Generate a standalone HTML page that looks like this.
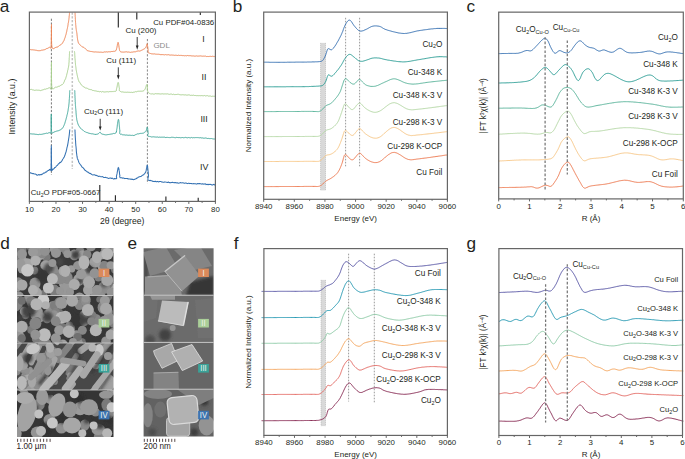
<!DOCTYPE html><html><head><meta charset="utf-8"><style>html,body{margin:0;padding:0;background:#fff;width:685px;height:459px;overflow:hidden}svg{display:block}</style></head><body><svg width="685" height="459" viewBox="0 0 685 459" font-family='"Liberation Sans", sans-serif'>
<rect width="685" height="459" fill="#fff"/>
<text x="-0.2" y="11.8" font-size="17.2" text-anchor="start" fill="#231f20" >a</text>
<text x="232.8" y="11.6" font-size="17.2" text-anchor="start" fill="#231f20" >b</text>
<text x="466.4" y="12" font-size="17.2" text-anchor="start" fill="#231f20" >c</text>
<text x="0.2" y="248.6" font-size="17.2" text-anchor="start" fill="#231f20" >d</text>
<text x="127.4" y="248.7" font-size="17.2" text-anchor="start" fill="#231f20" >e</text>
<text x="233.8" y="248.6" font-size="17.2" text-anchor="start" fill="#231f20" >f</text>
<text x="466.6" y="248.6" font-size="17.2" text-anchor="start" fill="#231f20" >g</text>
<line x1="51.4" y1="18.7" x2="51.4" y2="175" stroke="#6a6a6a" stroke-width="0.9" stroke-dasharray="2.2,1.6" />
<line x1="72.3" y1="12.5" x2="72.3" y2="169" stroke="#c4c4c4" stroke-width="1.5" stroke-dasharray="2.2,1.6" />
<line x1="147.4" y1="39" x2="147.4" y2="183.5" stroke="#7a7a7a" stroke-width="0.9" stroke-dasharray="2.2,1.6" />
<path d="M29.5,49.6 L29.8,49.5 L30.2,49.6 L30.6,49.6 L31.1,49.7 L31.7,49.8 L32.2,49.7 L32.8,49.9 L33.4,49.9 L34.0,50.0 L34.5,50.0 L35.0,50.0 L35.5,50.2 L36.0,50.4 L36.5,50.3 L37.0,50.3 L37.5,50.6 L38.0,50.7 L38.5,50.7 L39.0,50.6 L39.5,50.7 L40.0,50.5 L40.5,50.6 L41.0,50.4 L41.5,50.2 L42.0,50.1 L42.5,50.1 L43.0,50.1 L43.5,49.9 L44.0,49.8 L44.5,49.7 L45.0,49.5 L45.5,49.3 L46.0,48.9 L46.5,48.6 L47.0,48.5 L47.5,48.4 L48.0,48.1 L48.5,47.8 L48.9,47.7 L49.3,47.4 L49.6,47.3 L50.4,47.8 L50.8,48.3 L51.1,46.4 L51.1,46.2 L51.1,45.9 L51.2,45.7 L51.2,45.2 L51.2,44.7 L51.2,44.3 L51.2,43.6 L51.2,43.1 L51.3,42.6 L51.3,41.9 L51.3,41.2 L51.3,40.6 L51.3,40.1 L51.3,39.5 L51.3,38.8 L51.3,38.1 L51.3,37.3 L51.3,36.7 L51.4,36.0 L51.4,35.3 L51.4,34.5 L51.4,34.0 L51.4,33.3 L51.4,32.5 L51.4,31.8 L51.4,31.0 L51.4,30.5 L51.4,30.0 L51.4,29.5 L51.4,28.9 L51.4,28.1 L51.4,27.6 L51.4,27.2 L51.4,26.6 L51.4,26.2 L51.4,25.8 L51.5,25.4 L51.5,25.2 L51.5,25.1 L51.5,24.8 L51.5,24.7 L51.5,24.7 L51.5,24.8 L51.5,24.6 L51.5,24.8 L51.5,25.0 L51.5,25.3 L51.5,25.6 L51.5,25.8 L51.5,25.9 L51.5,26.3 L51.5,26.7 L51.5,27.3 L51.5,27.8 L51.5,28.0 L51.5,28.5 L51.5,29.1 L51.5,29.7 L51.5,30.4 L51.5,31.0 L51.5,31.5 L51.5,32.1 L51.5,32.9 L51.5,33.6 L51.5,34.4 L51.5,35.2 L51.5,35.8 L51.5,36.5 L51.5,37.2 L51.5,37.8 L51.5,38.4 L51.5,39.3 L51.5,40.0 L51.5,40.7 L51.6,41.3 L51.6,41.7 L51.6,42.3 L51.6,42.8 L51.6,43.4 L51.7,43.8 L51.7,44.3 L51.7,44.8 L51.7,45.3 L51.8,45.7 L51.8,46.0 L51.9,46.3 L51.9,46.6 L52.2,47.9 L52.7,48.5 L53.2,48.6 L53.8,48.6 L54.4,48.2 L55.0,47.7 L55.5,47.5 L56.0,47.4 L56.5,47.2 L57.0,47.0 L57.5,47.0 L58.0,46.8 L58.5,46.3 L59.0,45.9 L59.4,45.5 L59.9,45.2 L60.3,45.0 L60.7,44.8 L61.2,44.5 L61.6,44.0 L61.9,43.6 L62.3,43.4 L62.6,42.9 L62.9,42.4 L63.1,42.0 L63.4,41.4 L63.6,41.1 L63.8,40.8 L64.1,40.3 L64.3,39.6 L64.5,38.9 L64.7,38.4 L64.8,38.0 L65.0,37.7 L65.2,37.2 L65.3,36.7 L65.5,36.1 L65.6,35.5 L65.8,35.2 L65.9,34.8 L66.1,34.2 L66.2,33.7 L66.3,33.2 L66.4,32.6 L66.5,32.0 L66.7,31.6 L66.8,31.0 L66.9,30.4 L67.0,29.9 L67.1,29.4 L67.2,29.0 L67.3,28.7 L67.4,28.2 L67.5,27.6 L67.6,27.2 L67.7,26.8 L67.8,26.2 L67.9,25.5 L68.0,24.9 L68.1,24.3 L68.1,23.8 L68.2,23.3 L68.3,23.0 L68.4,22.6 L68.5,22.0 L68.6,21.4 L68.7,20.9 L68.7,20.4 L68.8,19.7 L68.9,19.3 L68.9,18.9 L69.0,18.3 L69.1,17.6 L69.1,16.9 L69.2,16.2 L69.3,15.7 L69.3,15.1 L69.4,14.7 L69.4,14.2 L69.5,13.6 L69.5,13.2 L69.6,13.0 L69.6,12.5" fill="none" stroke="#ee8454" stroke-width="1.0" stroke-linejoin="round"/>
<path d="M75.0,12.5 L75.0,12.6 L75.0,13.0 L75.1,13.6 L75.1,14.0 L75.1,14.3 L75.1,14.9 L75.2,15.5 L75.2,15.9 L75.2,16.3 L75.2,16.8 L75.3,17.3 L75.3,17.9 L75.3,18.8 L75.4,19.4 L75.4,19.9 L75.4,20.6 L75.5,21.1 L75.5,21.8 L75.5,22.3 L75.6,22.7 L75.6,23.2 L75.7,23.7 L75.7,24.3 L75.7,24.8 L75.8,25.2 L75.8,25.6 L75.9,26.3 L75.9,27.1 L76.0,27.6 L76.1,28.2 L76.1,28.8 L76.2,29.3 L76.3,29.7 L76.3,30.2 L76.4,30.6 L76.5,31.0 L76.6,31.4 L76.6,31.8 L76.7,32.3 L76.8,32.8 L76.9,33.3 L76.9,34.0 L77.0,34.5 L77.1,35.1 L77.1,35.8 L77.2,36.3 L77.3,36.8 L77.3,37.4 L77.4,38.1 L77.5,38.6 L77.6,39.0 L77.6,39.6 L77.7,40.0 L77.8,40.5 L77.9,41.1 L78.0,41.4 L78.2,42.1 L78.4,42.8 L78.6,43.2 L78.8,43.5 L79.0,43.8 L79.3,44.2 L79.6,44.5 L80.0,45.0 L80.3,45.2 L80.7,45.5 L81.2,45.9 L81.6,46.3 L82.1,46.6 L82.6,47.0 L83.1,47.2 L83.6,47.3 L84.1,47.7 L84.5,48.1 L84.9,48.3 L85.3,48.4 L85.6,48.8 L85.9,49.2 L86.1,49.4 L86.4,49.8 L86.8,50.1 L87.3,50.6 L88.0,51.0 L88.3,51.0 L88.7,50.9 L89.2,51.1 L89.6,51.2 L90.1,51.2 L90.6,51.5 L91.1,51.6 L91.6,51.5 L92.2,51.7 L92.8,51.7 L93.3,51.8 L93.9,52.0 L94.4,52.0 L95.0,51.9 L95.5,51.9 L96.1,52.0 L96.6,52.0 L97.1,52.0 L97.6,52.1 L98.0,52.2 L98.6,52.1 L99.1,52.2 L99.7,52.2 L100.1,52.1 L100.6,52.2 L101.1,52.3 L101.5,52.2 L102.0,52.1 L102.4,52.3 L102.9,52.4 L103.4,52.3 L103.9,52.0 L104.4,51.9 L105.0,51.9 L105.5,52.0 L105.9,51.9 L106.5,51.8 L107.0,51.9 L107.5,52.0 L108.1,52.0 L108.7,51.7 L109.3,51.7 L109.8,51.9 L110.4,51.8 L111.0,51.7 L111.5,51.5 L112.0,51.4 L112.6,51.5 L113.0,51.4 L113.5,51.3 L113.9,51.5 L114.3,51.4 L114.6,51.3 L115.5,50.9 L115.9,50.7 L116.1,50.2 L116.3,49.8 L116.5,49.0 L116.6,48.5 L116.8,48.2 L116.9,47.7 L117.0,46.8 L117.2,46.1 L117.3,45.5 L117.4,44.8 L117.5,44.1 L117.7,43.5 L117.8,43.0 L117.9,42.6 L118.0,42.4 L118.1,42.3 L118.2,42.5 L118.3,42.7 L118.4,43.0 L118.5,43.5 L118.6,44.1 L118.7,44.7 L118.8,45.4 L118.9,46.1 L119.0,47.0 L119.1,47.5 L119.2,47.9 L119.3,48.7 L119.4,49.4 L119.5,49.8 L119.6,50.4 L119.8,50.9 L120.1,51.3 L120.5,51.7 L120.8,51.8 L121.2,51.9 L121.7,52.1 L122.2,52.2 L122.7,52.0 L123.2,52.1 L123.8,52.1 L124.3,52.1 L124.9,51.9 L125.5,51.9 L126.0,51.8 L126.5,51.8 L127.0,51.9 L127.6,52.1 L128.1,52.0 L128.6,52.0 L129.2,52.0 L129.7,52.3 L130.3,52.4 L130.8,52.3 L131.3,52.2 L131.8,52.1 L132.3,52.1 L132.9,52.1 L133.4,51.9 L133.9,51.9 L134.5,51.8 L135.0,51.9 L135.5,51.8 L135.9,51.5 L136.4,51.3 L136.8,51.4 L137.2,51.2 L137.9,51.0 L138.4,50.9 L138.9,51.1 L139.4,51.1 L140.0,51.0 L140.5,50.8 L141.0,50.6 L141.5,50.3 L142.1,50.0 L142.6,49.8 L143.1,49.6 L143.6,49.2 L144.0,49.0 L144.5,48.7 L145.0,48.3 L145.4,48.0 L145.7,47.6 L146.0,47.1 L146.2,46.6 L146.4,46.0 L146.6,45.4 L146.8,44.6 L146.9,44.0 L147.1,43.8 L147.2,43.7 L147.3,43.9 L147.4,44.3 L147.5,44.6 L147.5,45.4 L147.6,46.1 L147.7,46.7 L147.8,47.4 L147.8,48.0 L147.9,48.4 L148.0,49.0 L148.1,49.6 L148.1,50.3 L148.1,50.9 L148.1,51.5 L148.2,52.0 L148.3,52.5 L148.5,52.9 L148.9,53.2 L149.2,53.2 L149.6,53.2 L150.0,53.4 L150.5,53.5 L150.9,53.6 L151.5,53.8 L152.0,53.9 L152.6,53.9 L153.2,53.9 L153.8,54.0 L154.4,53.9 L155.0,53.9 L155.4,54.1 L155.8,54.2 L156.1,54.2 L156.5,54.2 L156.8,54.2 L157.1,54.1 L157.5,54.3 L157.8,54.2 L158.2,54.2 L158.7,54.3 L159.1,54.4 L159.7,54.4 L160.3,54.6 L161.0,54.7 L161.8,54.6 L162.6,54.6 L163.6,54.7 L163.9,54.8 L164.3,54.9 L164.7,54.8 L165.1,54.8 L165.4,54.6 L165.9,54.6 L166.3,54.7 L166.7,54.9 L167.1,54.8 L167.6,54.8 L168.0,54.7 L168.5,54.7 L169.0,54.8 L169.5,55.0 L170.0,55.1 L170.5,55.1 L171.0,55.0 L171.5,55.0 L172.0,55.1 L172.5,55.1 L173.1,55.0 L173.6,55.2 L174.1,55.2 L174.7,55.4 L175.2,55.4 L175.8,55.1 L176.3,55.2 L176.9,55.5 L177.4,55.5 L178.0,55.4 L178.6,55.2 L179.1,55.3 L179.7,55.5 L180.3,55.4 L180.8,55.4 L181.4,55.4 L182.0,55.5 L182.5,55.6 L183.1,55.5 L183.6,55.6 L184.2,55.7 L184.7,55.8 L185.3,55.7 L185.8,55.6 L186.4,55.8 L186.9,55.7 L187.4,55.5 L188.0,55.5 L188.5,55.7 L189.0,55.7 L189.5,55.7 L190.0,55.6 L190.5,55.7 L191.0,55.8 L191.6,55.9 L192.1,55.8 L192.7,56.0 L193.2,56.0 L193.8,55.9 L194.3,56.1 L194.9,56.1 L195.5,56.1 L196.1,56.0 L196.6,55.9 L197.2,56.0 L197.8,56.2 L198.4,56.1 L199.0,56.0 L199.6,56.0 L200.1,56.0 L200.7,55.9 L201.3,56.0 L201.9,56.2 L202.5,56.2 L203.0,56.3 L203.6,56.1 L204.2,56.1 L204.7,56.2 L205.3,56.1 L205.8,56.2 L206.3,56.5 L206.9,56.5 L207.4,56.5 L207.9,56.4 L208.4,56.5 L208.9,56.5 L209.4,56.4 L209.9,56.4 L210.3,56.3 L210.8,56.4 L211.2,56.4 L211.6,56.5 L212.0,56.5 L212.4,56.3 L212.8,56.3 L213.2,56.5 L213.5,56.4 L213.9,56.4 L214.2,56.4 L214.5,56.4 L214.7,56.6 L215.0,56.5" fill="none" stroke="#ee8454" stroke-width="1.0" stroke-linejoin="round"/>
<path d="M29.5,89.4 L29.8,89.4 L30.1,89.4 L30.5,89.5 L30.9,89.5 L31.3,89.4 L31.8,89.5 L32.3,89.7 L32.8,90.0 L33.3,90.0 L33.9,90.0 L34.4,90.3 L35.0,90.4 L35.6,90.2 L36.2,90.1 L36.8,90.1 L37.3,90.2 L37.9,90.2 L38.5,90.2 L39.0,90.2 L39.5,90.3 L40.0,90.4 L40.5,90.6 L41.1,90.4 L41.7,90.2 L42.2,90.0 L42.8,89.9 L43.4,89.7 L44.0,89.5 L44.5,89.2 L45.1,89.2 L45.6,89.2 L46.2,88.9 L46.7,88.7 L47.2,88.7 L47.7,88.6 L48.1,88.2 L48.5,88.0 L48.9,87.9 L49.3,87.8 L49.6,87.8 L50.7,88.5 L51.0,89.3 L51.1,87.1 L51.1,86.5 L51.1,86.2 L51.2,86.1 L51.2,85.9 L51.2,85.3 L51.2,84.8 L51.2,84.1 L51.2,83.8 L51.2,83.5 L51.3,83.0 L51.3,82.4 L51.3,81.8 L51.3,80.9 L51.3,80.1 L51.3,79.5 L51.3,79.0 L51.3,78.5 L51.3,78.0 L51.3,77.2 L51.3,76.5 L51.3,75.8 L51.4,75.0 L51.4,74.2 L51.4,73.4 L51.4,72.9 L51.4,72.2 L51.4,71.7 L51.4,71.0 L51.4,70.1 L51.4,69.3 L51.4,68.8 L51.4,68.4 L51.4,67.8 L51.4,66.9 L51.4,66.4 L51.4,66.0 L51.4,65.6 L51.4,65.0 L51.4,64.5 L51.4,64.1 L51.4,63.6 L51.4,63.3 L51.5,63.1 L51.5,63.0 L51.5,62.8 L51.5,62.6 L51.5,62.2 L51.5,61.9 L51.5,61.9 L51.5,62.2 L51.5,62.1 L51.5,62.0 L51.5,62.0 L51.5,62.3 L51.5,62.6 L51.5,62.8 L51.5,63.0 L51.5,63.5 L51.5,64.0 L51.5,64.1 L51.5,64.4 L51.5,64.9 L51.5,65.5 L51.5,66.1 L51.5,66.5 L51.5,67.3 L51.5,67.9 L51.5,68.3 L51.5,68.9 L51.5,69.7 L51.5,70.3 L51.5,70.9 L51.5,71.4 L51.5,72.1 L51.5,72.9 L51.5,73.6 L51.5,74.4 L51.5,75.0 L51.5,75.5 L51.5,76.2 L51.5,77.0 L51.5,77.9 L51.5,78.6 L51.5,79.0 L51.5,79.6 L51.6,80.3 L51.6,81.1 L51.6,81.5 L51.6,81.9 L51.6,82.5 L51.6,83.3 L51.7,84.1 L51.7,84.6 L51.7,85.0 L51.7,85.6 L51.8,85.9 L51.8,86.0 L51.8,86.3 L51.9,86.9 L51.9,87.1 L52.2,88.2 L52.6,89.0 L53.1,89.1 L53.6,88.7 L54.1,88.2 L54.8,87.6 L55.5,87.2 L55.9,87.2 L56.3,87.2 L56.8,87.2 L57.3,86.9 L57.9,86.8 L58.4,86.4 L59.0,86.2 L59.5,86.2 L60.1,85.9 L60.6,85.4 L61.1,85.0 L61.5,84.9 L61.9,84.7 L62.3,84.6 L62.8,84.0 L63.2,83.6 L63.5,83.3 L63.7,82.7 L63.9,82.3 L64.1,82.1 L64.3,81.6 L64.5,80.8 L64.7,80.2 L64.9,79.9 L65.1,79.8 L65.3,79.2 L65.5,78.9 L65.7,78.4 L65.9,77.7 L66.0,77.2 L66.2,76.9 L66.3,76.3 L66.5,75.7 L66.6,75.3 L66.7,74.7 L66.9,74.0 L67.0,73.5 L67.1,73.3 L67.2,72.9 L67.4,72.3 L67.5,71.7 L67.6,70.8 L67.7,70.3 L67.8,70.1 L67.9,69.9 L68.0,69.5 L68.1,68.9 L68.2,68.3 L68.3,67.9 L68.4,67.6 L68.5,67.1 L68.6,66.3 L68.7,65.8 L68.8,65.1 L68.8,64.7 L68.9,64.3 L68.9,63.7 L68.9,63.1 L69.0,62.5 L69.0,62.1 L69.1,61.6 L69.1,60.8 L69.1,60.2 L69.2,59.8 L69.2,59.1 L69.2,58.3 L69.3,57.7 L69.3,57.3 L69.3,56.8 L69.4,56.4 L69.4,55.9 L69.4,55.3 L69.4,54.4 L69.5,53.7 L69.5,53.2 L69.5,53.0 L69.5,52.6 L69.5,52.1 L69.6,51.7 L69.6,51.4 L69.6,51.2" fill="none" stroke="#a9d08f" stroke-width="1.0" stroke-linejoin="round"/>
<path d="M74.5,51.2 L74.5,51.6 L74.5,52.0 L74.6,52.2 L74.6,52.4 L74.6,52.9 L74.7,53.3 L74.7,53.7 L74.7,54.2 L74.8,54.8 L74.8,55.1 L74.8,55.6 L74.9,56.1 L74.9,56.8 L74.9,57.6 L75.0,58.1 L75.0,58.5 L75.1,59.2 L75.1,60.0 L75.2,60.4 L75.2,60.9 L75.3,61.7 L75.3,62.3 L75.4,62.9 L75.4,63.2 L75.5,63.9 L75.5,64.6 L75.6,65.2 L75.6,65.6 L75.7,65.8 L75.7,66.2 L75.8,66.7 L75.9,67.4 L76.0,68.3 L76.0,68.8 L76.1,69.4 L76.2,69.9 L76.3,70.5 L76.4,71.0 L76.5,71.5 L76.6,72.3 L76.7,72.8 L76.8,73.1 L76.9,73.7 L77.0,74.3 L77.1,74.6 L77.2,75.1 L77.3,75.5 L77.4,76.0 L77.5,76.5 L77.6,77.1 L77.7,77.5 L77.8,77.7 L77.9,78.0 L78.0,78.5 L78.2,79.4 L78.4,79.9 L78.6,80.4 L78.7,80.9 L78.9,81.5 L79.1,81.8 L79.4,81.9 L79.7,82.3 L80.0,82.9 L80.3,83.4 L80.5,83.7 L80.8,83.8 L81.0,84.2 L81.3,84.8 L81.6,85.1 L81.9,85.3 L82.3,85.8 L82.7,86.3 L83.1,86.5 L83.7,86.8 L84.2,87.1 L84.9,87.5 L85.2,87.9 L85.6,88.1 L86.0,88.0 L86.4,88.0 L86.8,88.3 L87.2,88.3 L87.6,88.5 L88.1,88.9 L88.5,89.1 L89.0,89.3 L89.5,89.4 L90.0,89.6 L90.5,89.6 L91.0,89.6 L91.5,89.7 L92.0,90.1 L92.5,90.4 L93.1,90.5 L93.6,90.5 L94.2,90.7 L94.7,90.8 L95.2,90.9 L95.8,90.9 L96.3,91.0 L96.9,91.3 L97.4,91.4 L98.0,91.3 L98.5,91.4 L98.9,91.7 L99.4,91.8 L99.9,91.5 L100.5,91.5 L101.0,91.9 L101.6,92.0 L102.1,91.7 L102.7,91.6 L103.2,91.9 L103.8,91.8 L104.4,92.0 L105.0,91.9 L105.6,91.9 L106.1,91.7 L106.7,91.8 L107.3,91.7 L107.9,91.8 L108.4,91.9 L109.0,91.9 L109.5,91.6 L110.0,91.5 L110.5,91.6 L111.0,91.7 L111.5,91.6 L112.0,91.4 L112.4,91.5 L112.9,91.7 L113.3,91.7 L113.6,91.4 L114.0,91.5 L114.3,91.5 L114.6,91.3 L115.8,91.2 L116.3,90.8 L116.5,90.6 L116.4,90.2 L116.4,89.7 L116.5,88.9 L116.6,88.6 L116.8,88.1 L116.9,87.5 L117.0,87.0 L117.2,86.2 L117.3,85.5 L117.4,84.7 L117.5,84.3 L117.6,83.7 L117.8,83.2 L117.9,83.0 L118.0,82.8 L118.1,82.5 L118.2,82.4 L118.3,82.7 L118.5,83.0 L118.6,83.5 L118.7,84.2 L118.8,84.8 L118.9,85.6 L119.0,86.3 L119.1,86.8 L119.2,87.5 L119.3,87.9 L119.4,88.7 L119.3,89.3 L119.3,89.7 L119.2,90.0 L119.4,90.6 L119.8,91.1 L120.5,91.5 L120.8,91.5 L121.2,91.7 L121.6,92.0 L122.0,92.0 L122.5,91.9 L123.0,91.9 L123.5,92.1 L124.1,92.1 L124.7,92.3 L125.3,92.3 L125.9,92.1 L126.5,92.3 L127.1,92.4 L127.7,92.1 L128.3,92.2 L128.9,92.4 L129.4,92.3 L130.0,92.4 L130.5,92.4 L131.0,92.4 L131.5,92.3 L131.9,92.4 L132.3,92.5 L133.1,92.3 L133.7,92.2 L134.2,92.2 L134.7,92.0 L135.1,91.8 L135.4,91.7 L135.8,91.6 L136.2,91.8 L136.7,91.7 L137.2,91.5 L137.7,91.3 L138.2,91.3 L138.7,91.2 L139.3,91.2 L139.8,91.3 L140.4,91.2 L141.0,91.3 L141.6,91.2 L142.1,91.2 L142.6,91.1 L143.1,90.8 L143.6,90.8 L144.0,90.5 L144.4,90.1 L144.7,89.7 L145.0,89.1 L145.3,88.6 L145.6,87.9 L145.8,87.2 L146.0,86.6 L146.2,85.9 L146.4,85.3 L146.6,85.0 L146.8,84.5 L147.0,84.5 L147.2,84.5 L147.3,84.7 L147.4,85.1 L147.4,85.4 L147.4,85.8 L147.4,86.1 L147.4,86.5 L147.4,87.2 L147.4,88.0 L147.4,88.8 L147.4,89.5 L147.5,90.3 L147.6,91.0 L147.7,91.3 L147.9,91.9 L148.2,92.5 L148.6,92.7 L149.0,93.0 L149.3,93.3 L149.5,93.4 L149.8,93.5 L150.1,93.7 L150.3,93.9 L150.6,93.9 L150.8,93.9 L151.1,94.0 L151.4,94.0 L151.7,93.9 L152.0,94.1 L152.3,93.9 L152.6,93.8 L153.0,93.8 L153.4,94.0 L153.8,94.2 L154.3,94.1 L154.8,93.9 L155.3,93.7 L155.9,93.6 L156.6,93.8 L157.2,93.8 L158.0,93.8 L158.8,93.8 L159.6,93.9 L160.5,94.0 L161.5,93.9 L162.5,93.8 L163.6,94.0 L163.9,93.8 L164.3,93.9 L164.6,93.9 L165.0,93.8 L165.4,93.8 L165.7,94.0 L166.1,93.9 L166.6,94.0 L167.0,94.2 L167.4,93.9 L167.8,93.9 L168.3,94.1 L168.7,94.2 L169.2,94.3 L169.7,94.3 L170.1,94.1 L170.6,94.1 L171.1,94.1 L171.6,94.1 L172.1,94.4 L172.7,94.5 L173.2,94.4 L173.7,94.2 L174.3,94.5 L174.8,94.6 L175.3,94.5 L175.9,94.6 L176.5,94.5 L177.0,94.3 L177.6,94.3 L178.2,94.3 L178.7,94.3 L179.3,94.5 L179.9,94.8 L180.5,94.8 L181.1,94.9 L181.7,94.8 L182.3,94.7 L182.9,94.8 L183.5,94.8 L184.1,95.0 L184.7,94.9 L185.3,94.8 L185.9,95.0 L186.5,95.1 L187.1,95.0 L187.8,95.1 L188.4,94.9 L189.0,94.9 L189.6,95.0 L190.2,95.3 L190.8,95.4 L191.4,95.3 L192.0,95.2 L192.7,95.4 L193.3,95.2 L193.9,95.2 L194.5,95.5 L195.1,95.5 L195.7,95.5 L196.3,95.6 L196.8,95.7 L197.4,95.6 L198.0,95.7 L198.6,95.7 L199.2,95.7 L199.7,95.6 L200.3,95.7 L200.9,95.7 L201.4,95.6 L202.0,95.6 L202.5,95.7 L203.1,95.6 L203.6,95.8 L204.1,95.6 L204.6,95.5 L205.2,95.7 L205.7,96.0 L206.2,95.8 L206.7,95.7 L207.1,95.6 L207.6,95.7 L208.1,96.0 L208.5,96.1 L209.0,96.2 L209.4,96.1 L209.9,95.9 L210.3,96.0 L210.7,96.1 L211.1,96.3 L211.5,96.4 L211.9,96.3 L212.2,96.1 L212.6,96.3 L212.9,96.5 L213.3,96.4 L213.6,96.1 L213.9,96.0 L214.2,96.0 L214.5,96.1 L214.7,96.4 L215.0,96.3" fill="none" stroke="#a9d08f" stroke-width="1.0" stroke-linejoin="round"/>
<path d="M29.5,133.8 L29.8,134.0 L30.1,133.9 L30.5,133.8 L30.9,133.7 L31.3,133.8 L31.8,134.0 L32.3,134.0 L32.8,134.0 L33.3,134.0 L33.9,134.0 L34.4,134.1 L35.0,134.2 L35.6,134.3 L36.2,134.3 L36.8,134.4 L37.3,134.5 L37.9,134.5 L38.5,134.6 L39.0,134.5 L39.5,134.3 L40.0,134.3 L40.5,134.4 L41.1,134.4 L41.7,134.3 L42.2,134.2 L42.8,134.1 L43.4,133.9 L44.0,133.9 L44.5,133.7 L45.1,133.7 L45.6,133.4 L46.2,133.2 L46.7,133.2 L47.2,133.3 L47.7,133.3 L48.1,132.9 L48.6,132.9 L48.9,132.9 L49.3,132.8 L49.6,132.6 L50.7,133.0 L50.9,133.4 L51.0,132.1 L51.0,131.7 L51.0,131.5 L51.1,130.9 L51.1,130.4 L51.1,130.1 L51.1,129.5 L51.1,128.9 L51.1,128.3 L51.2,127.7 L51.2,127.2 L51.2,126.6 L51.2,125.9 L51.2,125.2 L51.2,124.4 L51.2,123.6 L51.2,123.0 L51.2,122.4 L51.2,121.6 L51.2,121.0 L51.2,120.1 L51.2,119.4 L51.2,118.9 L51.2,118.5 L51.2,117.8 L51.2,117.2 L51.2,116.8 L51.2,116.2 L51.3,115.7 L51.3,115.4 L51.3,115.2 L51.3,114.9 L51.3,114.6 L51.3,114.3 L51.3,114.1 L51.3,114.1 L51.3,114.3 L51.3,114.5 L51.3,114.6 L51.3,114.6 L51.3,115.0 L51.3,115.4 L51.3,115.8 L51.3,116.1 L51.3,116.6 L51.3,117.3 L51.3,117.6 L51.3,118.1 L51.3,118.8 L51.3,119.6 L51.3,120.3 L51.3,120.8 L51.3,121.4 L51.3,122.1 L51.3,122.9 L51.3,123.6 L51.3,124.2 L51.3,124.9 L51.3,125.6 L51.4,126.5 L51.4,127.1 L51.4,127.6 L51.4,128.3 L51.4,128.8 L51.5,129.4 L51.5,130.1 L51.5,130.6 L51.6,130.9 L51.6,131.2 L51.6,131.4 L51.7,131.8 L52.0,132.7 L52.4,133.0 L52.9,132.9 L53.5,132.4 L54.2,132.0 L55.0,131.7 L55.4,131.6 L55.7,131.4 L56.2,131.3 L56.6,131.1 L57.1,130.9 L57.6,130.9 L58.1,130.7 L58.6,130.7 L59.1,130.5 L59.6,130.2 L60.1,130.0 L60.6,129.7 L61.1,129.3 L61.5,129.0 L61.9,128.8 L62.3,128.5 L62.6,128.1 L62.8,127.8 L63.0,127.4 L63.3,127.0 L63.5,126.5 L63.7,126.0 L63.9,125.6 L64.1,125.2 L64.3,124.6 L64.5,124.2 L64.6,123.9 L64.8,123.4 L65.0,122.8 L65.1,122.2 L65.3,121.7 L65.4,121.2 L65.6,120.7 L65.7,120.1 L65.9,119.7 L66.0,119.2 L66.2,118.5 L66.3,118.1 L66.4,117.7 L66.6,117.1 L66.7,116.7 L66.8,116.3 L66.9,115.6 L67.0,115.2 L67.1,114.7 L67.3,114.4 L67.4,114.0 L67.5,113.3 L67.6,112.7 L67.7,112.3 L67.8,111.8 L67.9,111.3 L68.0,110.8 L68.1,110.3 L68.2,109.8 L68.2,109.2 L68.3,108.7 L68.4,108.2 L68.5,107.5 L68.6,107.0 L68.7,106.5 L68.7,106.0 L68.8,105.4 L68.9,105.0 L68.9,104.4 L69.0,103.7 L69.0,103.2 L69.1,102.7 L69.1,102.1 L69.2,101.6 L69.2,101.1 L69.2,100.6 L69.3,99.9 L69.3,99.2 L69.4,98.6 L69.4,98.3 L69.4,97.7 L69.5,97.0 L69.5,96.3 L69.5,95.9 L69.5,95.3 L69.6,94.6 L69.6,94.1 L69.6,93.8 L69.6,93.4 L69.7,92.8 L69.7,92.3 L69.7,91.9 L69.7,91.4 L69.7,91.2 L69.8,90.8 L69.8,90.5 L69.8,90.2" fill="none" stroke="#3fa79a" stroke-width="1.0" stroke-linejoin="round"/>
<path d="M74.7,90.2 L74.7,90.5 L74.7,90.7 L74.7,91.0 L74.8,91.3 L74.8,91.9 L74.8,92.2 L74.8,92.7 L74.8,93.0 L74.9,93.4 L74.9,93.9 L74.9,94.4 L74.9,94.8 L74.9,95.3 L75.0,96.0 L75.0,96.5 L75.0,97.0 L75.0,97.6 L75.1,98.2 L75.1,98.8 L75.1,99.5 L75.2,100.0 L75.2,100.6 L75.2,101.3 L75.2,101.9 L75.3,102.3 L75.3,103.0 L75.3,103.7 L75.4,104.2 L75.4,104.6 L75.4,105.3 L75.5,105.8 L75.5,106.1 L75.6,106.7 L75.6,107.5 L75.6,108.0 L75.7,108.3 L75.7,108.7 L75.8,109.2 L75.8,109.7 L75.9,110.4 L75.9,110.9 L76.0,111.5 L76.0,112.3 L76.1,112.9 L76.1,113.3 L76.2,114.0 L76.2,114.6 L76.3,115.1 L76.3,115.7 L76.4,116.3 L76.4,116.8 L76.5,117.2 L76.5,117.6 L76.6,118.2 L76.7,118.7 L76.7,119.2 L76.8,119.7 L76.9,120.2 L77.0,120.6 L77.1,120.9 L77.2,121.3 L77.3,121.8 L77.4,122.3 L77.6,122.6 L77.7,123.1 L77.8,123.5 L78.0,124.0 L78.2,124.5 L78.5,125.1 L78.7,125.6 L79.0,125.9 L79.3,126.5 L79.6,127.0 L79.9,127.4 L80.3,127.9 L80.6,128.3 L81.0,128.5 L81.3,128.9 L81.7,129.3 L82.1,129.5 L82.4,129.9 L82.8,130.2 L83.2,130.4 L83.6,130.8 L84.1,131.2 L84.5,131.5 L84.9,131.6 L85.3,132.0 L85.8,132.1 L86.3,132.3 L86.8,132.6 L87.4,132.6 L87.9,132.9 L88.5,133.1 L89.0,133.2 L89.6,133.4 L90.2,133.5 L90.7,133.6 L91.3,133.7 L91.8,133.9 L92.4,133.8 L92.9,133.9 L93.4,134.0 L93.8,134.2 L94.2,134.3 L94.6,134.3 L95.0,134.4 L95.9,134.4 L96.5,134.3 L97.1,134.2 L97.5,134.1 L97.8,134.0 L98.2,133.8 L98.5,133.6 L99.1,133.1 L99.5,132.6 L99.8,132.3 L100.2,132.2 L100.5,132.5 L100.7,132.9 L101.0,133.3 L101.5,133.9 L101.9,134.1 L102.2,134.2 L102.7,134.2 L103.1,134.3 L103.7,134.4 L104.4,134.6 L105.3,134.8 L105.7,134.8 L106.1,134.8 L106.6,134.8 L107.0,134.8 L107.6,134.6 L108.1,134.5 L108.7,134.5 L109.3,134.4 L109.8,134.3 L110.4,134.2 L111.0,134.0 L111.6,134.0 L112.1,133.9 L112.6,133.8 L113.1,133.6 L113.6,133.4 L114.0,133.3 L114.4,133.5 L114.7,133.5 L115.5,133.1 L116.0,132.9 L116.1,132.8 L116.3,132.2 L116.5,131.0 L116.6,130.6 L116.7,130.1 L116.7,129.7 L116.8,129.2 L116.9,128.7 L117.0,128.2 L117.1,127.6 L117.2,126.7 L117.3,126.0 L117.3,125.2 L117.4,124.6 L117.5,124.1 L117.6,123.5 L117.7,122.9 L117.8,122.1 L117.9,121.4 L117.9,121.0 L118.0,120.7 L118.1,120.4 L118.2,120.1 L118.3,119.7 L118.3,119.4 L118.4,119.3 L118.5,119.4 L118.6,119.5 L118.6,119.6 L118.7,119.9 L118.8,120.3 L118.8,121.0 L118.9,121.5 L119.0,122.2 L119.1,122.7 L119.1,123.4 L119.2,123.9 L119.2,124.6 L119.3,125.4 L119.4,126.1 L119.4,126.8 L119.5,127.3 L119.6,127.9 L119.6,128.7 L119.7,129.3 L119.7,129.8 L119.8,130.1 L119.9,130.8 L119.8,131.6 L119.7,132.3 L119.7,132.8 L119.7,133.3 L119.8,133.6 L120.2,134.1 L120.9,134.4 L121.2,134.2 L121.6,134.3 L122.0,134.6 L122.4,134.8 L122.9,134.6 L123.4,134.8 L123.9,134.9 L124.5,134.9 L125.1,135.1 L125.7,135.1 L126.3,135.0 L126.9,135.1 L127.5,135.2 L128.1,135.2 L128.8,135.3 L129.4,135.2 L130.0,135.3 L130.5,135.3 L131.1,135.4 L131.6,135.4 L132.1,135.3 L132.5,135.3 L132.9,135.4 L133.3,135.5 L134.2,135.4 L134.9,135.1 L135.4,134.8 L135.7,134.6 L136.1,134.6 L136.4,134.4 L136.8,134.2 L137.4,133.9 L137.9,133.9 L138.4,133.9 L138.9,133.8 L139.5,133.6 L140.0,133.4 L140.6,133.4 L141.2,133.5 L141.7,133.3 L142.3,133.3 L142.8,133.2 L143.2,133.2 L143.6,133.0 L144.2,132.6 L144.7,132.2 L145.1,132.0 L145.4,131.8 L145.7,131.5 L146.0,131.2 L146.2,130.7 L146.4,129.9 L146.6,129.3 L146.7,128.7 L146.9,128.1 L147.0,127.5 L147.2,127.1 L147.3,127.2 L147.4,127.4 L147.5,127.8 L147.6,128.2 L147.7,128.6 L147.7,129.1 L147.8,129.9 L147.9,130.7 L148.0,131.3 L148.0,132.0 L148.1,132.7 L148.2,133.0 L148.2,133.7 L148.0,134.3 L147.7,134.7 L147.6,135.1 L147.7,135.6 L148.2,136.2 L149.2,136.5 L149.5,136.4 L149.8,136.4 L150.1,136.7 L150.4,136.7 L150.7,136.6 L151.1,136.8 L151.4,136.9 L151.8,137.0 L152.2,136.9 L152.6,136.9 L153.0,136.9 L153.5,136.8 L153.9,136.8 L154.4,136.9 L154.9,137.0 L155.3,137.0 L155.8,137.1 L156.4,137.1 L156.9,137.1 L157.4,137.0 L158.0,137.0 L158.5,137.3 L159.1,137.2 L159.7,137.1 L160.3,137.2 L160.9,137.3 L161.5,137.2 L162.1,137.2 L162.7,137.2 L163.4,137.2 L164.0,137.1 L164.7,137.2 L165.3,137.5 L166.0,137.5 L166.7,137.4 L167.4,137.4 L167.8,137.4 L168.2,137.5 L168.6,137.5 L169.1,137.6 L169.5,137.6 L169.9,137.6 L170.4,137.6 L170.9,137.4 L171.3,137.3 L171.8,137.3 L172.3,137.3 L172.8,137.3 L173.3,137.3 L173.8,137.5 L174.3,137.6 L174.8,137.6 L175.4,137.7 L175.9,137.7 L176.4,137.4 L177.0,137.5 L177.5,137.5 L178.0,137.5 L178.6,137.6 L179.1,137.5 L179.7,137.6 L180.3,137.7 L180.8,137.8 L181.4,137.7 L181.9,137.5 L182.5,137.5 L183.1,137.5 L183.6,137.8 L184.2,137.8 L184.7,137.5 L185.3,137.4 L185.9,137.4 L186.4,137.6 L187.0,137.8 L187.5,137.8 L188.1,137.7 L188.6,137.5 L189.2,137.7 L189.7,137.7 L190.2,137.8 L190.8,137.8 L191.3,137.5 L191.8,137.5 L192.3,137.7 L192.8,137.9 L193.3,137.7 L193.8,137.6 L194.3,137.7 L194.8,137.7 L195.3,137.6 L195.7,137.6 L196.2,137.6 L196.6,137.6 L197.1,137.6 L197.5,137.6 L197.9,137.6 L198.3,137.6 L198.7,137.7 L199.1,137.7 L199.5,137.8 L200.3,137.7 L201.0,137.7 L201.7,138.0 L202.4,137.9 L203.1,138.1 L203.8,138.2 L204.4,138.2 L205.1,138.0 L205.7,138.0 L206.3,138.1 L206.9,138.4 L207.4,138.5 L208.0,138.4 L208.5,138.4 L209.0,138.4 L209.5,138.6 L210.0,138.6 L210.4,138.6 L210.9,138.5 L211.3,138.5 L211.7,138.6 L212.1,138.8 L212.5,138.8 L212.9,138.8 L213.2,139.0 L213.6,138.9 L213.9,138.9 L214.2,138.9 L214.5,139.0 L214.7,139.1 L215.0,139.1" fill="none" stroke="#3fa79a" stroke-width="1.0" stroke-linejoin="round"/>
<path d="M29.5,172.6 L29.8,172.5 L30.1,172.7 L30.5,173.0 L30.9,172.9 L31.3,173.3 L31.8,173.2 L32.3,173.6 L32.8,173.7 L33.3,173.6 L33.9,173.8 L34.4,173.9 L35.0,174.0 L35.6,174.1 L36.2,174.5 L36.8,175.0 L37.3,175.3 L37.9,175.1 L38.5,174.6 L39.0,174.7 L39.5,175.0 L40.0,174.6 L40.5,174.7 L41.0,174.6 L41.5,174.6 L42.0,174.1 L42.5,174.1 L43.0,173.7 L43.6,173.1 L44.1,172.9 L44.6,173.1 L45.1,172.7 L45.6,172.1 L46.1,172.0 L46.6,171.9 L47.0,171.3 L47.5,171.0 L47.9,170.6 L48.3,170.4 L48.7,170.5 L49.0,170.3 L49.3,169.7 L49.6,169.4 L50.7,169.7 L50.9,170.7 L51.0,169.0 L51.0,168.5 L51.0,168.2 L51.1,168.1 L51.1,167.9 L51.1,167.5 L51.1,166.8 L51.1,166.0 L51.1,165.4 L51.1,165.2 L51.1,164.6 L51.1,164.0 L51.2,163.2 L51.2,162.8 L51.2,162.1 L51.2,161.7 L51.2,161.1 L51.2,160.1 L51.2,159.2 L51.2,158.9 L51.2,158.2 L51.2,157.5 L51.2,156.5 L51.2,155.7 L51.2,155.4 L51.2,154.5 L51.2,153.6 L51.2,153.1 L51.2,152.5 L51.2,151.7 L51.2,151.2 L51.2,150.7 L51.2,150.1 L51.2,149.5 L51.2,149.3 L51.2,149.0 L51.2,148.5 L51.3,147.8 L51.3,147.5 L51.3,147.1 L51.3,146.8 L51.3,146.3 L51.3,146.5 L51.3,146.4 L51.3,146.0 L51.3,145.8 L51.3,145.8 L51.3,145.7 L51.3,145.7 L51.3,146.2 L51.3,146.1 L51.3,146.1 L51.3,146.3 L51.3,146.8 L51.4,147.4 L51.4,147.4 L51.4,147.9 L51.4,148.6 L51.4,148.9 L51.4,149.3 L51.4,150.2 L51.4,150.9 L51.4,151.5 L51.4,152.1 L51.4,152.5 L51.4,153.5 L51.4,154.1 L51.4,154.3 L51.4,155.0 L51.4,155.9 L51.4,156.7 L51.5,157.2 L51.5,157.8 L51.5,158.6 L51.5,159.3 L51.5,160.3 L51.5,161.1 L51.5,161.4 L51.5,162.2 L51.5,162.9 L51.5,163.4 L51.5,164.3 L51.6,165.0 L51.6,165.2 L51.6,165.7 L51.6,166.4 L51.6,166.8 L51.6,167.2 L51.6,167.9 L51.7,168.1 L51.7,168.1 L51.7,168.3 L51.8,170.6 L53.0,169.1 L53.2,169.3 L53.5,169.1 L53.7,168.9 L54.0,168.6 L54.4,168.2 L54.7,167.4 L55.1,167.4 L55.4,167.4 L55.8,167.0 L56.2,166.2 L56.7,165.8 L57.1,165.6 L57.5,165.1 L57.9,164.6 L58.3,164.0 L58.8,163.8 L59.2,163.4 L59.6,162.7 L60.0,162.4 L60.4,162.6 L60.7,162.3 L61.1,161.9 L61.4,161.4 L61.7,161.0 L62.0,160.8 L62.3,160.2 L62.6,159.3 L62.9,159.0 L63.2,158.6 L63.5,158.2 L63.7,157.7 L64.0,157.4 L64.2,157.2 L64.4,156.6 L64.6,155.9 L64.8,155.6 L64.9,155.2 L65.1,155.0 L65.2,154.2 L65.4,153.7 L65.6,153.3 L65.7,152.6 L65.9,152.4 L66.0,152.1 L66.2,151.3 L66.3,150.6 L66.4,150.3 L66.6,149.8 L66.7,149.1 L66.8,148.5 L66.9,148.0 L67.0,147.6 L67.1,147.2 L67.3,146.6 L67.4,146.0 L67.5,145.5 L67.6,145.3 L67.7,145.0 L67.8,144.3 L67.9,143.7 L68.0,143.1 L68.1,142.4 L68.2,142.1 L68.2,141.5 L68.3,141.0 L68.4,140.6 L68.5,140.0 L68.6,139.3 L68.7,138.8 L68.7,138.4 L68.8,138.1 L68.9,137.5 L69.0,136.8 L69.1,135.9 L69.2,135.5 L69.2,135.2 L69.3,134.3 L69.4,133.8 L69.4,133.2 L69.5,132.7 L69.5,132.4 L69.6,131.7 L69.6,131.3 L69.7,130.5 L69.7,130.1 L69.7,130.1 L69.8,129.6 L69.8,129.4" fill="none" stroke="#3572b3" stroke-width="1.05" stroke-linejoin="round"/>
<path d="M74.9,129.4 L74.9,129.7 L74.9,130.0 L75.0,130.0 L75.0,130.5 L75.0,131.3 L75.0,131.6 L75.0,131.6 L75.1,132.1 L75.1,132.7 L75.1,133.4 L75.1,134.0 L75.2,134.6 L75.2,135.1 L75.2,135.5 L75.2,136.1 L75.3,136.7 L75.3,137.3 L75.3,137.7 L75.4,138.4 L75.4,139.1 L75.4,139.6 L75.5,139.9 L75.5,140.6 L75.6,140.9 L75.6,141.8 L75.6,142.4 L75.7,143.0 L75.7,143.7 L75.7,144.1 L75.8,144.5 L75.8,145.3 L75.9,145.8 L75.9,146.1 L76.0,146.4 L76.0,146.8 L76.1,147.5 L76.1,148.2 L76.2,148.5 L76.2,149.1 L76.3,149.7 L76.3,150.2 L76.3,150.7 L76.4,151.6 L76.4,152.2 L76.5,152.5 L76.5,152.8 L76.6,153.2 L76.6,153.6 L76.7,154.2 L76.8,154.9 L76.8,155.4 L76.9,155.7 L77.0,156.5 L77.1,156.9 L77.2,157.6 L77.3,158.2 L77.4,158.5 L77.5,158.6 L77.7,159.1 L77.8,159.7 L78.0,159.7 L78.2,160.1 L78.4,160.9 L78.6,161.6 L78.9,162.3 L79.1,162.7 L79.4,163.1 L79.6,163.7 L79.9,164.0 L80.2,164.3 L80.5,164.8 L80.8,165.1 L81.1,165.5 L81.4,166.0 L81.7,166.5 L82.1,167.2 L82.4,167.5 L82.7,167.6 L83.1,167.7 L83.4,168.2 L83.8,168.7 L84.2,169.2 L84.5,169.6 L84.9,170.2 L85.3,170.5 L85.7,170.5 L86.0,170.8 L86.4,171.3 L86.8,171.7 L87.2,171.7 L87.5,172.0 L87.9,172.3 L88.3,172.2 L88.7,172.6 L89.2,173.2 L89.6,173.4 L90.0,173.3 L90.5,173.4 L91.0,174.0 L91.5,174.3 L92.0,174.6 L92.5,174.9 L93.1,174.9 L93.7,174.8 L94.3,174.7 L95.0,175.0 L95.4,175.3 L95.8,175.4 L96.2,175.3 L96.7,175.4 L97.1,175.8 L97.6,176.0 L98.1,176.1 L98.6,176.5 L99.1,176.4 L99.7,176.1 L100.2,176.4 L100.8,176.7 L101.3,176.7 L101.9,176.8 L102.5,176.6 L103.0,176.9 L103.6,177.4 L104.2,177.5 L104.8,177.5 L105.4,177.3 L105.9,177.6 L106.5,177.7 L107.1,177.7 L107.6,178.0 L108.2,178.2 L108.7,178.4 L109.3,178.3 L109.8,178.1 L110.3,178.0 L110.8,178.1 L111.3,178.5 L111.8,178.2 L112.2,178.1 L112.6,178.3 L113.0,178.7 L113.4,179.0 L113.8,179.0 L114.1,178.9 L114.4,178.5 L114.7,178.4 L116.0,178.8 L116.6,178.5 L116.7,178.2 L116.6,177.5 L116.4,176.6 L116.5,175.7 L116.6,175.4 L116.7,175.4 L116.8,174.7 L117.0,173.9 L117.1,173.3 L117.2,172.6 L117.3,171.8 L117.4,171.6 L117.5,171.0 L117.6,170.4 L117.8,169.6 L117.9,168.9 L118.0,168.2 L118.1,167.8 L118.2,168.0 L118.3,167.8 L118.4,167.4 L118.5,167.7 L118.6,167.9 L118.7,167.9 L118.8,168.5 L118.9,169.2 L119.0,169.7 L119.1,170.4 L119.2,170.7 L119.3,171.4 L119.4,172.3 L119.5,172.7 L119.5,173.4 L119.6,174.3 L119.7,174.7 L119.8,175.1 L119.9,175.6 L119.8,176.0 L119.7,176.5 L119.8,177.0 L120.2,177.7 L121.0,177.8 L121.3,177.8 L121.7,177.7 L122.1,178.0 L122.5,178.1 L123.0,178.1 L123.5,178.0 L124.0,178.2 L124.6,178.6 L125.2,178.5 L125.8,178.4 L126.4,178.5 L127.0,178.6 L127.6,178.6 L128.2,178.7 L128.8,179.1 L129.4,179.0 L130.0,179.0 L130.5,179.2 L131.1,179.0 L131.6,179.2 L132.1,179.5 L132.5,179.2 L132.9,179.3 L133.3,179.7 L134.2,179.6 L134.9,179.1 L135.3,179.0 L135.7,179.0 L136.1,178.7 L136.4,178.6 L136.8,178.1 L137.4,178.0 L137.8,177.7 L138.3,177.2 L138.8,177.0 L139.3,176.8 L139.8,176.7 L140.3,176.5 L140.9,176.5 L141.4,176.1 L141.9,175.6 L142.4,175.3 L142.8,175.2 L143.2,174.9 L143.6,174.8 L144.1,174.1 L144.5,173.8 L144.8,173.4 L145.1,172.9 L145.3,172.7 L145.6,172.1 L145.8,171.7 L146.0,171.0 L146.2,170.4 L146.3,169.7 L146.4,168.8 L146.6,168.2 L146.7,167.8 L146.8,167.0 L146.9,166.3 L147.0,165.6 L147.1,165.3 L147.2,165.2 L147.3,165.2 L147.4,165.2 L147.4,165.3 L147.5,165.7 L147.6,166.1 L147.6,166.6 L147.7,167.4 L147.8,167.8 L147.8,168.5 L147.9,169.4 L148.0,170.1 L148.0,170.8 L148.1,171.3 L148.1,171.5 L148.2,172.0 L148.3,172.6 L148.3,173.6 L148.4,174.2 L148.4,174.5 L148.5,174.9 L148.5,175.8 L148.5,176.4 L148.3,176.9 L148.2,177.6 L148.0,178.0 L147.9,178.5 L147.9,178.7 L148.0,179.2 L148.3,180.0 L148.8,180.5 L149.5,180.6 L149.8,180.2 L150.0,180.2 L150.3,180.4 L150.6,180.5 L150.9,180.7 L151.2,180.8 L151.5,180.7 L151.8,180.9 L152.2,181.2 L152.5,181.1 L152.9,181.5 L153.2,181.5 L153.6,181.5 L154.0,181.3 L154.4,181.4 L154.9,181.6 L155.3,181.3 L155.8,181.3 L156.3,181.8 L156.8,181.8 L157.3,181.5 L157.8,181.4 L158.4,181.9 L159.0,181.8 L159.6,181.4 L160.3,181.4 L160.9,181.6 L161.6,181.9 L162.4,181.9 L163.1,182.2 L163.9,182.2 L164.7,181.9 L165.6,182.1 L166.5,182.2 L167.4,182.4 L167.8,182.5 L168.1,182.1 L168.5,182.0 L168.9,182.5 L169.3,182.5 L169.7,182.7 L170.1,182.6 L170.5,182.7 L170.9,182.7 L171.4,182.6 L171.8,182.4 L172.3,182.2 L172.8,182.5 L173.3,182.6 L173.8,182.7 L174.2,182.8 L174.8,182.5 L175.3,182.7 L175.8,182.5 L176.3,182.8 L176.8,183.0 L177.4,182.7 L177.9,182.9 L178.5,183.2 L179.0,183.1 L179.6,182.9 L180.1,182.7 L180.7,182.6 L181.3,182.8 L181.9,182.9 L182.4,182.8 L183.0,182.8 L183.6,182.9 L184.2,183.3 L184.8,183.3 L185.4,183.0 L186.0,183.0 L186.6,183.2 L187.2,183.4 L187.8,183.6 L188.4,183.3 L189.0,183.3 L189.6,183.6 L190.2,183.4 L190.8,183.5 L191.4,183.5 L192.0,183.8 L192.6,183.8 L193.2,183.8 L193.8,183.6 L194.4,183.8 L195.0,183.8 L195.6,183.8 L196.2,184.1 L196.8,184.0 L197.4,183.6 L198.0,183.6 L198.5,183.7 L199.1,183.6 L199.7,183.6 L200.3,183.7 L200.8,183.8 L201.4,184.1 L201.9,184.0 L202.5,183.8 L203.0,184.0 L203.5,184.1 L204.1,184.1 L204.6,183.9 L205.1,183.8 L205.6,184.0 L206.1,184.6 L206.6,184.5 L207.1,184.2 L207.6,184.6 L208.1,184.8 L208.5,184.5 L209.0,184.2 L209.4,184.4 L209.8,184.4 L210.3,184.3 L210.7,184.4 L211.1,184.4 L211.5,184.8 L211.8,184.9 L212.2,184.9 L212.6,185.0 L212.9,184.8 L213.3,184.5 L213.6,184.4 L213.9,184.3 L214.2,184.4 L214.5,184.9 L214.7,185.0 L215.0,184.8" fill="none" stroke="#3572b3" stroke-width="1.05" stroke-linejoin="round"/>
<rect x="29.4" y="12.1" width="186" height="189.3" fill="none" stroke="#666" stroke-width="1.2"/>
<line x1="118.3" y1="12.5" x2="118.3" y2="27.6" stroke="#222" stroke-width="1.1" />
<line x1="136.8" y1="12.5" x2="136.8" y2="19.4" stroke="#222" stroke-width="1.1" />
<line x1="200.3" y1="12.5" x2="200.3" y2="15" stroke="#222" stroke-width="1.1" />
<line x1="99.8" y1="185" x2="99.8" y2="201" stroke="#222" stroke-width="1.1" />
<line x1="115.4" y1="195.2" x2="115.4" y2="201" stroke="#222" stroke-width="1.1" />
<line x1="165.9" y1="196.4" x2="165.9" y2="201" stroke="#222" stroke-width="1.1" />
<line x1="198.2" y1="197.8" x2="198.2" y2="201" stroke="#222" stroke-width="1.1" />
<line x1="29.4" y1="201.4" x2="29.4" y2="203.9" stroke="#666" stroke-width="1" />
<line x1="55.97" y1="201.4" x2="55.97" y2="203.9" stroke="#666" stroke-width="1" />
<line x1="82.54" y1="201.4" x2="82.54" y2="203.9" stroke="#666" stroke-width="1" />
<line x1="109.11" y1="201.4" x2="109.11" y2="203.9" stroke="#666" stroke-width="1" />
<line x1="135.69" y1="201.4" x2="135.69" y2="203.9" stroke="#666" stroke-width="1" />
<line x1="162.26" y1="201.4" x2="162.26" y2="203.9" stroke="#666" stroke-width="1" />
<line x1="188.83" y1="201.4" x2="188.83" y2="203.9" stroke="#666" stroke-width="1" />
<line x1="215.4" y1="201.4" x2="215.4" y2="203.9" stroke="#666" stroke-width="1" />
<line x1="42.69" y1="201.4" x2="42.69" y2="202.9" stroke="#666" stroke-width="1" />
<line x1="69.26" y1="201.4" x2="69.26" y2="202.9" stroke="#666" stroke-width="1" />
<line x1="95.83" y1="201.4" x2="95.83" y2="202.9" stroke="#666" stroke-width="1" />
<line x1="122.4" y1="201.4" x2="122.4" y2="202.9" stroke="#666" stroke-width="1" />
<line x1="148.97" y1="201.4" x2="148.97" y2="202.9" stroke="#666" stroke-width="1" />
<line x1="175.54" y1="201.4" x2="175.54" y2="202.9" stroke="#666" stroke-width="1" />
<line x1="202.11" y1="201.4" x2="202.11" y2="202.9" stroke="#666" stroke-width="1" />
<text x="29.4" y="212" font-size="7.9" text-anchor="middle" fill="#231f20" >10</text>
<text x="55.97" y="212" font-size="7.9" text-anchor="middle" fill="#231f20" >20</text>
<text x="82.54" y="212" font-size="7.9" text-anchor="middle" fill="#231f20" >30</text>
<text x="109.11" y="212" font-size="7.9" text-anchor="middle" fill="#231f20" >40</text>
<text x="135.69" y="212" font-size="7.9" text-anchor="middle" fill="#231f20" >50</text>
<text x="162.26" y="212" font-size="7.9" text-anchor="middle" fill="#231f20" >60</text>
<text x="188.83" y="212" font-size="7.9" text-anchor="middle" fill="#231f20" >70</text>
<text x="215.4" y="212" font-size="7.9" text-anchor="middle" fill="#231f20" >80</text>
<text x="122.2" y="224.2" font-size="8.6" text-anchor="middle" fill="#231f20" >2θ (degree)</text>
<text x="0" y="0" font-size="8.8" text-anchor="middle" fill="#231f20" transform="translate(14.6 106.5) rotate(-90)" >Intensity (a.u.)</text>
<text x="153.2" y="24.7" font-size="7.85" text-anchor="start" fill="#231f20" >Cu PDF#04-0836</text>
<text x="125.4" y="33.1" font-size="8" text-anchor="start" fill="#231f20" >Cu (200)</text>
<text x="153.4" y="48.3" font-size="8" text-anchor="start" fill="#8c8c8c" >GDL</text>
<text x="106.2" y="63.3" font-size="8" text-anchor="start" fill="#231f20" >Cu (111)</text>
<text x="84" y="113.5" font-size="8" text-anchor="start" fill="#231f20" >Cu<tspan dy="1.6" font-size="5.2">2</tspan><tspan dy="-1.6">O (111)</tspan></text>
<text x="30.7" y="195.3" font-size="7.8" text-anchor="start" fill="#231f20" >Cu<tspan dy="1.6" font-size="5.2">2</tspan><tspan dy="-1.6">O PDF#05-0667</tspan></text>
<text x="203.4" y="41.6" font-size="8.9" text-anchor="middle" fill="#231f20" >I</text>
<text x="203.9" y="80.3" font-size="8.9" text-anchor="middle" fill="#231f20" >II</text>
<text x="204.1" y="122.1" font-size="8.9" text-anchor="middle" fill="#231f20" >III</text>
<text x="204.2" y="169.8" font-size="8.9" text-anchor="middle" fill="#231f20" >IV</text>
<line x1="137.2" y1="37" x2="137.2" y2="46.8" stroke="#222" stroke-width="0.9" />
<path d="M135.8,45.6 L138.6,45.6 L137.2,49.8 Z" fill="#222"/>
<line x1="118.3" y1="67.3" x2="118.3" y2="76.4" stroke="#222" stroke-width="0.9" />
<path d="M116.9,75.2 L119.7,75.2 L118.3,79.4 Z" fill="#222"/>
<line x1="100.2" y1="118.8" x2="100.2" y2="127.6" stroke="#222" stroke-width="0.9" />
<path d="M98.8,126.4 L101.6,126.4 L100.2,130.6 Z" fill="#222"/>
<rect x="320.4" y="42.9" width="5.3" height="147.5" fill="#d9d9d9"/>
<line x1="320.6" y1="42.9" x2="320.6" y2="190.4" stroke="#aaa" stroke-width="0.5" stroke-dasharray="1,1" />
<line x1="325.5" y1="42.9" x2="325.5" y2="190.4" stroke="#aaa" stroke-width="0.5" stroke-dasharray="1,1" />
<line x1="345.6" y1="17.8" x2="345.6" y2="166.3" stroke="#808080" stroke-width="0.8" stroke-dasharray="1.6,1.4" />
<line x1="359.6" y1="17.8" x2="359.6" y2="166.3" stroke="#808080" stroke-width="0.8" stroke-dasharray="1.6,1.4" />
<path d="M263.8,62.2 L264.2,62.2 L264.7,62.2 L265.3,62.2 L265.9,62.2 L266.6,62.2 L267.4,62.2 L268.1,62.2 L268.9,62.2 L269.8,62.3 L270.7,62.3 L271.6,62.3 L272.5,62.3 L273.4,62.3 L274.3,62.3 L275.3,62.3 L276.2,62.3 L277.2,62.3 L278.1,62.3 L279.0,62.3 L279.9,62.3 L280.7,62.3 L281.5,62.3 L282.3,62.3 L283.1,62.3 L283.9,62.3 L284.8,62.3 L285.6,62.3 L286.5,62.3 L287.3,62.2 L288.2,62.2 L289.1,62.2 L290.0,62.2 L290.8,62.2 L291.7,62.2 L292.5,62.2 L293.4,62.2 L294.2,62.2 L295.0,62.2 L295.8,62.1 L296.5,62.1 L297.3,62.1 L298.0,62.1 L298.7,62.1 L299.5,62.1 L300.3,62.1 L301.2,62.1 L302.1,62.1 L303.0,62.1 L303.9,62.1 L304.7,62.1 L305.4,62.1 L306.1,62.1 L306.8,62.1 L307.5,62.0 L308.2,62.0 L308.9,62.0 L309.7,62.0 L310.5,62.0 L311.3,62.0 L312.1,61.9 L313.0,61.9 L313.9,61.9 L314.8,61.9 L315.6,61.8 L316.5,61.8 L317.3,61.8 L318.0,61.7 L318.8,61.7 L319.5,61.6 L320.3,61.5 L321.0,61.4 L321.7,61.1 L322.3,60.8 L322.8,60.3 L323.3,59.7 L323.7,59.1 L324.1,58.3 L324.5,57.6 L324.9,56.8 L325.3,56.0 L325.6,55.1 L325.9,54.3 L326.2,53.4 L326.5,52.6 L326.7,51.7 L327.0,50.8 L327.2,50.0 L327.5,49.4 L327.8,48.9 L328.2,48.7 L328.8,48.7 L329.4,49.0 L330.0,49.4 L330.7,49.7 L331.3,49.8 L331.9,49.6 L332.4,49.2 L332.9,48.7 L333.5,48.1 L334.0,47.4 L334.6,46.6 L335.1,45.9 L335.6,45.1 L336.0,44.5 L336.4,43.8 L336.8,43.1 L337.2,42.4 L337.6,41.7 L338.1,41.0 L338.5,40.2 L338.9,39.4 L339.3,38.6 L339.7,37.9 L340.1,37.1 L340.5,36.3 L340.9,35.6 L341.2,34.8 L341.6,34.1 L341.9,33.3 L342.2,32.5 L342.6,31.7 L342.9,30.9 L343.2,30.0 L343.4,29.3 L343.7,28.5 L344.0,27.7 L344.3,27.0 L344.6,26.3 L344.9,25.6 L345.2,24.9 L345.7,24.1 L346.1,23.3 L346.6,22.5 L347.2,21.8 L347.7,21.1 L348.2,20.6 L348.8,20.2 L349.3,20.1 L349.8,20.2 L350.3,20.4 L350.8,20.9 L351.3,21.5 L351.8,22.2 L352.3,23.0 L352.8,23.8 L353.3,24.5 L353.8,25.3 L354.4,26.0 L354.9,26.6 L355.5,27.3 L356.0,28.0 L356.6,28.6 L357.2,29.2 L357.8,29.8 L358.4,30.3 L359.1,30.6 L359.7,30.9 L360.4,31.1 L361.1,31.1 L361.9,31.0 L362.7,30.8 L363.5,30.6 L364.2,30.2 L365.0,29.9 L365.8,29.5 L366.5,29.2 L367.3,28.8 L368.0,28.4 L368.7,28.0 L369.4,27.6 L370.1,27.2 L370.8,26.9 L371.6,26.5 L372.3,26.3 L373.1,26.1 L373.9,26.0 L374.7,25.9 L375.5,25.9 L376.3,25.9 L377.2,26.0 L378.0,26.1 L378.8,26.2 L379.6,26.4 L380.3,26.6 L380.9,26.9 L381.5,27.2 L382.1,27.6 L382.7,28.0 L383.5,28.5 L384.3,28.9 L385.1,29.3 L385.9,29.6 L386.7,29.8 L387.4,30.1 L388.1,30.3 L388.8,30.5 L389.5,30.7 L390.3,30.9 L391.1,31.1 L391.9,31.4 L392.7,31.6 L393.6,31.8 L394.5,32.0 L395.3,32.2 L396.2,32.4 L397.1,32.6 L397.9,32.8 L398.8,33.0 L399.7,33.1 L400.5,33.2 L401.3,33.3 L402.1,33.4 L402.9,33.4 L403.8,33.5 L404.6,33.5 L405.4,33.4 L406.2,33.4 L407.0,33.3 L407.8,33.1 L408.6,33.0 L409.4,32.8 L410.2,32.7 L411.0,32.5 L411.7,32.3 L412.5,32.1 L413.3,31.9 L414.1,31.7 L414.9,31.5 L415.7,31.3 L416.5,31.1 L417.3,30.9 L418.2,30.8 L419.0,30.7 L419.8,30.5 L420.6,30.4 L421.4,30.3 L422.2,30.2 L423.1,30.0 L423.9,29.9 L424.8,29.8 L425.6,29.7 L426.5,29.6 L427.3,29.5 L428.2,29.3 L429.0,29.2 L429.9,29.1 L430.7,29.0 L431.5,28.9 L432.3,28.9 L433.1,28.8 L433.8,28.7 L434.6,28.6 L435.4,28.6 L436.2,28.5 L437.1,28.4 L438.1,28.4 L439.0,28.4 L440.0,28.4 L440.9,28.4 L441.9,28.4 L442.7,28.4 L443.6,28.4 L444.3,28.4 L445.1,28.4 L445.8,28.5 L446.4,28.5 L447.0,28.5 L447.4,28.5" fill="none" stroke="#3b74b4" stroke-width="1.0" stroke-linejoin="round" stroke-linecap="round"/>
<path d="M263.8,86.8 L264.2,86.8 L264.7,86.8 L265.2,86.8 L265.7,86.8 L266.4,86.8 L267.0,86.8 L267.7,86.8 L268.4,86.8 L269.1,86.8 L269.9,86.8 L270.7,86.8 L271.5,86.8 L272.4,86.8 L273.3,86.8 L274.1,86.8 L275.1,86.8 L276.0,86.8 L276.9,86.8 L277.9,86.8 L278.8,86.8 L279.8,86.8 L280.8,86.8 L281.7,86.8 L282.7,86.8 L283.7,86.8 L284.7,86.8 L285.6,86.8 L286.6,86.7 L287.6,86.7 L288.5,86.7 L289.4,86.7 L290.3,86.7 L291.2,86.7 L292.1,86.7 L293.0,86.7 L293.8,86.7 L294.6,86.7 L295.4,86.7 L296.2,86.7 L296.9,86.7 L297.6,86.7 L298.2,86.7 L298.9,86.7 L299.7,86.7 L300.6,86.7 L301.7,86.7 L302.9,86.7 L304.0,86.7 L304.9,86.7 L305.7,86.6 L306.4,86.6 L307.0,86.6 L307.5,86.6 L308.0,86.6 L308.5,86.6 L309.1,86.5 L309.8,86.5 L310.5,86.5 L311.3,86.4 L312.1,86.4 L313.0,86.4 L313.9,86.3 L314.8,86.3 L315.6,86.3 L316.5,86.2 L317.3,86.2 L318.0,86.1 L318.8,86.1 L319.5,86.0 L320.3,86.0 L321.1,85.9 L321.9,85.7 L322.6,85.4 L323.1,85.0 L323.7,84.5 L324.2,83.9 L324.7,83.2 L325.2,82.4 L325.6,81.7 L325.9,80.9 L326.3,80.0 L326.6,79.2 L326.8,78.3 L327.1,77.4 L327.4,76.5 L327.7,75.8 L328.0,75.2 L328.4,74.9 L328.8,74.8 L329.3,75.1 L329.9,75.5 L330.5,75.9 L331.1,76.2 L331.7,76.2 L332.3,75.9 L332.9,75.5 L333.5,74.9 L334.1,74.2 L334.8,73.5 L335.3,72.9 L335.9,72.2 L336.4,71.6 L336.9,71.0 L337.4,70.3 L338.0,69.7 L338.5,69.0 L339.0,68.3 L339.5,67.6 L340.0,66.9 L340.5,66.2 L341.0,65.5 L341.4,64.8 L341.9,64.1 L342.3,63.3 L342.7,62.6 L343.1,61.8 L343.5,61.0 L343.9,60.3 L344.3,59.6 L344.7,58.9 L345.2,58.3 L345.7,57.6 L346.2,56.9 L346.8,56.2 L347.4,55.6 L348.0,55.0 L348.7,54.6 L349.3,54.4 L349.9,54.4 L350.6,54.5 L351.3,54.9 L351.9,55.3 L352.6,55.9 L353.3,56.5 L354.0,57.0 L354.7,57.6 L355.3,58.1 L355.9,58.7 L356.6,59.2 L357.3,59.8 L357.9,60.2 L358.6,60.7 L359.3,61.0 L360.1,61.2 L360.8,61.3 L361.6,61.3 L362.4,61.3 L363.2,61.1 L364.1,60.9 L364.9,60.6 L365.7,60.4 L366.5,60.1 L367.3,59.8 L368.1,59.6 L368.8,59.3 L369.6,59.0 L370.3,58.7 L371.1,58.5 L371.9,58.2 L372.7,58.1 L373.5,58.0 L374.3,57.9 L375.1,57.9 L375.9,57.9 L376.8,57.9 L377.6,58.0 L378.4,58.0 L379.2,58.1 L380.0,58.2 L380.7,58.4 L381.3,58.5 L381.9,58.7 L382.6,58.9 L383.3,59.1 L384.2,59.3 L385.1,59.5 L385.9,59.7 L386.7,59.8 L387.4,60.0 L388.1,60.1 L388.9,60.2 L389.6,60.3 L390.4,60.5 L391.2,60.6 L392.1,60.7 L392.9,60.9 L393.8,61.0 L394.7,61.1 L395.6,61.2 L396.5,61.4 L397.4,61.5 L398.3,61.6 L399.1,61.7 L400.0,61.7 L400.9,61.8 L401.7,61.8 L402.5,61.9 L403.3,61.9 L404.2,61.9 L405.0,61.8 L405.8,61.8 L406.6,61.7 L407.4,61.6 L408.2,61.5 L409.0,61.4 L409.8,61.3 L410.6,61.2 L411.3,61.0 L412.1,60.9 L412.9,60.7 L413.7,60.6 L414.5,60.4 L415.3,60.3 L416.1,60.1 L416.9,60.0 L417.7,59.8 L418.5,59.7 L419.3,59.6 L420.1,59.5 L420.9,59.3 L421.7,59.2 L422.5,59.0 L423.4,58.9 L424.2,58.8 L425.0,58.6 L425.9,58.5 L426.7,58.3 L427.5,58.2 L428.4,58.0 L429.2,57.9 L430.0,57.7 L430.8,57.6 L431.6,57.5 L432.4,57.4 L433.1,57.3 L433.9,57.2 L434.6,57.1 L435.4,57.0 L436.2,56.9 L437.1,56.8 L438.1,56.8 L439.0,56.7 L440.0,56.7 L440.9,56.7 L441.9,56.7 L442.7,56.7 L443.6,56.8 L444.3,56.8 L445.1,56.8 L445.8,56.8 L446.4,56.9 L447.0,56.9 L447.4,56.9" fill="none" stroke="#31a098" stroke-width="1.0" stroke-linejoin="round" stroke-linecap="round"/>
<path d="M263.8,111.6 L264.2,111.6 L264.6,111.6 L265.1,111.6 L265.7,111.6 L266.3,111.6 L266.9,111.6 L267.5,111.6 L268.1,111.6 L268.8,111.6 L269.5,111.6 L270.3,111.6 L271.0,111.6 L271.8,111.6 L272.6,111.6 L273.5,111.6 L274.3,111.6 L275.2,111.6 L276.1,111.6 L277.0,111.5 L277.9,111.5 L278.8,111.5 L279.7,111.5 L280.7,111.5 L281.6,111.5 L282.6,111.5 L283.6,111.5 L284.5,111.5 L285.5,111.5 L286.5,111.5 L287.5,111.5 L288.5,111.5 L289.4,111.5 L290.4,111.5 L291.4,111.5 L292.4,111.5 L293.3,111.5 L294.3,111.5 L295.2,111.5 L296.2,111.5 L297.1,111.5 L298.0,111.5 L298.9,111.5 L299.8,111.5 L300.6,111.5 L301.5,111.4 L302.3,111.4 L303.1,111.4 L303.9,111.4 L304.6,111.4 L305.4,111.4 L306.1,111.4 L306.8,111.4 L307.4,111.4 L308.0,111.4 L308.7,111.4 L309.4,111.4 L310.3,111.4 L311.4,111.4 L312.8,111.4 L314.1,111.5 L315.2,111.5 L316.2,111.5 L316.9,111.6 L317.5,111.6 L318.0,111.6 L318.4,111.6 L318.7,111.6 L319.1,111.5 L319.6,111.3 L320.2,111.0 L320.8,110.7 L321.5,110.2 L322.2,109.6 L322.8,109.0 L323.4,108.3 L324.0,107.7 L324.5,107.0 L325.1,106.5 L325.7,105.9 L326.3,105.5 L327.0,105.2 L327.6,104.9 L328.3,104.7 L329.0,104.4 L329.7,104.1 L330.4,103.7 L331.1,103.3 L331.7,102.8 L332.3,102.2 L332.9,101.6 L333.4,101.0 L334.0,100.3 L334.6,99.7 L335.2,99.0 L335.7,98.3 L336.3,97.7 L336.8,97.0 L337.3,96.4 L337.8,95.7 L338.3,95.0 L338.7,94.3 L339.2,93.6 L339.6,92.9 L339.9,92.2 L340.3,91.5 L340.6,90.7 L340.9,90.0 L341.1,89.2 L341.4,88.5 L341.6,87.7 L341.9,86.9 L342.1,86.1 L342.4,85.3 L342.7,84.5 L342.9,83.7 L343.2,82.8 L343.5,81.9 L343.8,81.0 L344.1,80.2 L344.5,79.5 L344.8,79.0 L345.2,78.6 L345.7,78.5 L346.2,78.7 L346.8,79.1 L347.4,79.7 L348.0,80.4 L348.7,81.1 L349.4,81.7 L350.0,82.3 L350.8,82.9 L351.5,83.4 L352.2,83.8 L352.9,84.1 L353.6,84.1 L354.2,84.0 L354.9,83.6 L355.5,83.0 L356.2,82.3 L356.8,81.6 L357.3,80.9 L357.9,80.3 L358.5,79.8 L359.1,79.5 L359.7,79.5 L360.3,79.7 L360.9,80.2 L361.5,80.8 L362.1,81.5 L362.7,82.1 L363.3,82.7 L363.8,83.3 L364.4,83.9 L365.1,84.4 L365.7,84.8 L366.4,85.2 L367.2,85.5 L367.9,85.7 L368.6,85.9 L369.4,86.1 L370.2,86.3 L371.0,86.4 L371.9,86.4 L372.8,86.4 L373.6,86.4 L374.5,86.3 L375.3,86.2 L376.0,86.0 L376.8,85.7 L377.5,85.5 L378.3,85.2 L379.0,84.8 L379.8,84.5 L380.6,84.1 L381.3,83.7 L382.1,83.4 L382.8,83.0 L383.6,82.7 L384.3,82.3 L385.1,82.0 L385.9,81.6 L386.7,81.3 L387.5,80.9 L388.3,80.5 L389.1,80.2 L389.8,79.8 L390.6,79.5 L391.3,79.3 L392.1,79.1 L392.8,78.9 L393.6,78.8 L394.4,78.8 L395.3,78.9 L396.1,79.1 L396.9,79.3 L397.7,79.6 L398.5,79.9 L399.2,80.2 L400.0,80.5 L400.7,80.8 L401.4,81.2 L402.1,81.5 L402.8,81.9 L403.5,82.2 L404.3,82.5 L405.0,82.8 L405.8,83.0 L406.5,83.2 L407.2,83.4 L407.9,83.6 L408.7,83.7 L409.5,83.8 L410.3,83.9 L411.2,84.0 L412.1,84.1 L413.0,84.1 L413.9,84.1 L414.8,84.0 L415.5,84.0 L416.2,83.9 L417.0,83.9 L417.7,83.8 L418.5,83.7 L419.3,83.6 L420.1,83.4 L420.9,83.3 L421.8,83.2 L422.6,83.1 L423.5,82.9 L424.4,82.8 L425.2,82.7 L426.1,82.5 L427.0,82.4 L427.8,82.3 L428.7,82.2 L429.5,82.1 L430.4,82.0 L431.2,81.9 L432.1,81.8 L433.0,81.7 L433.9,81.6 L434.8,81.5 L435.7,81.4 L436.6,81.3 L437.6,81.2 L438.5,81.1 L439.4,81.0 L440.3,80.9 L441.2,80.8 L442.1,80.7 L442.9,80.6 L443.7,80.6 L444.4,80.5 L445.2,80.4 L445.9,80.4 L446.4,80.3 L447.0,80.2 L447.4,80.2" fill="none" stroke="#5cb59c" stroke-width="1.0" stroke-linejoin="round" stroke-linecap="round"/>
<path d="M263.8,136.6 L264.2,136.6 L264.6,136.6 L265.1,136.6 L265.7,136.6 L266.3,136.6 L266.9,136.6 L267.5,136.6 L268.1,136.6 L268.8,136.6 L269.5,136.6 L270.3,136.6 L271.0,136.6 L271.8,136.6 L272.6,136.6 L273.5,136.6 L274.3,136.6 L275.2,136.6 L276.1,136.6 L277.0,136.6 L277.9,136.6 L278.8,136.6 L279.7,136.6 L280.7,136.6 L281.6,136.6 L282.6,136.5 L283.6,136.5 L284.5,136.5 L285.5,136.5 L286.5,136.5 L287.5,136.5 L288.5,136.5 L289.4,136.5 L290.4,136.5 L291.4,136.5 L292.4,136.5 L293.3,136.5 L294.3,136.5 L295.2,136.5 L296.2,136.5 L297.1,136.5 L298.0,136.5 L298.9,136.5 L299.8,136.5 L300.6,136.5 L301.5,136.5 L302.3,136.5 L303.1,136.5 L303.9,136.5 L304.6,136.5 L305.4,136.4 L306.1,136.4 L306.8,136.4 L307.4,136.4 L308.0,136.4 L308.7,136.4 L309.4,136.4 L310.3,136.4 L311.4,136.4 L312.8,136.4 L314.1,136.4 L315.2,136.4 L316.2,136.4 L316.9,136.4 L317.5,136.4 L318.0,136.4 L318.4,136.3 L318.7,136.2 L319.1,136.1 L319.6,135.9 L320.2,135.6 L320.8,135.2 L321.5,134.8 L322.2,134.2 L322.8,133.5 L323.4,132.9 L324.0,132.2 L324.5,131.6 L325.1,131.0 L325.7,130.6 L326.4,130.2 L327.2,129.9 L327.9,129.7 L328.7,129.5 L329.5,129.3 L330.3,129.0 L331.0,128.7 L331.7,128.3 L332.3,127.8 L332.9,127.4 L333.5,126.9 L334.2,126.3 L334.8,125.7 L335.4,125.1 L336.1,124.5 L336.6,123.8 L337.1,123.1 L337.6,122.4 L338.0,121.7 L338.4,121.0 L338.7,120.3 L339.0,119.6 L339.3,118.8 L339.6,118.0 L339.9,117.2 L340.2,116.4 L340.5,115.6 L340.8,114.8 L341.0,114.0 L341.3,113.2 L341.6,112.5 L341.8,111.7 L342.1,110.8 L342.4,109.9 L342.7,109.0 L343.0,108.1 L343.3,107.3 L343.5,106.4 L343.8,105.7 L344.1,105.0 L344.4,104.4 L344.7,104.0 L345.1,103.8 L345.6,103.9 L346.1,104.2 L346.7,104.7 L347.3,105.4 L347.9,106.2 L348.5,106.9 L349.2,107.6 L349.8,108.3 L350.5,108.8 L351.2,109.3 L351.8,109.6 L352.4,109.6 L353.0,109.4 L353.6,109.0 L354.1,108.5 L354.7,107.8 L355.2,107.1 L355.8,106.4 L356.3,105.6 L356.9,104.9 L357.6,104.3 L358.2,103.7 L358.8,103.3 L359.4,103.0 L360.0,103.1 L360.6,103.4 L361.2,103.9 L361.8,104.5 L362.4,105.2 L363.0,105.9 L363.5,106.5 L364.1,107.1 L364.7,107.6 L365.3,108.1 L366.0,108.6 L366.7,109.1 L367.4,109.6 L368.1,110.0 L368.8,110.4 L369.6,110.8 L370.4,111.2 L371.2,111.5 L372.0,111.8 L372.8,112.0 L373.5,112.2 L374.3,112.3 L375.0,112.3 L375.7,112.3 L376.4,112.2 L377.2,112.0 L378.0,111.8 L378.9,111.4 L379.7,111.1 L380.4,110.7 L381.1,110.3 L381.7,109.9 L382.4,109.4 L383.0,108.9 L383.7,108.4 L384.3,107.9 L385.0,107.3 L385.8,106.7 L386.5,106.2 L387.2,105.6 L388.0,105.1 L388.7,104.6 L389.4,104.1 L390.2,103.7 L390.9,103.4 L391.7,103.1 L392.4,102.9 L393.1,102.8 L393.9,102.7 L394.6,102.7 L395.3,102.9 L396.1,103.1 L396.8,103.3 L397.6,103.6 L398.3,104.0 L399.1,104.4 L399.8,104.8 L400.6,105.3 L401.3,105.7 L402.1,106.2 L402.8,106.7 L403.5,107.1 L404.3,107.6 L405.0,108.0 L405.7,108.3 L406.4,108.7 L407.1,108.9 L407.8,109.2 L408.5,109.4 L409.2,109.5 L409.9,109.7 L410.6,109.7 L411.2,109.8 L411.8,109.8 L412.5,109.8 L413.1,109.8 L413.9,109.7 L414.7,109.6 L415.7,109.5 L416.7,109.4 L417.7,109.3 L418.6,109.2 L419.4,109.1 L420.1,109.0 L420.9,109.0 L421.6,108.9 L422.3,108.8 L423.1,108.7 L424.0,108.6 L424.8,108.5 L425.7,108.4 L426.6,108.3 L427.5,108.2 L428.4,108.0 L429.4,107.9 L430.3,107.8 L431.3,107.7 L432.2,107.5 L433.2,107.4 L434.2,107.3 L435.1,107.2 L436.1,107.0 L437.0,106.9 L437.9,106.8 L438.8,106.7 L439.7,106.5 L440.5,106.4 L441.4,106.3 L442.2,106.2 L442.9,106.1 L443.7,106.0 L444.3,105.9 L445.1,105.8 L445.7,105.7 L446.2,105.7 L446.7,105.6 L447.2,105.5 L447.4,105.5" fill="none" stroke="#b7d9a8" stroke-width="1.0" stroke-linejoin="round" stroke-linecap="round"/>
<path d="M263.8,161.5 L264.2,161.5 L264.6,161.5 L265.1,161.5 L265.7,161.5 L266.3,161.5 L266.9,161.5 L267.5,161.5 L268.1,161.5 L268.8,161.5 L269.5,161.5 L270.3,161.5 L271.0,161.5 L271.8,161.5 L272.6,161.5 L273.5,161.5 L274.3,161.5 L275.2,161.5 L276.1,161.5 L277.0,161.5 L277.9,161.5 L278.8,161.5 L279.7,161.4 L280.7,161.4 L281.6,161.4 L282.6,161.4 L283.6,161.4 L284.5,161.4 L285.5,161.4 L286.5,161.4 L287.5,161.4 L288.5,161.4 L289.4,161.4 L290.4,161.4 L291.4,161.4 L292.4,161.4 L293.3,161.4 L294.3,161.4 L295.2,161.4 L296.2,161.4 L297.1,161.4 L298.0,161.4 L298.9,161.4 L299.8,161.4 L300.6,161.4 L301.5,161.4 L302.3,161.4 L303.1,161.4 L303.9,161.3 L304.6,161.3 L305.4,161.3 L306.1,161.3 L306.8,161.3 L307.4,161.3 L308.0,161.3 L308.7,161.3 L309.4,161.3 L310.3,161.3 L311.4,161.3 L312.8,161.3 L314.1,161.3 L315.2,161.4 L316.2,161.4 L316.9,161.4 L317.5,161.4 L318.0,161.4 L318.4,161.4 L318.7,161.3 L319.1,161.2 L319.6,161.0 L320.2,160.7 L320.8,160.4 L321.4,159.9 L322.1,159.3 L322.7,158.7 L323.3,158.0 L323.8,157.4 L324.4,156.8 L324.9,156.2 L325.5,155.7 L326.2,155.4 L326.9,155.1 L327.7,154.9 L328.5,154.8 L329.3,154.7 L330.1,154.5 L330.8,154.2 L331.5,153.9 L332.2,153.6 L332.8,153.1 L333.5,152.7 L334.1,152.2 L334.8,151.7 L335.4,151.1 L336.0,150.5 L336.6,149.9 L337.1,149.3 L337.6,148.6 L338.1,147.9 L338.5,147.2 L338.8,146.5 L339.2,145.8 L339.5,145.0 L339.8,144.2 L340.2,143.4 L340.5,142.6 L340.8,141.8 L341.1,141.0 L341.4,140.2 L341.7,139.4 L342.0,138.6 L342.2,137.8 L342.5,136.9 L342.8,136.0 L343.1,135.1 L343.3,134.2 L343.6,133.4 L343.8,132.6 L344.1,131.9 L344.4,131.3 L344.7,130.9 L345.1,130.6 L345.6,130.6 L346.2,130.8 L346.8,131.3 L347.5,131.9 L348.2,132.6 L348.8,133.2 L349.5,133.9 L350.2,134.4 L350.8,134.9 L351.5,135.3 L352.1,135.4 L352.8,135.4 L353.4,135.0 L354.0,134.5 L354.6,133.9 L355.1,133.1 L355.7,132.4 L356.3,131.7 L356.9,131.0 L357.4,130.3 L358.0,129.6 L358.6,129.1 L359.2,128.7 L359.7,128.6 L360.3,128.8 L360.9,129.1 L361.5,129.7 L362.1,130.4 L362.7,131.1 L363.3,131.7 L363.8,132.3 L364.4,132.8 L365.0,133.4 L365.6,133.9 L366.3,134.4 L367.0,134.8 L367.6,135.3 L368.3,135.7 L369.0,136.2 L369.8,136.6 L370.5,137.0 L371.3,137.3 L372.1,137.6 L372.8,137.8 L373.5,138.0 L374.3,138.1 L375.0,138.2 L375.7,138.2 L376.4,138.2 L377.2,138.0 L378.0,137.8 L378.9,137.5 L379.7,137.1 L380.4,136.7 L381.0,136.3 L381.6,135.8 L382.2,135.3 L382.8,134.8 L383.5,134.2 L384.1,133.6 L384.8,133.0 L385.4,132.4 L386.1,131.8 L386.8,131.2 L387.5,130.6 L388.2,130.0 L388.9,129.5 L389.6,129.0 L390.4,128.5 L391.1,128.1 L391.8,127.8 L392.5,127.6 L393.2,127.5 L393.9,127.4 L394.6,127.5 L395.3,127.6 L396.0,127.8 L396.7,128.1 L397.4,128.4 L398.2,128.8 L398.9,129.3 L399.7,129.7 L400.4,130.2 L401.1,130.8 L401.9,131.3 L402.6,131.8 L403.3,132.3 L404.0,132.8 L404.7,133.3 L405.4,133.7 L406.1,134.1 L406.8,134.5 L407.5,134.7 L408.2,135.0 L408.9,135.2 L409.6,135.3 L410.3,135.5 L410.9,135.5 L411.5,135.6 L412.1,135.5 L412.8,135.5 L413.5,135.4 L414.3,135.4 L415.2,135.3 L416.2,135.1 L417.2,135.0 L418.2,134.9 L419.0,134.9 L419.8,134.8 L420.5,134.7 L421.2,134.7 L422.0,134.6 L422.7,134.5 L423.5,134.4 L424.4,134.3 L425.2,134.2 L426.1,134.1 L427.0,134.0 L428.0,133.9 L428.9,133.8 L429.8,133.7 L430.8,133.6 L431.8,133.5 L432.7,133.4 L433.7,133.3 L434.6,133.1 L435.6,133.0 L436.5,132.9 L437.4,132.8 L438.4,132.7 L439.2,132.6 L440.1,132.5 L441.0,132.4 L441.8,132.3 L442.5,132.2 L443.3,132.1 L444.0,132.0 L444.7,131.9 L445.4,131.8 L446.0,131.8 L446.5,131.7 L447.0,131.6 L447.4,131.6" fill="none" stroke="#f8c98b" stroke-width="1.0" stroke-linejoin="round" stroke-linecap="round"/>
<path d="M263.8,186.6 L264.2,186.6 L264.6,186.6 L265.1,186.6 L265.7,186.6 L266.3,186.6 L266.9,186.6 L267.5,186.6 L268.1,186.6 L268.8,186.6 L269.5,186.6 L270.3,186.6 L271.0,186.6 L271.8,186.6 L272.6,186.6 L273.5,186.6 L274.3,186.6 L275.2,186.6 L276.1,186.6 L277.0,186.6 L277.9,186.6 L278.8,186.6 L279.7,186.5 L280.7,186.5 L281.6,186.5 L282.6,186.5 L283.6,186.5 L284.5,186.5 L285.5,186.5 L286.5,186.5 L287.5,186.5 L288.5,186.5 L289.4,186.5 L290.4,186.5 L291.4,186.5 L292.4,186.5 L293.3,186.5 L294.3,186.5 L295.2,186.5 L296.2,186.5 L297.1,186.5 L298.0,186.5 L298.9,186.5 L299.8,186.5 L300.6,186.5 L301.5,186.5 L302.3,186.5 L303.1,186.5 L303.9,186.4 L304.6,186.4 L305.4,186.4 L306.1,186.4 L306.8,186.4 L307.4,186.4 L308.0,186.4 L308.7,186.4 L309.4,186.4 L310.3,186.4 L311.4,186.4 L312.8,186.4 L314.1,186.4 L315.2,186.4 L316.2,186.5 L316.9,186.5 L317.5,186.5 L318.0,186.5 L318.4,186.4 L318.7,186.4 L319.1,186.3 L319.6,186.1 L320.2,185.8 L320.8,185.5 L321.5,185.1 L322.2,184.5 L322.8,184.0 L323.4,183.4 L324.0,182.8 L324.6,182.2 L325.2,181.6 L325.8,181.1 L326.5,180.7 L327.2,180.3 L327.9,179.9 L328.7,179.5 L329.4,179.2 L330.2,178.8 L330.9,178.3 L331.6,177.9 L332.2,177.5 L332.8,177.0 L333.5,176.6 L334.1,176.1 L334.8,175.6 L335.4,175.0 L336.0,174.4 L336.6,173.8 L337.2,173.2 L337.7,172.6 L338.1,171.9 L338.5,171.3 L338.9,170.6 L339.3,169.9 L339.7,169.1 L340.0,168.4 L340.4,167.6 L340.7,166.8 L341.0,166.1 L341.3,165.3 L341.6,164.5 L341.9,163.7 L342.2,162.8 L342.5,161.9 L342.7,161.0 L343.0,160.1 L343.2,159.2 L343.4,158.3 L343.7,157.4 L343.9,156.6 L344.2,155.9 L344.4,155.3 L344.7,154.9 L345.1,154.6 L345.6,154.6 L346.1,154.8 L346.7,155.3 L347.3,156.0 L347.9,156.7 L348.5,157.4 L349.2,158.0 L349.8,158.6 L350.5,159.2 L351.2,159.6 L351.8,159.8 L352.5,159.8 L353.1,159.6 L353.7,159.2 L354.3,158.6 L354.8,158.0 L355.4,157.2 L356.0,156.5 L356.6,155.8 L357.1,155.1 L357.7,154.5 L358.3,153.9 L358.9,153.5 L359.4,153.2 L360.0,153.2 L360.6,153.5 L361.2,154.0 L361.8,154.6 L362.4,155.2 L363.0,155.9 L363.5,156.5 L364.1,157.1 L364.7,157.6 L365.3,158.2 L366.0,158.7 L366.6,159.2 L367.3,159.7 L368.0,160.1 L368.7,160.5 L369.4,160.9 L370.2,161.3 L370.9,161.6 L371.7,161.9 L372.4,162.1 L373.2,162.3 L373.9,162.5 L374.6,162.6 L375.3,162.6 L376.0,162.6 L376.8,162.5 L377.6,162.4 L378.4,162.1 L379.3,161.8 L380.1,161.4 L380.7,161.0 L381.4,160.6 L382.0,160.1 L382.6,159.6 L383.2,159.1 L383.9,158.5 L384.6,157.9 L385.2,157.3 L385.9,156.7 L386.7,156.1 L387.4,155.5 L388.1,155.0 L388.8,154.4 L389.6,154.0 L390.3,153.5 L391.0,153.1 L391.7,152.8 L392.4,152.6 L393.2,152.5 L393.9,152.4 L394.6,152.4 L395.3,152.6 L396.1,152.8 L396.8,153.0 L397.6,153.4 L398.3,153.8 L399.1,154.2 L399.8,154.7 L400.6,155.1 L401.3,155.6 L402.1,156.1 L402.8,156.6 L403.5,157.1 L404.3,157.6 L405.0,158.0 L405.7,158.4 L406.4,158.7 L407.1,159.0 L407.8,159.3 L408.5,159.5 L409.2,159.6 L409.9,159.7 L410.6,159.8 L411.2,159.8 L411.8,159.8 L412.5,159.7 L413.1,159.7 L413.9,159.5 L414.7,159.4 L415.7,159.3 L416.7,159.1 L417.7,159.0 L418.6,158.9 L419.4,158.8 L420.1,158.7 L420.9,158.6 L421.6,158.5 L422.3,158.4 L423.1,158.3 L424.0,158.2 L424.8,158.1 L425.7,158.0 L426.6,157.9 L427.5,157.7 L428.4,157.6 L429.4,157.5 L430.3,157.4 L431.3,157.2 L432.2,157.1 L433.2,156.9 L434.2,156.8 L435.1,156.7 L436.1,156.5 L437.0,156.4 L437.9,156.3 L438.8,156.1 L439.7,156.0 L440.5,155.9 L441.4,155.8 L442.2,155.7 L442.9,155.5 L443.7,155.4 L444.3,155.3 L445.1,155.2 L445.7,155.1 L446.2,155.1 L446.7,155.0 L447.2,154.9 L447.4,154.9" fill="none" stroke="#ee7d55" stroke-width="1.0" stroke-linejoin="round" stroke-linecap="round"/>
<rect x="263.7" y="12.1" width="183.7" height="187.2" fill="none" stroke="#666" stroke-width="1.2"/>
<line x1="263.7" y1="199.3" x2="263.7" y2="201.8" stroke="#666" stroke-width="1" />
<line x1="294.32" y1="199.3" x2="294.32" y2="201.8" stroke="#666" stroke-width="1" />
<line x1="324.93" y1="199.3" x2="324.93" y2="201.8" stroke="#666" stroke-width="1" />
<line x1="355.55" y1="199.3" x2="355.55" y2="201.8" stroke="#666" stroke-width="1" />
<line x1="386.17" y1="199.3" x2="386.17" y2="201.8" stroke="#666" stroke-width="1" />
<line x1="416.78" y1="199.3" x2="416.78" y2="201.8" stroke="#666" stroke-width="1" />
<line x1="447.4" y1="199.3" x2="447.4" y2="201.8" stroke="#666" stroke-width="1" />
<line x1="279.01" y1="199.3" x2="279.01" y2="200.8" stroke="#666" stroke-width="1" />
<line x1="309.62" y1="199.3" x2="309.62" y2="200.8" stroke="#666" stroke-width="1" />
<line x1="340.24" y1="199.3" x2="340.24" y2="200.8" stroke="#666" stroke-width="1" />
<line x1="370.86" y1="199.3" x2="370.86" y2="200.8" stroke="#666" stroke-width="1" />
<line x1="401.47" y1="199.3" x2="401.47" y2="200.8" stroke="#666" stroke-width="1" />
<line x1="432.09" y1="199.3" x2="432.09" y2="200.8" stroke="#666" stroke-width="1" />
<text x="263.7" y="209.2" font-size="7.9" text-anchor="middle" fill="#231f20" >8940</text>
<text x="294.32" y="209.2" font-size="7.9" text-anchor="middle" fill="#231f20" >8960</text>
<text x="324.93" y="209.2" font-size="7.9" text-anchor="middle" fill="#231f20" >8980</text>
<text x="355.55" y="209.2" font-size="7.9" text-anchor="middle" fill="#231f20" >9000</text>
<text x="386.17" y="209.2" font-size="7.9" text-anchor="middle" fill="#231f20" >9020</text>
<text x="416.78" y="209.2" font-size="7.9" text-anchor="middle" fill="#231f20" >9040</text>
<text x="447.4" y="209.2" font-size="7.9" text-anchor="middle" fill="#231f20" >9060</text>
<text x="355.7" y="221" font-size="8" text-anchor="middle" fill="#231f20" >Energy (eV)</text>
<text x="0" y="0" font-size="8" text-anchor="middle" fill="#231f20" transform="translate(250.6 105.6) rotate(-90)" >Normalized Intensity (a.u.)</text>
<text x="442.3" y="46.6" font-size="8.2" text-anchor="end" fill="#231f20" >Cu<tspan dy="1.6" font-size="5.4">2</tspan><tspan dy="-1.6">O</tspan></text>
<text x="442.3" y="74.6" font-size="8.2" text-anchor="end" fill="#231f20" >Cu-348 K</text>
<text x="442.3" y="97.9" font-size="8.2" text-anchor="end" fill="#231f20" >Cu-348 K-3 V</text>
<text x="442.3" y="124.7" font-size="8.2" text-anchor="end" fill="#231f20" >Cu-298 K-3 V</text>
<text x="442.3" y="149.3" font-size="8.2" text-anchor="end" fill="#231f20" >Cu-298 K-OCP</text>
<text x="442.3" y="174.8" font-size="8.2" text-anchor="end" fill="#231f20" >Cu Foil</text>
<path d="M498.7,53.6 L499.2,53.6 L499.7,53.6 L500.4,53.6 L501.2,53.6 L502.1,53.5 L502.9,53.5 L503.8,53.5 L504.7,53.5 L505.7,53.5 L506.6,53.5 L507.5,53.5 L508.4,53.4 L509.2,53.4 L510.1,53.4 L510.9,53.4 L511.8,53.4 L512.6,53.4 L513.5,53.4 L514.3,53.4 L515.1,53.4 L515.9,53.4 L516.7,53.3 L517.5,53.3 L518.3,53.2 L519.0,53.0 L519.8,52.8 L520.7,52.6 L521.5,52.3 L522.3,52.0 L523.1,51.6 L523.8,51.3 L524.6,51.0 L525.3,50.8 L526.0,50.6 L526.8,50.5 L527.5,50.5 L528.3,50.6 L529.1,50.8 L529.8,50.9 L530.5,50.9 L531.2,50.7 L531.8,50.4 L532.5,49.9 L533.1,49.4 L533.7,48.8 L534.3,48.2 L534.9,47.6 L535.5,46.9 L536.1,46.3 L536.7,45.7 L537.3,45.0 L537.9,44.4 L538.5,43.7 L539.1,43.1 L539.6,42.5 L540.2,41.8 L540.8,41.2 L541.4,40.6 L542.1,40.0 L542.8,39.4 L543.5,38.8 L544.1,38.5 L544.8,38.3 L545.4,38.3 L546.0,38.6 L546.6,39.1 L547.1,39.8 L547.6,40.5 L548.1,41.2 L548.4,42.0 L548.8,42.7 L549.1,43.4 L549.4,44.2 L549.7,45.0 L550.1,45.8 L550.4,46.6 L550.8,47.4 L551.2,48.2 L551.6,49.0 L552.1,49.8 L552.5,50.6 L553.0,51.4 L553.5,52.1 L554.0,52.6 L554.5,53.0 L555.0,53.2 L555.6,53.2 L556.3,52.8 L557.0,52.3 L557.7,51.7 L558.3,51.2 L559.0,50.8 L559.7,50.6 L560.4,50.7 L561.1,51.0 L561.8,51.3 L562.6,51.7 L563.3,52.1 L564.1,52.4 L564.9,52.6 L565.7,52.8 L566.5,52.9 L567.2,52.9 L568.0,52.7 L568.7,52.4 L569.3,52.0 L570.0,51.5 L570.6,50.9 L571.2,50.3 L571.7,49.7 L572.2,49.1 L572.6,48.4 L573.1,47.7 L573.6,47.0 L574.0,46.4 L574.5,45.7 L575.0,45.0 L575.6,44.3 L576.2,43.6 L576.8,42.9 L577.4,42.2 L578.1,41.7 L578.7,41.2 L579.4,40.9 L580.0,40.8 L580.6,40.9 L581.3,41.2 L581.9,41.7 L582.5,42.3 L583.2,43.0 L583.8,43.6 L584.4,44.3 L585.1,44.9 L585.8,45.4 L586.5,45.9 L587.2,46.4 L588.0,46.8 L588.7,47.1 L589.5,47.4 L590.3,47.6 L591.1,47.7 L591.9,47.8 L592.7,48.0 L593.5,48.2 L594.3,48.5 L595.0,48.9 L595.7,49.4 L596.4,49.9 L597.2,50.3 L597.9,50.7 L598.6,51.0 L599.3,51.1 L600.0,51.0 L600.7,50.8 L601.4,50.5 L602.2,50.2 L602.9,50.0 L603.7,49.9 L604.5,50.0 L605.2,50.3 L606.0,50.6 L606.8,50.9 L607.7,51.3 L608.5,51.6 L609.3,51.9 L610.2,52.1 L611.0,52.3 L611.8,52.3 L612.5,52.2 L613.3,52.0 L614.0,51.7 L614.7,51.2 L615.4,50.7 L616.1,50.2 L616.8,49.7 L617.5,49.2 L618.2,48.8 L618.9,48.5 L619.6,48.3 L620.2,48.3 L620.9,48.5 L621.6,48.8 L622.3,49.2 L622.9,49.7 L623.6,50.2 L624.3,50.7 L625.1,51.2 L625.8,51.7 L626.6,52.1 L627.4,52.4 L628.2,52.6 L628.9,52.7 L629.7,52.8 L630.4,52.8 L631.2,52.9 L632.1,52.9 L632.9,52.9 L633.7,52.8 L634.6,52.8 L635.4,52.8 L636.3,52.7 L637.1,52.7 L637.9,52.6 L638.7,52.5 L639.5,52.5 L640.4,52.4 L641.2,52.3 L642.0,52.2 L642.9,52.0 L643.7,51.9 L644.5,51.7 L645.3,51.5 L646.2,51.4 L647.0,51.3 L647.7,51.1 L648.5,51.1 L649.3,51.0 L650.1,51.1 L650.8,51.2 L651.6,51.3 L652.4,51.5 L653.2,51.8 L653.9,52.1 L654.7,52.5 L655.4,52.8 L656.2,53.1 L656.9,53.4 L657.6,53.6 L658.4,53.8 L659.1,53.9 L659.8,53.9 L660.6,53.8 L661.3,53.6 L662.0,53.4 L662.7,53.1 L663.5,52.8 L664.2,52.6 L665.0,52.3 L665.9,52.1 L666.8,52.0 L667.6,51.9 L668.4,51.9 L669.2,51.9 L670.1,51.9 L670.9,52.0 L671.8,52.1 L672.7,52.1 L673.6,52.3 L674.5,52.4 L675.5,52.5 L676.4,52.6 L677.3,52.8 L678.2,52.9 L679.0,53.0 L679.8,53.1 L680.7,53.3 L681.4,53.4 L682.0,53.5 L682.6,53.5 L683.0,53.6" fill="none" stroke="#3b74b4" stroke-width="1.0" stroke-linejoin="round" stroke-linecap="round"/>
<path d="M498.7,83.0 L499.2,83.0 L499.7,83.0 L500.3,83.0 L501.0,83.0 L501.8,82.9 L502.5,82.9 L503.3,82.9 L504.2,82.9 L505.1,82.9 L506.0,82.9 L506.9,82.8 L507.9,82.8 L508.8,82.8 L509.8,82.7 L510.7,82.7 L511.6,82.7 L512.5,82.6 L513.4,82.6 L514.2,82.5 L515.1,82.5 L515.9,82.4 L516.8,82.4 L517.7,82.3 L518.6,82.2 L519.5,82.2 L520.3,82.1 L521.2,82.0 L522.1,81.9 L522.9,81.8 L523.7,81.7 L524.5,81.6 L525.3,81.5 L526.1,81.4 L526.8,81.3 L527.5,81.1 L528.2,80.9 L529.0,80.7 L529.8,80.4 L530.6,80.0 L531.4,79.6 L532.1,79.2 L532.7,78.7 L533.3,78.3 L533.9,77.8 L534.5,77.3 L535.0,76.7 L535.6,76.2 L536.2,75.6 L536.7,75.0 L537.2,74.4 L537.7,73.7 L538.2,73.1 L538.7,72.5 L539.2,71.9 L539.8,71.3 L540.4,70.7 L541.0,70.1 L541.6,69.5 L542.3,68.9 L542.9,68.4 L543.6,67.9 L544.2,67.6 L544.8,67.4 L545.5,67.4 L546.1,67.6 L546.7,67.9 L547.4,68.4 L548.0,69.0 L548.6,69.6 L549.2,70.3 L549.8,70.9 L550.4,71.6 L551.0,72.3 L551.5,73.0 L552.1,73.7 L552.7,74.2 L553.3,74.5 L553.8,74.7 L554.4,74.6 L555.0,74.3 L555.5,73.9 L556.1,73.2 L556.7,72.6 L557.3,71.8 L557.9,71.2 L558.5,70.5 L559.1,69.9 L559.7,69.2 L560.3,68.6 L560.9,67.9 L561.6,67.3 L562.2,66.7 L562.8,66.1 L563.4,65.5 L564.0,65.1 L564.6,64.8 L565.3,64.6 L566.1,64.7 L566.8,65.0 L567.5,65.4 L568.2,65.9 L568.7,66.4 L569.3,66.9 L569.9,67.4 L570.4,68.0 L571.0,68.7 L571.5,69.5 L572.0,70.2 L572.5,70.9 L572.9,71.7 L573.3,72.5 L573.7,73.3 L574.1,74.2 L574.5,75.1 L574.9,76.0 L575.4,76.8 L575.8,77.7 L576.2,78.4 L576.6,79.1 L577.0,79.7 L577.4,80.1 L577.8,80.4 L578.2,80.5 L578.6,80.5 L579.0,80.2 L579.4,79.7 L579.8,79.1 L580.2,78.3 L580.6,77.5 L580.9,76.5 L581.3,75.6 L581.7,74.7 L582.1,73.8 L582.5,73.0 L582.9,72.3 L583.5,71.6 L584.1,70.9 L584.7,70.3 L585.4,69.7 L586.0,69.3 L586.7,69.0 L587.4,68.8 L588.0,68.7 L588.6,68.8 L589.2,69.1 L589.8,69.5 L590.4,70.1 L591.0,70.8 L591.5,71.5 L592.1,72.2 L592.5,72.9 L592.9,73.7 L593.3,74.5 L593.6,75.3 L594.0,76.2 L594.4,77.1 L594.8,77.9 L595.3,78.6 L595.8,79.3 L596.2,79.9 L596.8,80.3 L597.3,80.5 L597.8,80.6 L598.3,80.4 L598.8,80.2 L599.4,79.8 L599.9,79.3 L600.4,78.7 L601.0,78.0 L601.5,77.4 L602.2,76.7 L602.8,76.0 L603.5,75.3 L604.2,74.7 L604.9,74.2 L605.7,73.8 L606.5,73.5 L607.3,73.4 L608.1,73.3 L608.7,73.4 L609.4,73.5 L610.0,73.7 L610.7,73.9 L611.3,74.2 L612.0,74.5 L612.7,74.8 L613.4,75.2 L614.2,75.6 L614.9,76.0 L615.7,76.4 L616.4,76.8 L617.2,77.3 L618.0,77.7 L618.8,78.2 L619.6,78.6 L620.4,79.1 L621.2,79.5 L622.0,79.9 L622.8,80.2 L623.6,80.6 L624.4,80.9 L625.2,81.2 L625.9,81.4 L626.7,81.6 L627.5,81.7 L628.2,81.8 L629.0,81.8 L629.8,81.8 L630.6,81.7 L631.4,81.6 L632.2,81.4 L633.0,81.2 L633.8,81.0 L634.6,80.7 L635.5,80.4 L636.3,80.1 L637.1,79.7 L637.9,79.3 L638.7,79.0 L639.6,78.6 L640.4,78.2 L641.2,77.8 L641.9,77.4 L642.7,77.1 L643.5,76.7 L644.2,76.4 L645.0,76.1 L645.7,75.8 L646.4,75.6 L647.1,75.3 L647.7,75.2 L648.4,75.1 L649.1,75.0 L649.9,75.0 L650.7,75.1 L651.4,75.3 L652.2,75.6 L652.8,76.0 L653.5,76.5 L654.1,76.9 L654.6,77.5 L655.2,78.0 L655.8,78.5 L656.4,79.1 L657.1,79.5 L657.9,79.9 L658.7,80.3 L659.6,80.6 L660.4,80.8 L661.1,80.9 L661.9,81.0 L662.6,81.0 L663.4,81.0 L664.2,81.1 L665.1,81.1 L666.0,81.1 L666.9,81.1 L667.8,81.0 L668.7,81.0 L669.7,81.0 L670.6,80.9 L671.6,80.9 L672.5,80.9 L673.4,80.8 L674.4,80.7 L675.3,80.7 L676.2,80.6 L677.0,80.6 L677.9,80.5 L678.7,80.5 L679.4,80.4 L680.1,80.4 L680.9,80.3 L681.5,80.3 L682.1,80.2 L682.6,80.2 L683.0,80.2" fill="none" stroke="#31a098" stroke-width="1.0" stroke-linejoin="round" stroke-linecap="round"/>
<path d="M498.7,108.2 L499.1,108.2 L499.6,108.2 L500.2,108.2 L500.8,108.2 L501.5,108.2 L502.3,108.2 L503.0,108.1 L503.8,108.1 L504.6,108.1 L505.5,108.1 L506.4,108.1 L507.3,108.1 L508.2,108.1 L509.1,108.1 L510.0,108.1 L511.0,108.1 L511.9,108.0 L512.9,108.0 L513.8,108.0 L514.7,108.0 L515.6,108.0 L516.4,108.0 L517.3,108.0 L518.1,108.0 L518.9,108.0 L519.7,108.0 L520.6,108.0 L521.5,108.0 L522.4,108.1 L523.3,108.1 L524.2,108.1 L525.1,108.2 L526.0,108.2 L526.9,108.3 L527.7,108.3 L528.5,108.4 L529.4,108.4 L530.1,108.4 L530.9,108.4 L531.7,108.5 L532.4,108.5 L533.1,108.4 L533.7,108.4 L534.4,108.4 L535.2,108.2 L536.0,108.0 L536.9,107.8 L537.7,107.4 L538.5,107.0 L539.2,106.5 L539.9,106.1 L540.5,105.7 L541.1,105.3 L541.8,105.0 L542.5,104.9 L543.2,104.9 L544.0,105.0 L544.8,105.1 L545.6,105.4 L546.4,105.7 L547.2,106.1 L548.0,106.5 L548.8,106.8 L549.6,107.0 L550.3,107.1 L551.0,107.0 L551.6,106.7 L552.1,106.3 L552.6,105.7 L553.1,105.1 L553.6,104.3 L554.0,103.6 L554.5,102.8 L554.9,102.0 L555.3,101.2 L555.8,100.4 L556.2,99.6 L556.6,98.9 L557.0,98.1 L557.3,97.4 L557.7,96.6 L558.0,95.8 L558.4,95.1 L558.8,94.3 L559.1,93.6 L559.5,92.9 L559.9,92.2 L560.4,91.6 L560.9,90.9 L561.5,90.2 L562.0,89.6 L562.6,89.1 L563.2,88.6 L563.8,88.2 L564.5,87.9 L565.3,87.7 L566.0,87.5 L566.8,87.4 L567.6,87.5 L568.5,87.6 L569.3,87.8 L570.0,88.1 L570.8,88.5 L571.4,88.9 L572.0,89.4 L572.5,90.0 L573.0,90.5 L573.6,91.2 L574.1,91.9 L574.6,92.6 L575.1,93.2 L575.6,93.9 L576.0,94.6 L576.4,95.3 L576.9,96.0 L577.3,96.8 L577.8,97.5 L578.2,98.2 L578.6,99.0 L579.1,99.7 L579.6,100.4 L580.1,101.0 L580.6,101.7 L581.1,102.4 L581.7,103.1 L582.3,103.7 L582.9,104.3 L583.4,104.9 L584.0,105.4 L584.6,105.9 L585.2,106.3 L585.9,106.6 L586.6,106.9 L587.3,107.0 L588.1,107.1 L588.9,107.1 L589.7,107.0 L590.4,106.9 L591.1,106.8 L591.7,106.7 L592.3,106.6 L593.0,106.4 L593.7,106.3 L594.4,106.1 L595.2,105.9 L596.1,105.7 L597.1,105.5 L598.1,105.3 L599.1,105.2 L600.0,105.0 L600.8,104.9 L601.5,104.8 L602.2,104.6 L602.8,104.5 L603.5,104.4 L604.2,104.3 L604.9,104.1 L605.7,104.0 L606.4,103.9 L607.2,103.7 L608.0,103.6 L608.8,103.5 L609.6,103.3 L610.5,103.2 L611.3,103.1 L612.2,102.9 L613.0,102.8 L613.9,102.7 L614.7,102.5 L615.6,102.4 L616.5,102.3 L617.3,102.2 L618.2,102.1 L619.1,102.0 L620.0,102.0 L620.8,101.9 L621.7,101.8 L622.5,101.8 L623.3,101.7 L624.2,101.7 L625.0,101.7 L625.8,101.7 L626.6,101.7 L627.4,101.7 L628.2,101.7 L629.0,101.8 L629.9,101.8 L630.7,101.8 L631.6,101.9 L632.4,101.9 L633.3,102.0 L634.1,102.1 L635.0,102.1 L635.8,102.2 L636.7,102.3 L637.5,102.4 L638.4,102.5 L639.2,102.6 L640.0,102.6 L640.9,102.7 L641.7,102.8 L642.5,102.9 L643.3,103.0 L644.1,103.1 L644.9,103.2 L645.7,103.3 L646.4,103.4 L647.2,103.5 L647.9,103.6 L648.7,103.7 L649.4,103.8 L650.2,103.9 L651.0,104.0 L651.9,104.1 L652.8,104.2 L653.7,104.4 L654.5,104.5 L655.4,104.7 L656.2,104.8 L657.0,105.0 L657.8,105.2 L658.6,105.3 L659.4,105.5 L660.1,105.7 L660.9,105.8 L661.6,106.0 L662.4,106.1 L663.1,106.3 L663.8,106.4 L664.5,106.5 L665.3,106.7 L666.0,106.8 L666.7,106.9 L667.5,106.9 L668.3,107.0 L669.2,107.1 L670.0,107.1 L671.0,107.2 L671.9,107.2 L672.8,107.2 L673.7,107.2 L674.7,107.2 L675.6,107.2 L676.5,107.2 L677.3,107.2 L678.2,107.1 L679.0,107.1 L679.7,107.1 L680.5,107.1 L681.2,107.0 L681.8,107.0 L682.3,107.0 L682.8,107.0 L683.0,107.0" fill="none" stroke="#5cb59c" stroke-width="1.0" stroke-linejoin="round" stroke-linecap="round"/>
<path d="M498.7,134.2 L499.1,134.2 L499.6,134.2 L500.2,134.1 L500.8,134.1 L501.5,134.1 L502.2,134.0 L502.9,134.0 L503.7,133.9 L504.5,133.9 L505.3,133.8 L506.2,133.8 L507.1,133.7 L508.0,133.7 L508.9,133.6 L509.8,133.6 L510.8,133.5 L511.7,133.5 L512.7,133.5 L513.6,133.4 L514.6,133.4 L515.5,133.3 L516.4,133.3 L517.3,133.2 L518.2,133.2 L519.1,133.2 L519.9,133.2 L520.7,133.1 L521.5,133.1 L522.3,133.1 L523.1,133.1 L523.9,133.1 L524.9,133.1 L525.8,133.2 L526.8,133.2 L527.7,133.3 L528.6,133.4 L529.5,133.4 L530.3,133.5 L531.2,133.6 L532.0,133.7 L532.8,133.8 L533.5,133.9 L534.3,134.0 L535.0,134.0 L535.7,134.1 L536.4,134.1 L537.0,134.2 L537.7,134.2 L538.5,134.1 L539.3,134.1 L540.2,134.0 L541.1,133.8 L542.0,133.6 L542.8,133.3 L543.6,133.1 L544.3,132.8 L544.9,132.6 L545.7,132.5 L546.4,132.5 L547.2,132.5 L548.0,132.6 L548.8,132.8 L549.5,132.9 L550.2,132.9 L550.9,132.8 L551.5,132.5 L552.1,132.1 L552.7,131.5 L553.3,130.9 L553.8,130.2 L554.3,129.5 L554.7,128.8 L555.1,128.1 L555.4,127.4 L555.8,126.7 L556.2,125.9 L556.5,125.1 L556.9,124.4 L557.3,123.6 L557.7,122.9 L558.0,122.1 L558.4,121.4 L558.8,120.6 L559.2,119.9 L559.6,119.1 L559.9,118.4 L560.3,117.6 L560.7,116.9 L561.1,116.3 L561.6,115.6 L562.1,115.0 L562.7,114.3 L563.3,113.7 L564.0,113.1 L564.6,112.6 L565.3,112.1 L566.0,111.6 L566.7,111.3 L567.3,111.2 L568.0,111.2 L568.6,111.4 L569.2,111.8 L569.8,112.3 L570.3,113.0 L570.8,113.8 L571.3,114.5 L571.7,115.2 L572.0,115.8 L572.4,116.5 L572.8,117.3 L573.1,118.1 L573.5,118.8 L573.9,119.6 L574.3,120.4 L574.7,121.1 L575.1,121.9 L575.5,122.6 L575.9,123.3 L576.3,124.1 L576.8,124.8 L577.2,125.6 L577.7,126.3 L578.2,127.0 L578.6,127.6 L579.1,128.3 L579.6,128.9 L580.1,129.6 L580.6,130.3 L581.1,131.0 L581.7,131.6 L582.2,132.2 L582.8,132.8 L583.4,133.2 L584.0,133.5 L584.6,133.6 L585.3,133.5 L586.0,133.3 L586.7,133.0 L587.4,132.7 L588.2,132.3 L589.0,132.0 L589.8,131.7 L590.5,131.6 L591.2,131.5 L591.8,131.4 L592.4,131.4 L593.1,131.4 L593.7,131.4 L594.5,131.4 L595.3,131.3 L596.2,131.3 L597.1,131.2 L598.1,131.2 L599.1,131.1 L600.0,131.0 L600.8,130.9 L601.5,130.8 L602.2,130.7 L602.8,130.6 L603.5,130.5 L604.3,130.4 L605.0,130.3 L605.7,130.1 L606.5,130.0 L607.3,129.9 L608.1,129.7 L608.9,129.6 L609.8,129.5 L610.6,129.3 L611.4,129.2 L612.3,129.0 L613.2,128.9 L614.0,128.8 L614.9,128.6 L615.8,128.5 L616.6,128.4 L617.5,128.3 L618.4,128.2 L619.2,128.1 L620.1,128.0 L620.9,127.9 L621.8,127.9 L622.6,127.8 L623.4,127.7 L624.2,127.7 L625.0,127.7 L625.8,127.7 L626.6,127.7 L627.4,127.7 L628.3,127.7 L629.1,127.7 L629.9,127.7 L630.7,127.7 L631.6,127.8 L632.4,127.8 L633.2,127.8 L634.0,127.9 L634.8,128.0 L635.7,128.0 L636.5,128.1 L637.3,128.1 L638.1,128.2 L638.9,128.3 L639.7,128.4 L640.5,128.5 L641.3,128.5 L642.1,128.6 L642.9,128.7 L643.7,128.8 L644.4,128.9 L645.2,129.0 L646.0,129.1 L646.7,129.2 L647.5,129.3 L648.3,129.4 L649.1,129.5 L649.9,129.7 L650.8,129.8 L651.6,130.0 L652.5,130.2 L653.3,130.4 L654.1,130.6 L654.9,130.7 L655.8,130.9 L656.6,131.2 L657.4,131.4 L658.1,131.6 L658.9,131.8 L659.7,132.0 L660.5,132.2 L661.2,132.4 L662.0,132.6 L662.7,132.8 L663.5,132.9 L664.2,133.1 L665.0,133.3 L665.7,133.4 L666.4,133.6 L667.2,133.7 L667.9,133.8 L668.8,133.9 L669.7,134.0 L670.6,134.1 L671.6,134.2 L672.5,134.2 L673.4,134.3 L674.4,134.3 L675.3,134.3 L676.2,134.4 L677.0,134.4 L677.9,134.4 L678.7,134.4 L679.4,134.4 L680.1,134.4 L680.9,134.4 L681.5,134.4 L682.1,134.4 L682.6,134.4 L683.0,134.4" fill="none" stroke="#b7d9a8" stroke-width="1.0" stroke-linejoin="round" stroke-linecap="round"/>
<path d="M498.7,161.0 L499.1,161.0 L499.6,161.0 L500.2,160.9 L500.8,160.9 L501.5,160.9 L502.2,160.8 L502.9,160.8 L503.7,160.8 L504.5,160.7 L505.4,160.7 L506.2,160.6 L507.1,160.6 L508.0,160.5 L508.9,160.5 L509.9,160.5 L510.8,160.4 L511.8,160.4 L512.7,160.3 L513.7,160.3 L514.6,160.2 L515.6,160.2 L516.5,160.1 L517.4,160.1 L518.3,160.1 L519.1,160.0 L520.0,160.0 L520.8,160.0 L521.6,159.9 L522.4,159.9 L523.2,159.9 L524.1,159.9 L525.0,159.9 L525.9,159.9 L526.8,159.9 L527.7,159.9 L528.5,159.9 L529.4,159.9 L530.2,159.9 L531.0,159.9 L531.7,159.9 L532.5,159.9 L533.2,159.9 L534.0,159.9 L534.7,159.9 L535.4,159.9 L536.1,159.9 L536.8,159.9 L537.6,159.9 L538.3,159.9 L539.2,159.9 L540.0,159.8 L540.9,159.8 L541.8,159.7 L542.7,159.7 L543.6,159.6 L544.5,159.6 L545.3,159.5 L546.1,159.4 L546.9,159.4 L547.7,159.3 L548.4,159.2 L549.1,159.1 L549.8,158.9 L550.5,158.8 L551.2,158.5 L551.9,158.2 L552.5,157.8 L553.0,157.3 L553.5,156.7 L553.9,156.1 L554.4,155.5 L554.8,154.8 L555.2,154.2 L555.6,153.5 L556.1,152.8 L556.5,152.1 L556.9,151.3 L557.4,150.5 L557.8,149.8 L558.2,149.0 L558.5,148.3 L558.9,147.5 L559.2,146.8 L559.5,146.0 L559.9,145.2 L560.2,144.5 L560.5,143.7 L560.9,143.0 L561.2,142.3 L561.7,141.6 L562.1,140.9 L562.7,140.3 L563.3,139.6 L564.0,139.0 L564.6,138.4 L565.3,137.8 L566.0,137.4 L566.7,137.1 L567.3,136.9 L568.0,136.8 L568.6,137.0 L569.2,137.3 L569.8,137.9 L570.3,138.6 L570.8,139.3 L571.2,140.0 L571.6,140.7 L572.0,141.3 L572.3,142.1 L572.7,142.8 L573.1,143.6 L573.4,144.4 L573.8,145.2 L574.2,146.0 L574.5,146.8 L574.9,147.5 L575.3,148.3 L575.6,149.1 L576.0,149.8 L576.5,150.6 L576.9,151.4 L577.3,152.1 L577.7,152.9 L578.1,153.6 L578.5,154.3 L579.0,154.9 L579.4,155.6 L579.9,156.3 L580.3,157.0 L580.9,157.7 L581.4,158.4 L581.9,159.1 L582.5,159.7 L583.1,160.2 L583.7,160.6 L584.3,160.8 L584.9,160.8 L585.4,160.7 L586.0,160.5 L586.7,160.1 L587.4,159.8 L588.3,159.4 L589.2,159.1 L590.0,158.9 L590.8,158.7 L591.5,158.6 L592.2,158.5 L592.9,158.5 L593.6,158.4 L594.4,158.3 L595.2,158.3 L596.0,158.2 L596.8,158.1 L597.7,158.1 L598.6,158.0 L599.4,157.9 L600.3,157.9 L601.2,157.8 L602.1,157.7 L603.0,157.6 L603.8,157.5 L604.7,157.4 L605.5,157.3 L606.4,157.2 L607.2,157.0 L608.0,156.9 L608.8,156.7 L609.6,156.5 L610.4,156.3 L611.2,156.1 L612.0,155.9 L612.9,155.6 L613.7,155.4 L614.5,155.2 L615.3,154.9 L616.1,154.7 L616.9,154.5 L617.8,154.2 L618.6,154.0 L619.3,153.8 L620.1,153.6 L620.9,153.4 L621.7,153.3 L622.4,153.2 L623.2,153.1 L623.9,153.0 L624.7,152.9 L625.6,152.9 L626.5,152.9 L627.3,152.9 L628.2,153.0 L629.0,153.1 L629.8,153.2 L630.6,153.3 L631.4,153.5 L632.2,153.6 L633.0,153.8 L633.7,153.9 L634.5,154.1 L635.3,154.2 L636.1,154.3 L636.9,154.4 L637.7,154.5 L638.5,154.6 L639.4,154.7 L640.2,154.7 L641.0,154.7 L641.9,154.8 L642.7,154.8 L643.6,154.9 L644.4,154.9 L645.2,155.0 L646.0,155.0 L646.9,155.1 L647.7,155.2 L648.5,155.3 L649.2,155.4 L650.0,155.6 L650.8,155.8 L651.6,156.0 L652.4,156.3 L653.2,156.6 L653.9,156.9 L654.7,157.3 L655.4,157.6 L656.2,158.0 L656.9,158.3 L657.6,158.7 L658.4,159.0 L659.1,159.3 L659.8,159.5 L660.6,159.7 L661.3,159.8 L662.1,159.9 L662.9,159.9 L663.7,159.9 L664.5,159.8 L665.3,159.7 L666.1,159.6 L666.9,159.5 L667.7,159.3 L668.5,159.2 L669.3,159.0 L670.1,158.9 L670.9,158.9 L671.7,158.9 L672.6,158.9 L673.4,158.9 L674.3,159.0 L675.2,159.1 L676.1,159.3 L677.1,159.4 L678.0,159.6 L678.8,159.8 L679.7,159.9 L680.6,160.1 L681.3,160.3 L682.0,160.4 L682.5,160.5 L683.0,160.6" fill="none" stroke="#f8c98b" stroke-width="1.0" stroke-linejoin="round" stroke-linecap="round"/>
<path d="M498.7,187.6 L499.1,187.6 L499.6,187.6 L500.2,187.6 L500.8,187.6 L501.6,187.6 L502.3,187.5 L503.1,187.5 L503.9,187.5 L504.7,187.5 L505.6,187.5 L506.5,187.5 L507.4,187.5 L508.4,187.5 L509.3,187.4 L510.3,187.4 L511.3,187.4 L512.2,187.4 L513.2,187.4 L514.2,187.4 L515.1,187.4 L516.0,187.3 L516.9,187.3 L517.8,187.3 L518.7,187.3 L519.5,187.3 L520.3,187.3 L521.0,187.2 L521.8,187.2 L522.6,187.2 L523.4,187.2 L524.4,187.1 L525.5,187.1 L526.5,187.0 L527.4,186.9 L528.2,186.9 L528.9,186.8 L529.6,186.8 L530.2,186.7 L530.8,186.7 L531.5,186.7 L532.2,186.8 L532.9,187.0 L533.7,187.2 L534.4,187.5 L535.2,187.8 L535.9,188.0 L536.7,188.1 L537.4,188.1 L538.2,188.0 L539.0,187.8 L539.8,187.5 L540.6,187.1 L541.4,186.7 L542.2,186.3 L543.0,186.0 L543.8,185.6 L544.6,185.4 L545.3,185.2 L546.1,185.2 L547.0,185.4 L547.7,185.6 L548.5,185.9 L549.2,186.2 L549.9,186.4 L550.6,186.4 L551.2,186.2 L551.8,185.8 L552.3,185.2 L552.9,184.6 L553.4,183.9 L553.9,183.1 L554.4,182.5 L554.8,181.8 L555.3,181.1 L555.7,180.5 L556.2,179.8 L556.6,179.0 L557.1,178.3 L557.5,177.5 L557.9,176.7 L558.3,176.0 L558.7,175.2 L559.0,174.4 L559.3,173.7 L559.6,172.9 L559.9,172.1 L560.3,171.2 L560.6,170.4 L560.9,169.7 L561.3,168.9 L561.7,168.2 L562.1,167.5 L562.6,166.7 L563.1,166.0 L563.6,165.3 L564.2,164.6 L564.8,163.9 L565.4,163.3 L566.0,162.8 L566.6,162.4 L567.1,162.1 L567.7,162.0 L568.2,162.1 L568.8,162.4 L569.3,162.9 L569.9,163.7 L570.4,164.5 L570.9,165.2 L571.3,166.0 L571.7,166.7 L572.1,167.4 L572.5,168.1 L572.8,168.8 L573.2,169.6 L573.6,170.3 L574.0,171.1 L574.4,171.9 L574.8,172.6 L575.2,173.4 L575.6,174.1 L576.0,174.9 L576.4,175.6 L576.8,176.3 L577.2,177.1 L577.6,177.8 L578.0,178.5 L578.4,179.3 L578.8,180.0 L579.2,180.7 L579.6,181.4 L580.0,182.1 L580.5,182.8 L580.9,183.6 L581.3,184.4 L581.8,185.2 L582.2,185.9 L582.6,186.6 L583.1,187.1 L583.6,187.6 L584.1,188.0 L584.6,188.1 L585.2,188.2 L585.7,188.0 L586.3,187.7 L587.0,187.4 L587.9,187.0 L588.7,186.6 L589.6,186.3 L590.4,186.1 L591.2,185.9 L591.8,185.8 L592.5,185.7 L593.3,185.6 L594.0,185.5 L594.8,185.4 L595.6,185.3 L596.4,185.2 L597.3,185.1 L598.1,185.0 L599.0,184.9 L599.9,184.8 L600.7,184.7 L601.6,184.6 L602.5,184.5 L603.4,184.4 L604.3,184.3 L605.1,184.2 L605.9,184.0 L606.8,183.9 L607.6,183.7 L608.4,183.6 L609.2,183.4 L610.0,183.2 L610.8,183.0 L611.6,182.8 L612.4,182.6 L613.3,182.4 L614.1,182.2 L614.9,182.0 L615.7,181.8 L616.5,181.6 L617.4,181.4 L618.2,181.2 L618.9,181.0 L619.7,180.8 L620.5,180.7 L621.3,180.6 L622.0,180.4 L622.8,180.4 L623.5,180.3 L624.3,180.2 L625.1,180.2 L626.0,180.3 L626.8,180.3 L627.6,180.4 L628.5,180.6 L629.3,180.7 L630.0,180.9 L630.8,181.1 L631.6,181.3 L632.3,181.5 L633.1,181.6 L633.8,181.8 L634.6,182.0 L635.4,182.1 L636.1,182.2 L636.9,182.3 L637.7,182.4 L638.5,182.4 L639.4,182.4 L640.2,182.3 L641.0,182.2 L641.9,182.2 L642.7,182.1 L643.6,182.0 L644.4,181.9 L645.2,181.8 L646.0,181.7 L646.9,181.6 L647.7,181.6 L648.5,181.6 L649.2,181.6 L650.0,181.7 L650.8,181.8 L651.6,182.0 L652.4,182.3 L653.2,182.5 L653.9,182.8 L654.7,183.2 L655.4,183.5 L656.2,183.9 L656.9,184.3 L657.6,184.6 L658.4,185.0 L659.1,185.3 L659.8,185.6 L660.6,185.8 L661.3,186.1 L662.1,186.3 L662.9,186.4 L663.7,186.6 L664.5,186.7 L665.3,186.8 L666.1,186.9 L666.9,186.9 L667.7,187.0 L668.5,187.0 L669.3,187.1 L670.1,187.1 L670.9,187.1 L671.7,187.1 L672.6,187.1 L673.4,187.0 L674.3,187.0 L675.2,186.9 L676.1,186.9 L677.1,186.8 L678.0,186.7 L678.8,186.6 L679.7,186.5 L680.6,186.4 L681.3,186.3 L682.0,186.2 L682.5,186.1 L683.0,186.1" fill="none" stroke="#ee7d55" stroke-width="1.0" stroke-linejoin="round" stroke-linecap="round"/>
<line x1="545.1" y1="37.2" x2="545.1" y2="189.8" stroke="#767676" stroke-width="1.25" stroke-dasharray="2.6,1.8" />
<line x1="567.3" y1="40.5" x2="567.3" y2="174.5" stroke="#767676" stroke-width="1.25" stroke-dasharray="2.6,1.8" />
<rect x="498.7" y="12.15" width="184.6" height="186.75" fill="none" stroke="#666" stroke-width="1.2"/>
<line x1="498.7" y1="198.9" x2="498.7" y2="201.4" stroke="#666" stroke-width="1" />
<line x1="529.47" y1="198.9" x2="529.47" y2="201.4" stroke="#666" stroke-width="1" />
<line x1="560.23" y1="198.9" x2="560.23" y2="201.4" stroke="#666" stroke-width="1" />
<line x1="591" y1="198.9" x2="591" y2="201.4" stroke="#666" stroke-width="1" />
<line x1="621.77" y1="198.9" x2="621.77" y2="201.4" stroke="#666" stroke-width="1" />
<line x1="652.53" y1="198.9" x2="652.53" y2="201.4" stroke="#666" stroke-width="1" />
<line x1="683.3" y1="198.9" x2="683.3" y2="201.4" stroke="#666" stroke-width="1" />
<line x1="514.08" y1="198.9" x2="514.08" y2="200.4" stroke="#666" stroke-width="1" />
<line x1="544.85" y1="198.9" x2="544.85" y2="200.4" stroke="#666" stroke-width="1" />
<line x1="575.62" y1="198.9" x2="575.62" y2="200.4" stroke="#666" stroke-width="1" />
<line x1="606.38" y1="198.9" x2="606.38" y2="200.4" stroke="#666" stroke-width="1" />
<line x1="637.15" y1="198.9" x2="637.15" y2="200.4" stroke="#666" stroke-width="1" />
<line x1="667.92" y1="198.9" x2="667.92" y2="200.4" stroke="#666" stroke-width="1" />
<text x="498.7" y="209.1" font-size="7.9" text-anchor="middle" fill="#231f20" >0</text>
<text x="529.47" y="209.1" font-size="7.9" text-anchor="middle" fill="#231f20" >1</text>
<text x="560.23" y="209.1" font-size="7.9" text-anchor="middle" fill="#231f20" >2</text>
<text x="591" y="209.1" font-size="7.9" text-anchor="middle" fill="#231f20" >3</text>
<text x="621.77" y="209.1" font-size="7.9" text-anchor="middle" fill="#231f20" >4</text>
<text x="652.53" y="209.1" font-size="7.9" text-anchor="middle" fill="#231f20" >5</text>
<text x="683.3" y="209.1" font-size="7.9" text-anchor="middle" fill="#231f20" >6</text>
<text x="591" y="220.5" font-size="8" text-anchor="middle" fill="#231f20" >R (Å)</text>
<text x="0" y="0" font-size="8.8" text-anchor="middle" fill="#231f20" transform="translate(486.3 105.7) rotate(-90) scale(0.91 1)" >|FT k<tspan dy="-2.5" font-size="5.5">3</tspan><tspan dy="2.5">χ(k)| (Å</tspan><tspan dy="-2.5" font-size="5.5">−4</tspan><tspan dy="2.5">)</tspan></text>
<text x="515.7" y="32.2" font-size="8.2" text-anchor="start" fill="#231f20" >Cu<tspan dy="1.6" font-size="5.4">2</tspan><tspan dy="-1.6">O</tspan><tspan dy="1.8" font-size="5.6">Cu-O</tspan></text>
<text x="552.7" y="30" font-size="8.2" text-anchor="start" fill="#231f20" >Cu<tspan dy="1.8" font-size="5.6">Cu-Cu</tspan></text>
<text x="677.8" y="40" font-size="8.2" text-anchor="end" fill="#231f20" >Cu<tspan dy="1.6" font-size="5.4">2</tspan><tspan dy="-1.6">O</tspan></text>
<text x="677.8" y="66.9" font-size="8.2" text-anchor="end" fill="#231f20" >Cu-348 K</text>
<text x="677.8" y="93.5" font-size="8.2" text-anchor="end" fill="#231f20" >Cu-348 K-3 V</text>
<text x="677.8" y="118.6" font-size="8.2" text-anchor="end" fill="#231f20" >Cu-298 K-3 V</text>
<text x="677.8" y="146" font-size="8.2" text-anchor="end" fill="#231f20" >Cu-298 K-OCP</text>
<text x="677.8" y="176.9" font-size="8.2" text-anchor="end" fill="#231f20" >Cu Foil</text>
<rect x="320.9" y="279.9" width="4.8" height="146.2" fill="#d9d9d9"/>
<line x1="321.1" y1="279.9" x2="321.1" y2="426.1" stroke="#aaa" stroke-width="0.5" stroke-dasharray="1,1" />
<line x1="325.5" y1="279.9" x2="325.5" y2="426.1" stroke="#aaa" stroke-width="0.5" stroke-dasharray="1,1" />
<line x1="348.6" y1="253.7" x2="348.6" y2="401.5" stroke="#808080" stroke-width="0.8" stroke-dasharray="1.6,1.4" />
<line x1="374.3" y1="253.7" x2="374.3" y2="402.6" stroke="#808080" stroke-width="0.8" stroke-dasharray="1.6,1.4" />
<path d="M262.0,291.4 L262.4,291.4 L262.9,291.4 L263.4,291.4 L263.9,291.4 L264.5,291.4 L265.1,291.4 L265.7,291.4 L266.3,291.4 L267.0,291.4 L267.7,291.4 L268.4,291.4 L269.2,291.4 L269.9,291.4 L270.7,291.4 L271.5,291.4 L272.4,291.4 L273.2,291.4 L274.1,291.4 L275.0,291.4 L275.9,291.4 L276.8,291.4 L277.7,291.3 L278.6,291.3 L279.6,291.3 L280.5,291.3 L281.5,291.3 L282.5,291.3 L283.4,291.3 L284.4,291.3 L285.4,291.3 L286.4,291.3 L287.3,291.3 L288.3,291.3 L289.3,291.3 L290.3,291.3 L291.2,291.3 L292.2,291.3 L293.2,291.3 L294.1,291.3 L295.0,291.3 L296.0,291.3 L296.9,291.3 L297.8,291.3 L298.7,291.3 L299.5,291.3 L300.4,291.3 L301.2,291.3 L302.1,291.3 L302.8,291.3 L303.6,291.2 L304.4,291.2 L305.1,291.2 L305.8,291.2 L306.5,291.2 L307.1,291.2 L307.8,291.2 L308.4,291.2 L309.1,291.2 L309.9,291.2 L310.9,291.2 L312.2,291.2 L313.6,291.2 L314.8,291.2 L315.9,291.2 L316.7,291.2 L317.3,291.2 L317.8,291.2 L318.2,291.2 L318.6,291.1 L319.0,291.0 L319.4,290.9 L320.0,290.7 L320.7,290.3 L321.4,289.9 L322.1,289.4 L322.8,288.9 L323.5,288.4 L324.1,287.8 L324.7,287.3 L325.3,286.8 L325.9,286.4 L326.6,286.0 L327.3,285.7 L328.1,285.4 L328.8,285.1 L329.6,284.9 L330.3,284.5 L331.1,284.2 L331.8,283.8 L332.5,283.4 L333.1,282.9 L333.7,282.4 L334.2,281.8 L334.7,281.2 L335.2,280.5 L335.7,279.9 L336.2,279.3 L336.7,278.6 L337.1,278.0 L337.6,277.4 L338.0,276.7 L338.5,276.0 L338.9,275.2 L339.3,274.5 L339.6,273.7 L340.0,273.0 L340.3,272.2 L340.6,271.4 L340.8,270.6 L341.1,269.8 L341.4,269.0 L341.7,268.2 L342.0,267.4 L342.3,266.7 L342.6,265.9 L343.0,265.1 L343.5,264.3 L344.0,263.6 L344.5,262.9 L345.0,262.3 L345.5,261.9 L346.1,261.7 L346.7,261.7 L347.4,262.0 L348.1,262.4 L348.8,262.9 L349.4,263.5 L350.1,264.1 L350.7,264.8 L351.4,265.4 L352.0,265.9 L352.6,266.3 L353.2,266.3 L353.8,266.1 L354.3,265.7 L354.9,265.1 L355.4,264.3 L356.0,263.6 L356.6,262.9 L357.2,262.3 L357.8,261.7 L358.5,261.2 L359.1,260.8 L359.8,260.7 L360.5,260.8 L361.2,261.1 L361.9,261.6 L362.6,262.1 L363.2,262.7 L363.8,263.2 L364.4,263.8 L365.0,264.3 L365.6,264.8 L366.3,265.4 L367.0,265.8 L367.7,266.3 L368.4,266.7 L369.2,267.1 L369.9,267.6 L370.7,267.9 L371.5,268.3 L372.2,268.6 L373.0,268.8 L373.7,269.0 L374.5,269.1 L375.2,269.0 L376.0,268.8 L376.8,268.5 L377.5,268.2 L378.2,267.9 L378.8,267.6 L379.5,267.2 L380.2,266.8 L380.9,266.4 L381.7,265.9 L382.4,265.5 L383.2,265.1 L384.0,264.6 L384.7,264.2 L385.5,263.8 L386.2,263.4 L387.0,263.0 L387.8,262.6 L388.5,262.2 L389.3,261.7 L390.1,261.3 L390.9,261.0 L391.7,260.6 L392.4,260.3 L393.2,260.1 L393.9,260.0 L394.7,259.9 L395.4,260.0 L396.2,260.1 L397.0,260.4 L397.7,260.7 L398.5,261.1 L399.2,261.6 L399.9,262.0 L400.6,262.5 L401.3,262.9 L402.0,263.3 L402.7,263.7 L403.3,264.1 L404.0,264.5 L404.6,264.9 L405.3,265.3 L406.0,265.6 L406.8,265.9 L407.6,266.1 L408.5,266.3 L409.3,266.4 L410.0,266.5 L410.7,266.5 L411.4,266.5 L412.1,266.5 L412.8,266.5 L413.6,266.5 L414.4,266.5 L415.2,266.5 L416.0,266.4 L416.8,266.4 L417.7,266.3 L418.6,266.3 L419.5,266.2 L420.4,266.1 L421.3,266.1 L422.2,266.0 L423.2,265.9 L424.1,265.8 L425.0,265.7 L425.8,265.6 L426.6,265.5 L427.4,265.4 L428.2,265.3 L429.0,265.2 L429.9,265.1 L430.8,265.0 L431.7,264.8 L432.6,264.7 L433.5,264.6 L434.5,264.4 L435.4,264.3 L436.3,264.2 L437.3,264.0 L438.2,263.9 L439.1,263.7 L439.9,263.6 L440.8,263.4 L441.6,263.3 L442.4,263.2 L443.2,263.1 L443.9,262.9 L444.6,262.8 L445.3,262.7 L445.9,262.6 L446.5,262.5 L447.0,262.5 L447.4,262.4" fill="none" stroke="#5d5ba8" stroke-width="1.0" stroke-linejoin="round" stroke-linecap="round"/>
<path d="M262.0,317.6 L262.4,317.6 L262.9,317.6 L263.4,317.6 L263.9,317.6 L264.5,317.6 L265.1,317.6 L265.7,317.6 L266.3,317.6 L267.0,317.6 L267.7,317.6 L268.4,317.6 L269.2,317.6 L269.9,317.6 L270.7,317.6 L271.5,317.6 L272.4,317.6 L273.2,317.6 L274.1,317.6 L275.0,317.6 L275.9,317.6 L276.8,317.6 L277.7,317.5 L278.6,317.5 L279.6,317.5 L280.5,317.5 L281.5,317.5 L282.5,317.5 L283.4,317.5 L284.4,317.5 L285.4,317.5 L286.4,317.5 L287.3,317.5 L288.3,317.5 L289.3,317.5 L290.3,317.5 L291.2,317.5 L292.2,317.5 L293.2,317.5 L294.1,317.5 L295.0,317.5 L296.0,317.5 L296.9,317.5 L297.8,317.5 L298.7,317.5 L299.5,317.5 L300.4,317.5 L301.2,317.5 L302.1,317.5 L302.8,317.5 L303.6,317.4 L304.4,317.4 L305.1,317.4 L305.8,317.4 L306.5,317.4 L307.1,317.4 L307.8,317.4 L308.4,317.4 L309.1,317.4 L309.9,317.4 L310.9,317.4 L312.2,317.4 L313.6,317.4 L314.8,317.4 L315.9,317.5 L316.7,317.5 L317.3,317.5 L317.8,317.5 L318.2,317.5 L318.6,317.4 L318.9,317.3 L319.4,317.1 L320.0,316.9 L320.6,316.5 L321.3,316.0 L321.9,315.5 L322.6,314.9 L323.2,314.3 L323.7,313.7 L324.3,313.1 L324.8,312.5 L325.4,311.9 L326.0,311.4 L326.6,310.9 L327.3,310.6 L328.0,310.5 L328.7,310.5 L329.4,310.5 L330.1,310.5 L330.7,310.2 L331.3,309.8 L331.9,309.2 L332.5,308.6 L333.2,308.0 L333.8,307.3 L334.4,306.7 L335.0,306.0 L335.5,305.4 L336.1,304.9 L336.6,304.3 L337.2,303.7 L337.7,303.1 L338.2,302.5 L338.7,301.8 L339.1,301.0 L339.5,300.3 L339.8,299.6 L340.1,298.8 L340.4,298.0 L340.7,297.2 L340.9,296.4 L341.2,295.6 L341.5,294.7 L341.7,293.9 L342.0,293.1 L342.2,292.3 L342.5,291.5 L342.8,290.7 L343.0,289.9 L343.3,289.1 L343.7,288.2 L344.0,287.5 L344.3,286.7 L344.6,286.0 L344.9,285.3 L345.2,284.6 L345.6,283.9 L346.1,283.1 L346.6,282.4 L347.1,281.7 L347.6,281.2 L348.1,280.8 L348.6,280.7 L349.2,280.8 L349.7,281.3 L350.2,281.9 L350.7,282.6 L351.2,283.3 L351.6,284.1 L352.0,284.8 L352.5,285.6 L352.9,286.4 L353.4,287.1 L353.9,287.8 L354.5,288.4 L355.1,289.0 L355.7,289.5 L356.3,290.0 L357.0,290.5 L357.7,291.0 L358.4,291.4 L359.1,291.8 L359.9,292.1 L360.7,292.3 L361.5,292.4 L362.3,292.3 L363.1,292.2 L363.9,292.1 L364.8,291.9 L365.6,291.7 L366.5,291.4 L367.3,291.2 L368.2,291.0 L369.0,290.8 L369.8,290.6 L370.7,290.4 L371.5,290.2 L372.3,290.0 L373.1,289.9 L373.9,289.8 L374.7,289.7 L375.5,289.7 L376.3,289.8 L377.1,289.8 L377.9,289.9 L378.7,290.1 L379.5,290.2 L380.2,290.4 L380.9,290.7 L381.5,290.9 L382.1,291.2 L382.8,291.5 L383.6,291.8 L384.5,292.1 L385.4,292.4 L386.3,292.6 L387.0,292.7 L387.7,292.9 L388.4,293.0 L389.2,293.2 L389.9,293.3 L390.7,293.5 L391.5,293.7 L392.4,293.8 L393.3,294.0 L394.1,294.1 L395.0,294.3 L395.9,294.5 L396.8,294.6 L397.7,294.8 L398.6,294.9 L399.5,295.0 L400.4,295.1 L401.2,295.3 L402.1,295.3 L402.9,295.4 L403.7,295.5 L404.5,295.5 L405.2,295.6 L406.1,295.6 L406.9,295.5 L407.8,295.5 L408.7,295.4 L409.5,295.3 L410.3,295.2 L411.1,295.0 L411.9,294.8 L412.6,294.6 L413.4,294.4 L414.1,294.2 L414.8,294.0 L415.6,293.8 L416.3,293.6 L417.1,293.4 L417.8,293.2 L418.6,293.0 L419.4,292.8 L420.2,292.6 L420.9,292.4 L421.7,292.2 L422.5,291.9 L423.3,291.7 L424.0,291.5 L424.8,291.3 L425.6,291.0 L426.4,290.8 L427.2,290.6 L428.0,290.4 L428.8,290.2 L429.6,290.1 L430.4,289.9 L431.2,289.8 L432.1,289.7 L432.9,289.6 L433.7,289.6 L434.6,289.5 L435.5,289.5 L436.4,289.5 L437.3,289.5 L438.3,289.5 L439.2,289.5 L440.1,289.5 L441.0,289.5 L441.9,289.5 L442.8,289.6 L443.6,289.6 L444.4,289.6 L445.2,289.6 L445.8,289.7 L446.4,289.7 L447.0,289.7 L447.4,289.7" fill="none" stroke="#2a9bb4" stroke-width="1.0" stroke-linejoin="round" stroke-linecap="round"/>
<path d="M262.0,343.3 L262.4,343.3 L262.9,343.3 L263.4,343.3 L263.9,343.3 L264.5,343.3 L265.1,343.3 L265.7,343.3 L266.3,343.3 L267.0,343.3 L267.7,343.3 L268.4,343.3 L269.2,343.3 L269.9,343.3 L270.7,343.3 L271.5,343.3 L272.4,343.3 L273.2,343.3 L274.1,343.3 L275.0,343.3 L275.9,343.3 L276.8,343.3 L277.7,343.2 L278.6,343.2 L279.6,343.2 L280.5,343.2 L281.5,343.2 L282.5,343.2 L283.4,343.2 L284.4,343.2 L285.4,343.2 L286.4,343.2 L287.3,343.2 L288.3,343.2 L289.3,343.2 L290.3,343.2 L291.2,343.2 L292.2,343.2 L293.2,343.2 L294.1,343.2 L295.0,343.2 L296.0,343.2 L296.9,343.2 L297.8,343.2 L298.7,343.2 L299.5,343.2 L300.4,343.2 L301.2,343.2 L302.1,343.2 L302.8,343.2 L303.6,343.1 L304.4,343.1 L305.1,343.1 L305.8,343.1 L306.5,343.1 L307.1,343.1 L307.8,343.1 L308.4,343.1 L309.1,343.1 L309.9,343.1 L310.9,343.1 L312.2,343.1 L313.6,343.1 L314.8,343.2 L315.9,343.2 L316.7,343.2 L317.3,343.2 L317.8,343.2 L318.2,343.2 L318.6,343.1 L318.9,343.0 L319.4,342.8 L319.9,342.6 L320.6,342.2 L321.2,341.8 L321.9,341.2 L322.5,340.6 L323.1,340.0 L323.6,339.4 L324.2,338.7 L324.6,338.1 L325.1,337.4 L325.5,336.7 L325.9,335.9 L326.2,335.1 L326.5,334.4 L326.8,333.7 L327.1,333.4 L327.5,333.3 L328.0,333.5 L328.7,333.8 L329.4,334.0 L330.1,333.9 L330.8,333.6 L331.5,333.2 L332.2,332.7 L332.9,332.2 L333.6,331.6 L334.3,331.1 L335.0,330.6 L335.7,330.1 L336.3,329.6 L337.0,329.2 L337.6,328.7 L338.2,328.2 L338.7,327.5 L339.2,326.9 L339.6,326.2 L340.0,325.5 L340.3,324.7 L340.5,323.9 L340.8,323.1 L341.1,322.2 L341.3,321.4 L341.6,320.5 L341.8,319.7 L342.1,318.9 L342.4,318.1 L342.6,317.3 L342.9,316.5 L343.3,315.6 L343.6,314.8 L343.9,314.1 L344.3,313.3 L344.6,312.6 L345.0,311.9 L345.4,311.2 L345.8,310.5 L346.3,309.7 L346.8,309.0 L347.3,308.3 L347.9,307.8 L348.4,307.6 L348.9,307.6 L349.4,307.9 L349.9,308.5 L350.5,309.2 L351.0,309.9 L351.4,310.6 L351.9,311.3 L352.4,312.0 L352.9,312.7 L353.4,313.4 L353.9,314.0 L354.5,314.7 L355.1,315.3 L355.7,315.9 L356.3,316.4 L357.0,316.9 L357.7,317.4 L358.4,317.8 L359.1,318.2 L359.9,318.4 L360.7,318.5 L361.5,318.5 L362.3,318.4 L363.1,318.3 L363.9,318.0 L364.7,317.7 L365.5,317.4 L366.4,317.1 L367.2,316.8 L368.0,316.5 L368.8,316.2 L369.6,315.9 L370.4,315.5 L371.2,315.2 L372.0,314.9 L372.8,314.7 L373.6,314.5 L374.3,314.4 L375.1,314.4 L376.0,314.5 L376.8,314.6 L377.6,314.8 L378.4,315.0 L379.1,315.2 L379.9,315.5 L380.6,315.8 L381.3,316.1 L381.9,316.4 L382.6,316.7 L383.3,317.0 L384.0,317.3 L384.8,317.6 L385.7,317.9 L386.4,318.1 L387.2,318.3 L387.9,318.5 L388.6,318.7 L389.4,318.8 L390.2,319.0 L391.0,319.2 L391.8,319.3 L392.7,319.5 L393.5,319.6 L394.4,319.8 L395.2,319.9 L396.1,320.0 L396.9,320.1 L397.8,320.1 L398.6,320.2 L399.4,320.2 L400.2,320.1 L401.0,320.1 L401.7,320.0 L402.5,319.9 L403.3,319.8 L404.1,319.7 L404.8,319.5 L405.6,319.4 L406.4,319.2 L407.2,319.0 L408.0,318.9 L408.8,318.7 L409.6,318.5 L410.4,318.3 L411.2,318.2 L412.0,318.0 L412.8,317.9 L413.6,317.7 L414.3,317.5 L415.1,317.4 L415.8,317.2 L416.6,317.0 L417.3,316.9 L418.1,316.7 L418.9,316.5 L419.7,316.3 L420.5,316.2 L421.3,316.0 L422.1,315.9 L422.9,315.7 L423.8,315.6 L424.6,315.5 L425.5,315.4 L426.4,315.3 L427.2,315.2 L428.0,315.2 L428.8,315.2 L429.7,315.1 L430.5,315.1 L431.4,315.1 L432.2,315.2 L433.2,315.2 L434.1,315.2 L435.0,315.2 L436.0,315.3 L436.9,315.3 L437.8,315.4 L438.7,315.4 L439.7,315.5 L440.5,315.5 L441.4,315.6 L442.2,315.6 L443.0,315.7 L443.8,315.7 L444.5,315.7 L445.3,315.8 L445.9,315.8 L446.5,315.9 L447.0,315.9 L447.4,315.9" fill="none" stroke="#90cca9" stroke-width="1.0" stroke-linejoin="round" stroke-linecap="round"/>
<path d="M262.0,369.4 L262.4,369.4 L262.9,369.4 L263.4,369.4 L263.9,369.4 L264.5,369.4 L265.1,369.4 L265.7,369.4 L266.3,369.4 L267.0,369.4 L267.7,369.4 L268.4,369.4 L269.2,369.4 L269.9,369.4 L270.7,369.4 L271.5,369.4 L272.4,369.4 L273.2,369.4 L274.1,369.4 L275.0,369.4 L275.9,369.4 L276.8,369.4 L277.7,369.3 L278.6,369.3 L279.6,369.3 L280.5,369.3 L281.5,369.3 L282.5,369.3 L283.4,369.3 L284.4,369.3 L285.4,369.3 L286.4,369.3 L287.3,369.3 L288.3,369.3 L289.3,369.3 L290.3,369.3 L291.2,369.3 L292.2,369.3 L293.2,369.3 L294.1,369.3 L295.0,369.3 L296.0,369.3 L296.9,369.3 L297.8,369.3 L298.7,369.3 L299.5,369.3 L300.4,369.3 L301.2,369.3 L302.1,369.3 L302.8,369.3 L303.6,369.2 L304.4,369.2 L305.1,369.2 L305.8,369.2 L306.5,369.2 L307.1,369.2 L307.8,369.2 L308.4,369.2 L309.1,369.2 L309.9,369.2 L310.9,369.2 L312.2,369.2 L313.6,369.2 L314.8,369.2 L315.9,369.2 L316.7,369.3 L317.3,369.3 L317.8,369.3 L318.2,369.2 L318.6,369.2 L319.0,369.1 L319.4,368.9 L320.0,368.7 L320.6,368.3 L321.3,367.9 L322.0,367.4 L322.7,366.8 L323.3,366.3 L323.9,365.7 L324.5,365.1 L325.0,364.5 L325.6,363.9 L326.2,363.3 L326.8,362.7 L327.4,362.3 L328.0,362.2 L328.7,362.2 L329.4,362.3 L330.1,362.3 L330.7,362.0 L331.3,361.6 L331.9,361.1 L332.5,360.6 L333.2,359.9 L333.8,359.3 L334.4,358.7 L335.0,358.0 L335.5,357.4 L336.1,356.8 L336.6,356.1 L337.2,355.5 L337.7,354.8 L338.2,354.1 L338.7,353.4 L339.1,352.7 L339.6,352.0 L340.0,351.3 L340.4,350.6 L340.8,349.9 L341.1,349.1 L341.5,348.4 L341.8,347.6 L342.2,346.9 L342.6,346.2 L342.9,345.5 L343.3,344.7 L343.7,344.0 L344.1,343.3 L344.5,342.6 L344.9,341.9 L345.4,341.2 L345.9,340.6 L346.5,340.0 L347.1,339.4 L347.7,339.0 L348.3,338.7 L348.9,338.8 L349.5,339.0 L350.1,339.5 L350.7,340.1 L351.2,340.8 L351.7,341.4 L352.3,342.1 L352.8,342.7 L353.4,343.3 L354.0,343.9 L354.6,344.5 L355.3,345.0 L356.0,345.4 L356.7,345.8 L357.5,346.0 L358.2,346.2 L359.0,346.3 L359.7,346.2 L360.4,345.9 L361.1,345.4 L361.7,344.9 L362.4,344.3 L363.1,343.7 L363.8,343.3 L364.6,342.9 L365.4,342.7 L366.2,342.4 L367.0,342.2 L367.9,342.0 L368.7,341.8 L369.5,341.6 L370.3,341.4 L371.1,341.2 L371.9,341.0 L372.7,340.8 L373.5,340.6 L374.2,340.5 L374.9,340.5 L375.5,340.5 L376.1,340.5 L376.8,340.5 L377.6,340.7 L378.5,340.8 L379.5,341.0 L380.3,341.2 L381.1,341.3 L381.7,341.5 L382.4,341.6 L383.1,341.8 L383.8,342.0 L384.5,342.1 L385.3,342.3 L386.1,342.5 L386.9,342.7 L387.7,342.9 L388.6,343.2 L389.4,343.4 L390.3,343.6 L391.2,343.8 L392.1,344.0 L393.0,344.2 L393.8,344.4 L394.7,344.5 L395.6,344.7 L396.4,344.9 L397.3,345.0 L398.1,345.1 L398.9,345.3 L399.7,345.3 L400.5,345.4 L401.3,345.5 L402.1,345.5 L403.0,345.5 L403.8,345.5 L404.7,345.5 L405.5,345.4 L406.3,345.3 L407.1,345.3 L407.9,345.1 L408.7,345.0 L409.5,344.9 L410.3,344.8 L411.1,344.6 L411.9,344.5 L412.7,344.3 L413.5,344.2 L414.2,344.0 L415.0,343.9 L415.8,343.7 L416.6,343.6 L417.4,343.5 L418.2,343.4 L419.0,343.2 L419.8,343.1 L420.7,343.0 L421.5,342.9 L422.4,342.8 L423.2,342.7 L424.1,342.6 L424.9,342.4 L425.8,342.3 L426.6,342.2 L427.5,342.1 L428.3,342.0 L429.1,341.9 L430.0,341.8 L430.8,341.7 L431.6,341.6 L432.3,341.5 L433.1,341.4 L433.9,341.3 L434.6,341.2 L435.4,341.2 L436.2,341.1 L437.1,341.0 L438.1,341.0 L439.0,341.0 L440.0,341.0 L440.9,341.0 L441.9,341.0 L442.7,341.0 L443.6,341.0 L444.3,341.0 L445.1,341.0 L445.8,341.1 L446.4,341.1 L447.0,341.1 L447.4,341.1" fill="none" stroke="#f5a862" stroke-width="1.0" stroke-linejoin="round" stroke-linecap="round"/>
<path d="M262.0,394.5 L262.4,394.5 L262.9,394.5 L263.4,394.5 L263.9,394.5 L264.5,394.5 L265.1,394.5 L265.7,394.5 L266.3,394.5 L267.0,394.5 L267.7,394.5 L268.4,394.5 L269.2,394.5 L269.9,394.5 L270.7,394.5 L271.5,394.5 L272.4,394.5 L273.2,394.5 L274.1,394.5 L275.0,394.5 L275.9,394.5 L276.8,394.5 L277.7,394.4 L278.6,394.4 L279.6,394.4 L280.5,394.4 L281.5,394.4 L282.5,394.4 L283.4,394.4 L284.4,394.4 L285.4,394.4 L286.4,394.4 L287.3,394.4 L288.3,394.4 L289.3,394.4 L290.3,394.4 L291.2,394.4 L292.2,394.4 L293.2,394.4 L294.1,394.4 L295.0,394.4 L296.0,394.4 L296.9,394.4 L297.8,394.4 L298.7,394.4 L299.5,394.4 L300.4,394.4 L301.2,394.4 L302.1,394.4 L302.8,394.4 L303.6,394.3 L304.4,394.3 L305.1,394.3 L305.8,394.3 L306.5,394.3 L307.1,394.3 L307.8,394.3 L308.4,394.3 L309.1,394.3 L309.9,394.3 L310.9,394.3 L312.2,394.3 L313.6,394.3 L314.8,394.3 L315.9,394.4 L316.7,394.4 L317.3,394.4 L317.8,394.4 L318.2,394.4 L318.6,394.3 L318.9,394.2 L319.4,394.0 L320.0,393.8 L320.6,393.4 L321.3,393.0 L321.9,392.5 L322.6,391.9 L323.2,391.3 L323.7,390.7 L324.3,390.1 L324.8,389.5 L325.3,388.8 L325.8,388.2 L326.3,387.4 L326.7,386.6 L327.2,386.0 L327.6,385.5 L328.1,385.3 L328.6,385.4 L329.2,385.6 L329.8,385.7 L330.4,385.7 L331.0,385.4 L331.6,384.9 L332.2,384.4 L332.8,383.7 L333.5,383.1 L334.1,382.5 L334.7,381.8 L335.3,381.2 L335.9,380.6 L336.4,380.1 L337.0,379.5 L337.6,378.9 L338.1,378.2 L338.6,377.5 L339.1,376.8 L339.5,376.1 L339.8,375.4 L340.2,374.6 L340.5,373.9 L340.8,373.1 L341.0,372.3 L341.3,371.5 L341.6,370.7 L341.9,369.9 L342.2,369.1 L342.5,368.4 L342.8,367.6 L343.1,366.8 L343.5,366.0 L343.9,365.3 L344.4,364.5 L344.8,363.8 L345.2,363.2 L345.7,362.5 L346.2,361.9 L346.7,361.2 L347.3,360.6 L348.0,360.2 L348.6,359.9 L349.2,359.8 L349.8,360.1 L350.4,360.6 L350.9,361.2 L351.4,361.9 L351.9,362.6 L352.3,363.4 L352.7,364.1 L353.2,364.8 L353.7,365.4 L354.2,366.1 L354.8,366.6 L355.4,367.2 L356.0,367.8 L356.7,368.3 L357.3,368.8 L358.0,369.3 L358.6,369.7 L359.3,370.0 L360.1,370.1 L360.8,370.0 L361.5,369.9 L362.2,369.6 L363.0,369.3 L363.8,368.9 L364.6,368.6 L365.4,368.2 L366.2,367.9 L367.0,367.5 L367.8,367.2 L368.6,367.0 L369.5,366.7 L370.3,366.4 L371.1,366.2 L371.9,366.0 L372.8,365.8 L373.6,365.7 L374.4,365.5 L375.2,365.5 L376.0,365.5 L376.8,365.5 L377.6,365.6 L378.4,365.7 L379.2,365.8 L379.9,366.1 L380.6,366.3 L381.2,366.6 L381.8,366.9 L382.4,367.3 L383.1,367.7 L383.9,368.1 L384.8,368.4 L385.6,368.7 L386.4,368.9 L387.1,369.1 L387.8,369.2 L388.5,369.4 L389.2,369.6 L390.0,369.7 L390.8,369.9 L391.6,370.0 L392.4,370.2 L393.3,370.3 L394.1,370.5 L395.0,370.6 L395.9,370.7 L396.8,370.8 L397.7,370.9 L398.6,370.9 L399.4,371.0 L400.3,371.0 L401.1,371.0 L401.9,370.9 L402.7,370.9 L403.5,370.8 L404.3,370.7 L405.1,370.6 L405.9,370.4 L406.7,370.3 L407.6,370.1 L408.4,369.9 L409.2,369.7 L410.0,369.6 L410.9,369.4 L411.7,369.2 L412.5,369.0 L413.3,368.8 L414.1,368.6 L414.9,368.4 L415.7,368.3 L416.4,368.1 L417.2,368.0 L417.9,367.8 L418.7,367.7 L419.6,367.6 L420.4,367.5 L421.3,367.3 L422.1,367.2 L422.9,367.1 L423.7,367.1 L424.5,367.0 L425.3,366.9 L426.0,366.8 L426.8,366.8 L427.6,366.7 L428.4,366.7 L429.2,366.7 L430.0,366.6 L430.8,366.6 L431.6,366.6 L432.5,366.6 L433.3,366.6 L434.2,366.6 L435.0,366.6 L435.9,366.7 L436.9,366.7 L437.8,366.8 L438.7,366.8 L439.7,366.8 L440.6,366.9 L441.5,366.9 L442.3,367.0 L443.2,367.0 L444.0,367.1 L444.8,367.1 L445.5,367.2 L446.1,367.2 L446.7,367.3 L447.2,367.3 L447.4,367.3" fill="none" stroke="#e46c66" stroke-width="1.0" stroke-linejoin="round" stroke-linecap="round"/>
<path d="M262.0,420.7 L262.4,420.7 L262.9,420.7 L263.4,420.7 L263.9,420.7 L264.5,420.7 L265.1,420.7 L265.7,420.7 L266.3,420.7 L267.0,420.7 L267.7,420.7 L268.4,420.7 L269.2,420.7 L269.9,420.7 L270.7,420.7 L271.5,420.7 L272.4,420.7 L273.2,420.7 L274.1,420.7 L275.0,420.7 L275.9,420.7 L276.8,420.7 L277.7,420.7 L278.6,420.7 L279.6,420.6 L280.5,420.6 L281.5,420.6 L282.5,420.6 L283.4,420.6 L284.4,420.6 L285.4,420.6 L286.4,420.6 L287.3,420.6 L288.3,420.6 L289.3,420.6 L290.3,420.6 L291.2,420.6 L292.2,420.6 L293.2,420.6 L294.1,420.6 L295.0,420.6 L296.0,420.6 L296.9,420.6 L297.8,420.6 L298.7,420.6 L299.5,420.6 L300.4,420.6 L301.2,420.6 L302.1,420.6 L302.8,420.6 L303.6,420.6 L304.4,420.5 L305.1,420.5 L305.8,420.5 L306.5,420.5 L307.1,420.5 L307.8,420.5 L308.4,420.5 L309.1,420.5 L309.9,420.5 L310.9,420.5 L312.2,420.5 L313.6,420.5 L314.8,420.5 L315.9,420.5 L316.7,420.4 L317.3,420.4 L317.8,420.4 L318.2,420.4 L318.6,420.3 L319.0,420.2 L319.5,420.1 L320.1,419.9 L320.8,419.7 L321.6,419.5 L322.4,419.2 L323.1,418.8 L323.8,418.4 L324.5,417.9 L325.0,417.4 L325.6,416.8 L326.0,416.1 L326.4,415.3 L326.7,414.5 L327.0,413.6 L327.2,412.7 L327.5,411.9 L327.7,411.0 L328.0,410.3 L328.3,409.7 L328.6,409.3 L329.2,409.1 L329.8,409.1 L330.4,409.1 L331.1,408.9 L331.6,408.6 L332.2,408.0 L332.7,407.4 L333.3,406.7 L333.9,405.9 L334.4,405.2 L335.0,404.6 L335.5,403.9 L336.1,403.3 L336.6,402.7 L337.1,402.1 L337.6,401.5 L338.2,400.9 L338.7,400.3 L339.1,399.6 L339.6,399.0 L340.0,398.3 L340.4,397.6 L340.7,396.9 L341.1,396.1 L341.5,395.4 L341.8,394.7 L342.2,393.9 L342.5,393.2 L342.9,392.4 L343.3,391.6 L343.6,390.8 L344.0,390.0 L344.4,389.2 L344.7,388.5 L345.1,387.7 L345.5,387.0 L345.9,386.2 L346.4,385.5 L346.9,384.7 L347.5,384.0 L348.1,383.5 L348.7,383.1 L349.3,383.0 L349.9,383.1 L350.5,383.5 L351.1,384.1 L351.7,384.8 L352.2,385.5 L352.8,386.2 L353.3,386.9 L353.9,387.5 L354.5,388.2 L355.1,388.8 L355.7,389.4 L356.4,389.9 L357.0,390.5 L357.7,391.1 L358.3,391.6 L359.0,392.1 L359.7,392.4 L360.5,392.5 L361.2,392.5 L361.9,392.4 L362.7,392.1 L363.4,391.7 L364.2,391.4 L365.0,391.0 L365.8,390.6 L366.6,390.2 L367.4,389.9 L368.1,389.6 L368.9,389.3 L369.7,389.0 L370.5,388.8 L371.3,388.5 L372.1,388.3 L372.8,388.1 L373.6,388.0 L374.4,387.8 L375.2,387.8 L376.0,387.7 L376.8,387.7 L377.6,387.8 L378.4,387.9 L379.2,388.0 L379.9,388.3 L380.5,388.5 L381.1,388.8 L381.7,389.2 L382.3,389.6 L383.0,390.0 L383.8,390.4 L384.7,390.7 L385.5,391.0 L386.3,391.3 L387.1,391.5 L387.7,391.7 L388.4,391.8 L389.2,392.0 L389.9,392.2 L390.7,392.4 L391.5,392.5 L392.3,392.7 L393.2,392.9 L394.0,393.1 L394.9,393.2 L395.8,393.4 L396.6,393.5 L397.5,393.7 L398.4,393.8 L399.2,393.9 L400.1,394.0 L400.9,394.1 L401.7,394.2 L402.5,394.2 L403.4,394.3 L404.2,394.3 L405.0,394.3 L405.9,394.2 L406.8,394.2 L407.6,394.1 L408.5,394.0 L409.4,393.9 L410.2,393.8 L411.1,393.6 L411.9,393.5 L412.7,393.3 L413.5,393.2 L414.3,393.0 L415.1,392.8 L415.8,392.7 L416.6,392.5 L417.3,392.4 L418.0,392.2 L418.8,392.0 L419.5,391.8 L420.3,391.6 L421.0,391.3 L421.7,391.1 L422.4,390.8 L423.0,390.5 L423.7,390.3 L424.4,390.0 L425.3,389.8 L426.1,389.7 L427.0,389.6 L427.8,389.5 L428.6,389.4 L429.4,389.4 L430.1,389.4 L431.0,389.4 L431.8,389.4 L432.7,389.4 L433.6,389.4 L434.5,389.4 L435.5,389.5 L436.4,389.5 L437.4,389.5 L438.4,389.6 L439.3,389.6 L440.2,389.6 L441.1,389.7 L442.0,389.7 L442.9,389.7 L443.7,389.8 L444.4,389.8 L445.2,389.8 L445.8,389.9 L446.4,389.9 L447.0,389.9 L447.4,389.9" fill="none" stroke="#8b3058" stroke-width="1.0" stroke-linejoin="round" stroke-linecap="round"/>
<rect x="263.9" y="248.6" width="183.5" height="186.8" fill="none" stroke="#666" stroke-width="1.2"/>
<line x1="263.9" y1="435.4" x2="263.9" y2="437.9" stroke="#666" stroke-width="1" />
<line x1="294.48" y1="435.4" x2="294.48" y2="437.9" stroke="#666" stroke-width="1" />
<line x1="325.07" y1="435.4" x2="325.07" y2="437.9" stroke="#666" stroke-width="1" />
<line x1="355.65" y1="435.4" x2="355.65" y2="437.9" stroke="#666" stroke-width="1" />
<line x1="386.23" y1="435.4" x2="386.23" y2="437.9" stroke="#666" stroke-width="1" />
<line x1="416.82" y1="435.4" x2="416.82" y2="437.9" stroke="#666" stroke-width="1" />
<line x1="447.4" y1="435.4" x2="447.4" y2="437.9" stroke="#666" stroke-width="1" />
<line x1="279.19" y1="435.4" x2="279.19" y2="436.9" stroke="#666" stroke-width="1" />
<line x1="309.77" y1="435.4" x2="309.77" y2="436.9" stroke="#666" stroke-width="1" />
<line x1="340.36" y1="435.4" x2="340.36" y2="436.9" stroke="#666" stroke-width="1" />
<line x1="370.94" y1="435.4" x2="370.94" y2="436.9" stroke="#666" stroke-width="1" />
<line x1="401.52" y1="435.4" x2="401.52" y2="436.9" stroke="#666" stroke-width="1" />
<line x1="432.11" y1="435.4" x2="432.11" y2="436.9" stroke="#666" stroke-width="1" />
<text x="263.9" y="445.2" font-size="7.9" text-anchor="middle" fill="#231f20" >8940</text>
<text x="294.48" y="445.2" font-size="7.9" text-anchor="middle" fill="#231f20" >8960</text>
<text x="325.07" y="445.2" font-size="7.9" text-anchor="middle" fill="#231f20" >8980</text>
<text x="355.65" y="445.2" font-size="7.9" text-anchor="middle" fill="#231f20" >9000</text>
<text x="386.23" y="445.2" font-size="7.9" text-anchor="middle" fill="#231f20" >9020</text>
<text x="416.82" y="445.2" font-size="7.9" text-anchor="middle" fill="#231f20" >9040</text>
<text x="447.4" y="445.2" font-size="7.9" text-anchor="middle" fill="#231f20" >9060</text>
<text x="355.7" y="457.2" font-size="8" text-anchor="middle" fill="#231f20" >Energy (eV)</text>
<text x="0" y="0" font-size="8" text-anchor="middle" fill="#231f20" transform="translate(250.6 342) rotate(-90)" >Normalized Intensity (a.u.)</text>
<text x="440.8" y="275.8" font-size="8.2" text-anchor="end" fill="#231f20" >Cu Foil</text>
<text x="440.8" y="304.1" font-size="8.2" text-anchor="end" fill="#231f20" >Cu<tspan dy="1.6" font-size="5.4">2</tspan><tspan dy="-1.6">O</tspan>-348 K</text>
<text x="440.8" y="331.2" font-size="8.2" text-anchor="end" fill="#231f20" >Cu<tspan dy="1.6" font-size="5.4">2</tspan><tspan dy="-1.6">O</tspan>-348 K-3 V</text>
<text x="440.8" y="357.9" font-size="8.2" text-anchor="end" fill="#231f20" >Cu<tspan dy="1.6" font-size="5.4">2</tspan><tspan dy="-1.6">O</tspan>-298 K-3 V</text>
<text x="440.8" y="382.2" font-size="8.2" text-anchor="end" fill="#231f20" >Cu<tspan dy="1.6" font-size="5.4">2</tspan><tspan dy="-1.6">O</tspan>-298 K-OCP</text>
<text x="440.8" y="402.9" font-size="8.2" text-anchor="end" fill="#231f20" >Cu<tspan dy="1.6" font-size="5.4">2</tspan><tspan dy="-1.6">O</tspan></text>
<path d="M499.4,292.5 L499.8,292.5 L500.4,292.5 L501.0,292.4 L501.6,292.4 L502.4,292.4 L503.2,292.3 L504.0,292.3 L504.9,292.3 L505.8,292.2 L506.7,292.2 L507.6,292.1 L508.5,292.1 L509.4,292.1 L510.3,292.0 L511.2,292.0 L512.1,291.9 L513.0,291.9 L513.8,291.9 L514.7,291.8 L515.5,291.8 L516.4,291.7 L517.2,291.7 L518.1,291.6 L519.0,291.6 L519.8,291.5 L520.7,291.4 L521.5,291.4 L522.3,291.3 L523.1,291.3 L523.9,291.3 L524.7,291.2 L525.5,291.2 L526.2,291.2 L527.0,291.2 L527.8,291.2 L528.6,291.3 L529.5,291.4 L530.4,291.5 L531.2,291.6 L532.1,291.8 L532.9,292.0 L533.7,292.1 L534.5,292.2 L535.2,292.3 L536.0,292.4 L536.8,292.4 L537.6,292.4 L538.4,292.3 L539.2,292.1 L540.0,291.9 L540.8,291.7 L541.6,291.4 L542.4,291.1 L543.2,290.8 L543.9,290.6 L544.6,290.4 L545.4,290.3 L546.2,290.3 L547.0,290.5 L547.8,290.7 L548.6,291.0 L549.4,291.1 L550.1,291.1 L550.7,290.9 L551.3,290.6 L551.8,290.2 L552.3,289.7 L552.8,289.1 L553.3,288.4 L553.8,287.8 L554.3,287.0 L554.8,286.3 L555.2,285.5 L555.7,284.7 L556.1,284.0 L556.5,283.3 L556.8,282.5 L557.2,281.8 L557.5,281.1 L557.8,280.3 L558.2,279.5 L558.5,278.7 L558.8,277.9 L559.2,277.1 L559.5,276.3 L559.8,275.5 L560.2,274.8 L560.5,274.1 L560.9,273.4 L561.2,272.7 L561.7,272.0 L562.2,271.2 L562.7,270.5 L563.3,269.7 L563.9,269.0 L564.4,268.4 L565.0,268.0 L565.6,267.6 L566.2,267.4 L566.8,267.4 L567.4,267.5 L568.0,267.7 L568.6,268.0 L569.2,268.4 L569.8,268.9 L570.4,269.5 L571.0,270.2 L571.6,270.9 L572.2,271.6 L572.7,272.4 L573.3,273.1 L573.7,273.8 L574.1,274.5 L574.5,275.2 L574.9,275.9 L575.3,276.7 L575.7,277.4 L576.1,278.2 L576.4,279.0 L576.8,279.8 L577.2,280.7 L577.6,281.5 L578.0,282.3 L578.3,283.0 L578.7,283.8 L579.0,284.5 L579.4,285.2 L579.7,285.9 L580.1,286.7 L580.6,287.5 L581.1,288.3 L581.5,289.1 L582.0,289.9 L582.4,290.6 L582.9,291.2 L583.3,291.7 L583.9,292.1 L584.5,292.3 L585.1,292.4 L585.9,292.3 L586.7,292.1 L587.5,291.8 L588.3,291.5 L589.1,291.2 L589.9,290.9 L590.7,290.7 L591.4,290.5 L592.1,290.3 L592.9,290.2 L593.6,290.0 L594.5,289.9 L595.3,289.8 L596.1,289.7 L596.8,289.6 L597.5,289.5 L598.2,289.5 L599.0,289.4 L599.7,289.4 L600.5,289.3 L601.3,289.2 L602.1,289.2 L603.0,289.1 L603.9,289.0 L604.8,288.9 L605.7,288.7 L606.6,288.6 L607.4,288.5 L608.2,288.3 L608.9,288.2 L609.7,288.1 L610.5,287.9 L611.3,287.7 L612.1,287.5 L612.9,287.4 L613.8,287.2 L614.6,287.0 L615.5,286.8 L616.4,286.6 L617.2,286.4 L618.1,286.3 L618.9,286.1 L619.7,285.9 L620.5,285.8 L621.3,285.7 L622.1,285.5 L622.8,285.5 L623.6,285.4 L624.4,285.3 L625.2,285.3 L626.1,285.3 L627.0,285.4 L627.8,285.5 L628.6,285.6 L629.3,285.7 L630.1,285.9 L630.8,286.1 L631.6,286.2 L632.3,286.4 L633.1,286.5 L633.9,286.6 L634.7,286.7 L635.5,286.8 L636.3,286.8 L637.1,286.8 L637.9,286.8 L638.7,286.8 L639.5,286.8 L640.4,286.7 L641.2,286.7 L642.1,286.7 L642.9,286.6 L643.8,286.6 L644.6,286.6 L645.4,286.6 L646.2,286.7 L647.0,286.7 L647.8,286.8 L648.7,286.9 L649.5,287.1 L650.3,287.3 L651.1,287.5 L651.9,287.8 L652.7,288.0 L653.5,288.3 L654.3,288.6 L655.1,288.9 L655.8,289.2 L656.6,289.5 L657.3,289.7 L658.0,290.0 L658.8,290.2 L659.5,290.4 L660.3,290.6 L661.1,290.8 L661.8,291.0 L662.5,291.1 L663.2,291.3 L663.9,291.4 L664.7,291.5 L665.5,291.6 L666.3,291.7 L667.2,291.7 L668.0,291.8 L668.8,291.8 L669.6,291.8 L670.5,291.8 L671.3,291.8 L672.2,291.8 L673.1,291.7 L674.1,291.7 L675.0,291.6 L675.9,291.6 L676.9,291.5 L677.8,291.5 L678.6,291.4 L679.5,291.4 L680.3,291.3 L681.0,291.3 L681.7,291.3 L682.3,291.2 L682.8,291.2 L683.0,291.2" fill="none" stroke="#5d5ba8" stroke-width="1.0" stroke-linejoin="round" stroke-linecap="round"/>
<path d="M499.4,321.3 L499.9,321.0 L500.6,320.6 L501.3,320.1 L502.2,319.8 L503.1,319.8 L504.0,319.7 L504.8,319.9 L505.5,320.1 L506.3,320.4 L507.1,320.7 L508.0,321.0 L508.8,321.3 L509.5,321.4 L510.3,321.5 L511.1,321.3 L511.9,321.0 L512.7,320.6 L513.4,320.2 L514.2,319.8 L514.9,319.5 L515.7,319.4 L516.5,319.4 L517.2,319.6 L518.0,319.9 L518.7,320.2 L519.5,320.5 L520.2,320.6 L521.0,320.6 L521.7,320.3 L522.4,320.0 L523.0,319.5 L523.7,318.9 L524.4,318.3 L525.1,317.7 L525.8,317.2 L526.4,316.7 L527.1,316.3 L527.9,316.1 L528.6,316.1 L529.4,316.2 L530.2,316.5 L531.0,316.8 L531.8,316.9 L532.5,316.8 L533.1,316.6 L533.6,316.2 L534.1,315.7 L534.5,315.0 L534.8,314.4 L535.2,313.6 L535.6,312.9 L536.0,312.0 L536.4,311.2 L536.8,310.4 L537.2,309.6 L537.6,308.8 L538.0,308.1 L538.5,307.4 L538.9,306.7 L539.4,305.9 L540.0,305.1 L540.5,304.3 L541.1,303.6 L541.7,302.9 L542.3,302.2 L542.8,301.7 L543.4,301.2 L543.9,301.0 L544.4,300.8 L544.9,300.9 L545.4,301.1 L545.8,301.5 L546.2,302.0 L546.7,302.6 L547.1,303.4 L547.5,304.2 L547.9,305.1 L548.3,305.9 L548.8,306.8 L549.2,307.7 L549.6,308.4 L550.1,309.2 L550.5,310.0 L550.9,310.7 L551.3,311.5 L551.7,312.4 L552.1,313.2 L552.6,314.0 L553.0,314.8 L553.4,315.6 L553.8,316.4 L554.3,317.1 L554.7,317.8 L555.1,318.3 L555.5,318.8 L556.0,319.2 L556.6,319.4 L557.2,319.4 L557.9,319.2 L558.6,318.7 L559.3,318.2 L560.0,317.7 L560.8,317.4 L561.5,317.1 L562.3,316.9 L563.1,316.7 L564.0,316.5 L564.8,316.3 L565.6,316.1 L566.4,315.9 L567.2,315.6 L567.9,315.3 L568.7,315.0 L569.4,314.7 L570.1,314.3 L570.8,313.9 L571.5,313.5 L572.3,313.2 L573.0,312.8 L573.8,312.4 L574.6,312.0 L575.4,311.7 L576.2,311.3 L577.0,310.9 L577.8,310.5 L578.6,310.2 L579.4,309.9 L580.1,309.6 L580.9,309.5 L581.6,309.4 L582.4,309.5 L583.2,309.6 L583.9,309.9 L584.6,310.2 L585.3,310.5 L586.0,310.9 L586.8,311.3 L587.5,311.7 L588.2,312.1 L589.0,312.4 L589.7,312.8 L590.3,313.1 L591.0,313.4 L591.6,313.7 L592.3,314.1 L593.1,314.4 L593.8,314.8 L594.5,315.2 L595.1,315.6 L595.8,316.0 L596.4,316.5 L597.1,317.0 L597.9,317.4 L598.6,317.9 L599.4,318.4 L600.1,318.8 L600.9,319.2 L601.7,319.5 L602.4,319.8 L603.2,320.0 L603.9,320.1 L604.7,320.1 L605.4,320.1 L606.2,319.9 L607.0,319.7 L607.8,319.5 L608.5,319.2 L609.3,318.9 L610.1,318.6 L610.9,318.4 L611.7,318.2 L612.5,318.1 L613.3,318.1 L614.0,318.1 L614.8,318.3 L615.6,318.4 L616.3,318.6 L617.1,318.9 L617.9,319.1 L618.7,319.4 L619.5,319.7 L620.3,319.9 L621.1,320.2 L621.8,320.4 L622.6,320.5 L623.4,320.7 L624.2,320.7 L625.0,320.7 L625.8,320.6 L626.5,320.5 L627.3,320.4 L628.1,320.2 L628.8,320.0 L629.6,319.8 L630.4,319.5 L631.2,319.3 L632.0,319.1 L632.8,318.9 L633.7,318.8 L634.6,318.7 L635.4,318.6 L636.1,318.6 L636.9,318.6 L637.7,318.6 L638.4,318.6 L639.2,318.6 L640.0,318.7 L640.8,318.7 L641.7,318.8 L642.5,318.8 L643.3,318.9 L644.2,319.0 L645.0,319.0 L645.8,319.1 L646.7,319.2 L647.5,319.3 L648.3,319.3 L649.2,319.4 L650.0,319.5 L650.8,319.5 L651.6,319.6 L652.4,319.7 L653.2,319.7 L654.0,319.8 L654.7,319.9 L655.5,320.0 L656.3,320.1 L657.1,320.2 L657.9,320.2 L658.7,320.3 L659.5,320.4 L660.2,320.5 L661.1,320.5 L661.9,320.6 L662.7,320.7 L663.5,320.7 L664.3,320.7 L665.2,320.8 L666.0,320.8 L666.8,320.8 L667.7,320.8 L668.5,320.8 L669.4,320.8 L670.3,320.8 L671.3,320.7 L672.2,320.7 L673.1,320.7 L674.1,320.6 L675.0,320.6 L675.9,320.5 L676.8,320.5 L677.7,320.5 L678.5,320.4 L679.3,320.4 L680.0,320.3 L680.8,320.3 L681.5,320.3 L682.0,320.2 L682.6,320.2 L683.0,320.2" fill="none" stroke="#2a9bb4" stroke-width="1.0" stroke-linejoin="round" stroke-linecap="round"/>
<path d="M499.4,345.9 L499.8,345.9 L500.4,345.8 L501.0,345.8 L501.7,345.8 L502.5,345.7 L503.2,345.7 L504.1,345.6 L504.9,345.5 L505.8,345.5 L506.7,345.4 L507.7,345.4 L508.6,345.3 L509.6,345.3 L510.5,345.2 L511.4,345.1 L512.4,345.1 L513.2,345.0 L514.1,345.0 L514.9,344.9 L515.7,344.9 L516.6,344.8 L517.4,344.8 L518.3,344.7 L519.3,344.7 L520.2,344.7 L521.1,344.7 L521.9,344.6 L522.8,344.6 L523.6,344.6 L524.3,344.6 L525.0,344.5 L525.7,344.5 L526.4,344.4 L527.1,344.3 L527.9,344.1 L528.7,343.8 L529.4,343.5 L530.2,343.2 L530.8,342.8 L531.5,342.3 L532.1,341.8 L532.7,341.3 L533.2,340.7 L533.8,340.1 L534.3,339.4 L534.8,338.7 L535.2,338.0 L535.7,337.3 L536.2,336.6 L536.7,336.0 L537.3,335.3 L537.9,334.6 L538.5,334.0 L539.2,333.3 L539.8,332.7 L540.5,332.2 L541.2,331.8 L541.9,331.5 L542.5,331.3 L543.1,331.4 L543.7,331.6 L544.3,332.0 L544.9,332.5 L545.4,333.2 L546.0,333.9 L546.6,334.6 L547.1,335.3 L547.7,336.1 L548.2,336.8 L548.7,337.6 L549.2,338.3 L549.7,339.2 L550.1,340.0 L550.6,340.8 L551.1,341.6 L551.6,342.3 L552.0,343.0 L552.5,343.4 L553.0,343.8 L553.4,343.9 L553.9,343.8 L554.4,343.5 L554.9,343.1 L555.4,342.4 L555.8,341.7 L556.3,340.8 L556.8,340.0 L557.3,339.2 L557.8,338.4 L558.3,337.7 L558.8,337.0 L559.3,336.3 L559.8,335.6 L560.3,334.9 L560.9,334.3 L561.4,333.6 L562.0,333.1 L562.5,332.5 L563.1,332.0 L563.8,331.5 L564.5,331.0 L565.2,330.7 L566.0,330.4 L566.7,330.2 L567.5,330.1 L568.2,330.1 L568.9,330.3 L569.6,330.5 L570.3,330.7 L571.0,331.0 L571.8,331.4 L572.5,331.7 L573.3,332.1 L574.1,332.5 L574.9,332.9 L575.6,333.3 L576.2,333.6 L576.9,334.0 L577.6,334.4 L578.2,334.7 L578.9,335.1 L579.6,335.5 L580.4,335.9 L581.1,336.3 L581.8,336.7 L582.6,337.1 L583.4,337.5 L584.2,337.9 L584.9,338.3 L585.6,338.6 L586.3,338.9 L587.1,339.3 L587.8,339.6 L588.5,339.9 L589.2,340.3 L589.9,340.6 L590.7,340.9 L591.4,341.3 L592.2,341.6 L593.0,341.9 L593.7,342.2 L594.5,342.5 L595.3,342.8 L596.1,343.1 L596.9,343.3 L597.7,343.6 L598.5,343.8 L599.2,344.0 L600.0,344.2 L600.8,344.4 L601.6,344.5 L602.4,344.7 L603.1,344.9 L603.9,345.0 L604.8,345.2 L605.6,345.3 L606.4,345.4 L607.2,345.5 L608.0,345.6 L608.8,345.7 L609.6,345.8 L610.5,345.8 L611.3,345.9 L612.1,345.9 L612.9,345.9 L613.7,345.9 L614.5,345.8 L615.2,345.7 L616.0,345.6 L616.8,345.5 L617.5,345.4 L618.3,345.2 L619.0,345.1 L619.8,344.9 L620.5,344.7 L621.3,344.5 L622.1,344.3 L622.9,344.2 L623.7,344.0 L624.6,343.8 L625.4,343.7 L626.3,343.6 L627.2,343.5 L628.0,343.4 L628.9,343.3 L629.6,343.3 L630.4,343.2 L631.1,343.2 L631.9,343.2 L632.6,343.2 L633.4,343.2 L634.2,343.2 L635.0,343.2 L635.8,343.2 L636.6,343.2 L637.4,343.2 L638.3,343.2 L639.1,343.2 L639.9,343.3 L640.8,343.3 L641.6,343.3 L642.5,343.3 L643.3,343.4 L644.2,343.4 L645.0,343.4 L645.9,343.5 L646.7,343.5 L647.5,343.6 L648.4,343.6 L649.2,343.6 L650.0,343.7 L650.8,343.7 L651.6,343.8 L652.5,343.8 L653.3,343.9 L654.2,344.0 L655.0,344.0 L655.9,344.1 L656.7,344.2 L657.6,344.3 L658.5,344.3 L659.3,344.4 L660.2,344.5 L661.1,344.6 L661.9,344.7 L662.8,344.8 L663.6,344.8 L664.4,344.9 L665.2,345.0 L666.0,345.1 L666.8,345.1 L667.6,345.2 L668.4,345.3 L669.1,345.3 L669.8,345.4 L670.5,345.4 L671.2,345.5 L672.0,345.5 L672.9,345.5 L673.9,345.5 L674.9,345.5 L675.9,345.5 L676.9,345.4 L677.8,345.3 L678.6,345.3 L679.4,345.2 L680.2,345.1 L680.9,345.0 L681.5,345.0 L682.1,344.9 L682.6,344.8 L683.0,344.8" fill="none" stroke="#90cca9" stroke-width="1.0" stroke-linejoin="round" stroke-linecap="round"/>
<path d="M499.4,371.0 L499.9,371.0 L500.4,370.9 L501.0,370.9 L501.7,370.9 L502.6,370.8 L503.4,370.8 L504.3,370.7 L505.2,370.7 L506.1,370.6 L507.0,370.6 L508.0,370.5 L508.9,370.5 L509.8,370.4 L510.7,370.4 L511.6,370.4 L512.4,370.3 L513.2,370.3 L514.0,370.3 L514.8,370.4 L515.7,370.4 L516.6,370.5 L517.5,370.6 L518.3,370.8 L519.0,370.9 L519.7,371.0 L520.4,371.1 L521.1,371.0 L521.8,371.0 L522.5,370.8 L523.3,370.5 L524.0,370.2 L524.7,369.8 L525.5,369.4 L526.2,369.0 L526.9,368.5 L527.6,368.0 L528.3,367.6 L529.0,367.2 L529.7,366.8 L530.4,366.4 L531.2,366.1 L532.0,365.8 L532.8,365.5 L533.5,365.3 L534.2,364.9 L534.9,364.5 L535.5,364.1 L536.1,363.6 L536.6,363.0 L537.1,362.4 L537.6,361.7 L538.2,361.0 L538.7,360.4 L539.2,359.7 L539.7,359.0 L540.2,358.3 L540.8,357.5 L541.3,356.7 L541.9,356.0 L542.5,355.2 L543.0,354.6 L543.6,354.2 L544.1,353.9 L544.7,353.8 L545.2,353.9 L545.6,354.2 L546.1,354.7 L546.6,355.2 L547.0,355.9 L547.5,356.7 L548.0,357.5 L548.5,358.4 L549.0,359.2 L549.4,360.0 L549.9,360.8 L550.3,361.6 L550.7,362.4 L551.2,363.3 L551.6,364.2 L552.0,365.1 L552.5,366.0 L552.9,366.9 L553.4,367.7 L553.8,368.4 L554.3,368.9 L554.7,369.3 L555.2,369.6 L555.6,369.6 L556.0,369.5 L556.4,369.2 L556.8,368.7 L557.2,368.1 L557.6,367.4 L557.9,366.6 L558.3,365.7 L558.7,364.8 L559.1,363.8 L559.5,362.9 L559.9,362.0 L560.3,361.2 L560.7,360.4 L561.2,359.6 L561.7,358.9 L562.3,358.3 L562.9,357.7 L563.6,357.2 L564.3,356.7 L565.0,356.3 L565.7,356.0 L566.5,355.7 L567.2,355.5 L568.0,355.4 L568.8,355.4 L569.6,355.4 L570.4,355.5 L571.2,355.6 L572.0,355.8 L572.8,356.1 L573.6,356.3 L574.4,356.5 L575.3,356.7 L576.1,356.9 L577.0,357.0 L577.9,357.2 L578.7,357.4 L579.6,357.5 L580.4,357.6 L581.2,357.7 L582.0,357.7 L582.7,357.7 L583.5,357.8 L584.3,357.9 L585.0,358.1 L585.6,358.5 L586.3,358.9 L586.9,359.5 L587.5,360.0 L588.1,360.6 L588.8,361.3 L589.5,361.9 L590.2,362.5 L590.8,363.2 L591.5,363.7 L592.2,364.3 L592.8,364.8 L593.5,365.3 L594.2,365.7 L595.0,366.1 L595.8,366.4 L596.5,366.7 L597.3,366.9 L598.1,367.1 L598.8,367.3 L599.5,367.5 L600.3,367.8 L601.0,368.1 L601.7,368.5 L602.5,368.9 L603.2,369.4 L603.9,369.8 L604.6,370.2 L605.4,370.5 L606.1,370.7 L606.8,370.8 L607.6,370.8 L608.3,370.6 L609.1,370.4 L609.9,370.1 L610.6,369.7 L611.4,369.4 L612.2,369.2 L612.9,369.0 L613.7,369.0 L614.5,369.0 L615.3,369.2 L616.1,369.4 L616.9,369.7 L617.7,369.9 L618.5,370.1 L619.4,370.2 L620.2,370.1 L620.9,370.0 L621.7,369.8 L622.4,369.6 L623.1,369.3 L623.9,369.0 L624.7,368.7 L625.5,368.4 L626.3,368.2 L627.2,368.0 L628.0,367.8 L628.9,367.8 L629.7,367.8 L630.5,367.8 L631.3,367.9 L632.1,368.0 L632.9,368.1 L633.8,368.3 L634.7,368.4 L635.5,368.6 L636.4,368.8 L637.3,368.9 L638.1,369.1 L638.9,369.2 L639.7,369.3 L640.5,369.3 L641.3,369.3 L642.1,369.3 L643.0,369.2 L643.8,369.0 L644.6,368.8 L645.4,368.5 L646.1,368.2 L646.9,368.0 L647.6,367.7 L648.4,367.5 L649.1,367.4 L649.9,367.3 L650.7,367.3 L651.4,367.4 L652.1,367.5 L652.7,367.6 L653.4,367.8 L654.0,368.0 L654.7,368.2 L655.4,368.5 L656.2,368.7 L657.0,369.0 L657.8,369.2 L658.8,369.4 L659.7,369.6 L660.6,369.8 L661.5,369.9 L662.3,370.0 L663.0,370.1 L663.8,370.1 L664.6,370.2 L665.4,370.2 L666.3,370.3 L667.2,370.3 L668.1,370.4 L669.0,370.4 L670.0,370.5 L670.9,370.5 L671.9,370.6 L672.8,370.6 L673.8,370.7 L674.7,370.7 L675.6,370.7 L676.5,370.8 L677.4,370.8 L678.2,370.8 L679.0,370.8 L679.7,370.9 L680.5,370.9 L681.2,370.9 L681.8,370.9 L682.3,371.0 L682.8,371.0 L683.0,371.0" fill="none" stroke="#f5a862" stroke-width="1.0" stroke-linejoin="round" stroke-linecap="round"/>
<path d="M499.4,393.8 L499.9,393.7 L500.6,393.6 L501.5,393.4 L502.4,393.2 L503.3,393.0 L504.2,392.9 L505.1,392.8 L505.9,392.9 L506.7,392.9 L507.5,393.1 L508.3,393.3 L509.1,393.5 L509.8,393.6 L510.6,393.6 L511.5,393.5 L512.3,393.3 L513.1,393.1 L514.0,392.8 L514.8,392.6 L515.6,392.4 L516.4,392.3 L517.2,392.4 L518.0,392.6 L518.7,392.9 L519.4,393.1 L520.2,393.2 L520.9,393.2 L521.6,393.0 L522.2,392.6 L522.9,392.1 L523.5,391.6 L524.2,391.0 L524.9,390.4 L525.6,389.7 L526.3,389.1 L526.9,388.6 L527.6,388.1 L528.3,387.7 L529.0,387.5 L529.8,387.4 L530.6,387.5 L531.5,387.8 L532.3,388.0 L533.0,388.2 L533.7,388.2 L534.4,388.0 L535.0,387.7 L535.5,387.2 L536.0,386.6 L536.5,385.9 L537.0,385.2 L537.5,384.4 L538.0,383.7 L538.6,383.0 L539.1,382.2 L539.6,381.5 L540.2,380.8 L540.8,380.0 L541.3,379.3 L541.9,378.6 L542.5,377.9 L543.1,377.4 L543.6,377.0 L544.2,376.7 L544.7,376.7 L545.1,376.8 L545.6,377.1 L546.0,377.6 L546.4,378.2 L546.8,378.9 L547.3,379.6 L547.7,380.5 L548.1,381.4 L548.5,382.2 L549.0,383.1 L549.4,383.9 L549.9,384.6 L550.3,385.3 L550.8,386.0 L551.2,386.8 L551.7,387.6 L552.1,388.3 L552.6,389.1 L553.1,389.9 L553.6,390.6 L554.1,391.4 L554.5,392.0 L555.0,392.6 L555.5,393.2 L555.9,393.7 L556.5,394.0 L557.1,394.3 L557.7,394.3 L558.4,394.2 L559.2,393.9 L559.9,393.5 L560.7,393.2 L561.4,392.9 L562.2,392.8 L563.0,392.8 L563.8,392.8 L564.6,392.9 L565.5,392.9 L566.3,393.0 L567.1,392.9 L567.9,392.9 L568.7,392.7 L569.4,392.4 L570.0,392.0 L570.6,391.6 L571.1,391.1 L571.7,390.5 L572.2,389.9 L572.7,389.2 L573.3,388.6 L573.9,388.0 L574.5,387.4 L575.1,386.8 L575.7,386.2 L576.4,385.7 L577.1,385.1 L577.8,384.5 L578.5,383.9 L579.2,383.4 L579.9,382.9 L580.5,382.4 L581.1,382.1 L581.7,381.7 L582.4,381.6 L583.0,381.6 L583.7,381.8 L584.3,382.3 L585.0,382.8 L585.6,383.4 L586.2,383.9 L586.7,384.4 L587.3,384.9 L587.9,385.5 L588.6,386.1 L589.2,386.7 L589.9,387.3 L590.6,387.9 L591.3,388.5 L592.0,389.1 L592.7,389.7 L593.4,390.2 L594.0,390.8 L594.7,391.2 L595.4,391.7 L596.1,392.2 L596.8,392.6 L597.6,393.0 L598.4,393.4 L599.2,393.7 L600.0,394.0 L600.8,394.3 L601.5,394.5 L602.3,394.6 L603.1,394.7 L603.8,394.8 L604.6,394.8 L605.4,394.8 L606.1,394.6 L606.9,394.4 L607.7,394.2 L608.4,393.9 L609.2,393.6 L610.0,393.4 L610.8,393.1 L611.6,392.9 L612.4,392.8 L613.2,392.8 L614.0,392.9 L614.7,393.0 L615.5,393.2 L616.3,393.5 L617.0,393.7 L617.8,394.1 L618.6,394.4 L619.4,394.7 L620.2,395.0 L621.0,395.3 L621.8,395.5 L622.6,395.7 L623.4,395.8 L624.2,395.9 L624.9,395.9 L625.7,395.8 L626.4,395.7 L627.2,395.5 L627.9,395.3 L628.6,395.1 L629.4,394.8 L630.1,394.6 L630.9,394.3 L631.7,394.1 L632.5,393.9 L633.3,393.7 L634.2,393.6 L635.0,393.5 L635.7,393.4 L636.4,393.4 L637.1,393.4 L637.7,393.4 L638.4,393.4 L639.0,393.4 L639.7,393.5 L640.4,393.5 L641.1,393.6 L641.8,393.6 L642.6,393.7 L643.4,393.8 L644.2,393.9 L645.1,393.9 L646.0,394.0 L647.0,394.1 L648.1,394.2 L649.1,394.2 L650.0,394.3 L650.9,394.3 L651.7,394.4 L652.4,394.4 L653.1,394.4 L653.9,394.5 L654.6,394.5 L655.4,394.5 L656.3,394.6 L657.1,394.6 L658.0,394.6 L658.9,394.7 L659.8,394.7 L660.7,394.7 L661.7,394.8 L662.6,394.8 L663.6,394.8 L664.5,394.9 L665.5,394.9 L666.5,395.0 L667.4,395.0 L668.4,395.0 L669.3,395.1 L670.3,395.1 L671.2,395.1 L672.1,395.2 L673.0,395.2 L673.9,395.2 L674.7,395.3 L675.6,395.3 L676.4,395.3 L677.2,395.4 L678.0,395.4 L678.7,395.4 L679.4,395.5 L680.0,395.5 L680.7,395.5 L681.3,395.5 L681.8,395.6 L682.3,395.6 L682.8,395.6 L683.0,395.6" fill="none" stroke="#e46c66" stroke-width="1.0" stroke-linejoin="round" stroke-linecap="round"/>
<path d="M499.4,421.1 L499.8,421.1 L500.4,421.1 L501.0,421.1 L501.7,421.1 L502.5,421.2 L503.3,421.2 L504.1,421.2 L505.0,421.2 L505.9,421.3 L506.8,421.3 L507.7,421.3 L508.7,421.3 L509.6,421.3 L510.6,421.3 L511.5,421.3 L512.4,421.3 L513.3,421.3 L514.2,421.3 L515.0,421.2 L515.8,421.2 L516.6,421.1 L517.4,420.9 L518.3,420.8 L519.3,420.5 L520.2,420.3 L521.0,420.0 L521.8,419.7 L522.6,419.3 L523.3,419.0 L524.0,418.7 L524.7,418.5 L525.4,418.2 L526.1,418.0 L526.8,417.9 L527.6,417.9 L528.5,418.0 L529.3,418.2 L530.0,418.3 L530.8,418.3 L531.5,418.2 L532.1,417.9 L532.7,417.5 L533.3,417.0 L533.8,416.5 L534.3,415.9 L534.9,415.2 L535.4,414.5 L535.9,413.8 L536.5,413.0 L537.0,412.3 L537.6,411.6 L538.1,410.9 L538.6,410.2 L539.1,409.4 L539.7,408.7 L540.2,407.9 L540.7,407.1 L541.2,406.3 L541.8,405.5 L542.3,404.8 L542.8,404.1 L543.3,403.6 L543.8,403.2 L544.2,402.9 L544.7,402.9 L545.2,403.0 L545.6,403.2 L546.0,403.7 L546.5,404.3 L546.9,405.0 L547.3,405.7 L547.7,406.6 L548.1,407.5 L548.6,408.4 L549.0,409.2 L549.4,410.1 L549.8,410.8 L550.2,411.6 L550.6,412.4 L551.1,413.2 L551.5,414.0 L551.9,414.8 L552.3,415.7 L552.7,416.5 L553.1,417.3 L553.5,418.1 L554.0,418.8 L554.3,419.4 L554.7,420.0 L555.1,420.4 L555.6,420.7 L556.1,420.8 L556.7,420.6 L557.2,420.2 L557.8,419.5 L558.4,418.9 L559.1,418.4 L559.7,418.2 L560.5,418.2 L561.2,418.4 L562.0,418.7 L562.8,419.1 L563.6,419.5 L564.4,419.9 L565.2,420.2 L565.9,420.4 L566.7,420.5 L567.4,420.4 L568.0,420.1 L568.6,419.7 L569.0,419.2 L569.5,418.6 L569.9,418.0 L570.3,417.3 L570.8,416.5 L571.3,415.8 L571.7,415.0 L572.2,414.2 L572.7,413.5 L573.2,412.8 L573.7,412.1 L574.2,411.3 L574.7,410.6 L575.2,409.8 L575.8,409.1 L576.3,408.3 L576.9,407.6 L577.4,406.9 L578.0,406.3 L578.5,405.8 L579.0,405.4 L579.5,405.1 L580.1,405.0 L580.6,405.1 L581.2,405.4 L581.7,405.9 L582.3,406.5 L582.8,407.2 L583.4,408.0 L583.9,408.8 L584.5,409.5 L585.1,410.1 L585.7,410.7 L586.4,411.3 L587.1,411.8 L587.9,412.2 L588.6,412.6 L589.3,412.9 L590.1,413.1 L590.8,413.2 L591.6,413.2 L592.4,413.0 L593.1,412.8 L593.9,412.6 L594.7,412.5 L595.4,412.5 L596.2,412.7 L596.8,413.0 L597.5,413.5 L598.1,414.1 L598.8,414.7 L599.4,415.3 L600.0,415.8 L600.7,416.2 L601.4,416.4 L602.1,416.4 L602.8,416.2 L603.6,415.8 L604.4,415.5 L605.2,415.1 L605.9,414.9 L606.7,414.8 L607.5,414.9 L608.2,415.2 L608.9,415.5 L609.6,416.0 L610.4,416.5 L611.1,416.9 L611.8,417.3 L612.6,417.5 L613.3,417.5 L614.0,417.4 L614.7,417.1 L615.3,416.7 L616.0,416.2 L616.7,415.6 L617.4,415.1 L618.1,414.6 L618.8,414.3 L619.5,414.2 L620.2,414.2 L620.9,414.4 L621.5,414.7 L622.2,415.1 L622.8,415.6 L623.5,416.2 L624.2,416.8 L624.9,417.3 L625.6,417.8 L626.4,418.3 L627.1,418.6 L627.9,418.9 L628.6,419.1 L629.4,419.2 L630.1,419.3 L630.9,419.3 L631.7,419.3 L632.5,419.3 L633.3,419.2 L634.2,419.2 L635.0,419.1 L635.9,419.0 L636.8,418.9 L637.6,418.9 L638.4,418.8 L639.2,418.7 L640.1,418.6 L640.9,418.4 L641.7,418.3 L642.6,418.1 L643.5,418.0 L644.4,417.9 L645.2,417.7 L646.1,417.6 L646.9,417.5 L647.7,417.4 L648.5,417.4 L649.3,417.4 L650.1,417.5 L650.9,417.6 L651.7,417.8 L652.5,418.1 L653.3,418.4 L654.1,418.8 L654.8,419.2 L655.5,419.7 L656.2,420.1 L656.9,420.4 L657.7,420.7 L658.4,420.9 L659.1,420.9 L659.8,420.9 L660.5,420.7 L661.2,420.5 L661.9,420.1 L662.6,419.8 L663.3,419.4 L664.0,419.0 L664.7,418.6 L665.5,418.3 L666.4,418.1 L667.2,417.9 L668.0,417.9 L668.8,417.9 L669.6,418.0 L670.5,418.1 L671.3,418.2 L672.2,418.4 L673.1,418.6 L674.1,418.8 L675.0,419.0 L675.9,419.2 L676.9,419.5 L677.8,419.7 L678.6,420.0 L679.5,420.2 L680.3,420.4 L681.0,420.6 L681.7,420.8 L682.3,420.9 L682.8,421.1 L683.0,421.1" fill="none" stroke="#8b3058" stroke-width="1.0" stroke-linejoin="round" stroke-linecap="round"/>
<line x1="545.6" y1="284.2" x2="545.6" y2="422.6" stroke="#767676" stroke-width="1.25" stroke-dasharray="2.6,1.8" />
<line x1="567.3" y1="264.2" x2="567.3" y2="422.6" stroke="#767676" stroke-width="1.25" stroke-dasharray="2.6,1.8" />
<rect x="498.9" y="248.6" width="183.6" height="186.9" fill="none" stroke="#666" stroke-width="1.2"/>
<line x1="498.9" y1="435.5" x2="498.9" y2="438" stroke="#666" stroke-width="1" />
<line x1="529.5" y1="435.5" x2="529.5" y2="438" stroke="#666" stroke-width="1" />
<line x1="560.1" y1="435.5" x2="560.1" y2="438" stroke="#666" stroke-width="1" />
<line x1="590.7" y1="435.5" x2="590.7" y2="438" stroke="#666" stroke-width="1" />
<line x1="621.3" y1="435.5" x2="621.3" y2="438" stroke="#666" stroke-width="1" />
<line x1="651.9" y1="435.5" x2="651.9" y2="438" stroke="#666" stroke-width="1" />
<line x1="682.5" y1="435.5" x2="682.5" y2="438" stroke="#666" stroke-width="1" />
<line x1="514.2" y1="435.5" x2="514.2" y2="437" stroke="#666" stroke-width="1" />
<line x1="544.8" y1="435.5" x2="544.8" y2="437" stroke="#666" stroke-width="1" />
<line x1="575.4" y1="435.5" x2="575.4" y2="437" stroke="#666" stroke-width="1" />
<line x1="606" y1="435.5" x2="606" y2="437" stroke="#666" stroke-width="1" />
<line x1="636.6" y1="435.5" x2="636.6" y2="437" stroke="#666" stroke-width="1" />
<line x1="667.2" y1="435.5" x2="667.2" y2="437" stroke="#666" stroke-width="1" />
<text x="498.9" y="445.2" font-size="7.9" text-anchor="middle" fill="#231f20" >0</text>
<text x="529.5" y="445.2" font-size="7.9" text-anchor="middle" fill="#231f20" >1</text>
<text x="560.1" y="445.2" font-size="7.9" text-anchor="middle" fill="#231f20" >2</text>
<text x="590.7" y="445.2" font-size="7.9" text-anchor="middle" fill="#231f20" >3</text>
<text x="621.3" y="445.2" font-size="7.9" text-anchor="middle" fill="#231f20" >4</text>
<text x="651.9" y="445.2" font-size="7.9" text-anchor="middle" fill="#231f20" >5</text>
<text x="682.5" y="445.2" font-size="7.9" text-anchor="middle" fill="#231f20" >6</text>
<text x="591" y="457.2" font-size="8" text-anchor="middle" fill="#231f20" >R (Å)</text>
<text x="0" y="0" font-size="8.8" text-anchor="middle" fill="#231f20" transform="translate(486.3 342) rotate(-90) scale(0.91 1)" >|FT k<tspan dy="-2.5" font-size="5.5">3</tspan><tspan dy="2.5">χ(k)| (Å</tspan><tspan dy="-2.5" font-size="5.5">−4</tspan><tspan dy="2.5">)</tspan></text>
<text x="512.9" y="278.5" font-size="8.2" text-anchor="start" fill="#231f20" >Cu<tspan dy="1.6" font-size="5.4">2</tspan><tspan dy="-1.6">O</tspan><tspan dy="1.8" font-size="5.6">Cu-O</tspan></text>
<text x="572.4" y="267.2" font-size="8.2" text-anchor="start" fill="#231f20" >Cu<tspan dy="1.8" font-size="5.6">Cu-Cu</tspan></text>
<text x="678.2" y="282.4" font-size="7.6" text-anchor="end" fill="#231f20" >Cu Foil</text>
<text x="678.2" y="310.7" font-size="7.6" text-anchor="end" fill="#231f20" >Cu<tspan dy="1.6" font-size="5.4">2</tspan><tspan dy="-1.6">O</tspan>-348 K</text>
<text x="678.2" y="336.2" font-size="7.6" text-anchor="end" fill="#231f20" >Cu<tspan dy="1.6" font-size="5.4">2</tspan><tspan dy="-1.6">O</tspan>-348 K-3 V</text>
<text x="678.2" y="359.8" font-size="7.6" text-anchor="end" fill="#231f20" >Cu<tspan dy="1.6" font-size="5.4">2</tspan><tspan dy="-1.6">O</tspan>-298 K-3 V</text>
<text x="678.2" y="385.9" font-size="7.6" text-anchor="end" fill="#231f20" >Cu<tspan dy="1.6" font-size="5.4">2</tspan><tspan dy="-1.6">O</tspan>-298 K-OCP</text>
<text x="678.2" y="412.1" font-size="7.6" text-anchor="end" fill="#231f20" >Cu<tspan dy="1.6" font-size="5.4">2</tspan><tspan dy="-1.6">O</tspan></text>
<defs><filter id="bl" x="-5%" y="-5%" width="110%" height="110%"><feGaussianBlur stdDeviation="0.7"/></filter><filter id="blk" x="-20%" y="-20%" width="140%" height="140%"><feGaussianBlur stdDeviation="1.6"/></filter><filter id="ct" x="0" y="0" width="100%" height="100%" color-interpolation-filters="sRGB"><feComponentTransfer><feFuncR type="linear" slope="1.18" intercept="-0.05"/><feFuncG type="linear" slope="1.18" intercept="-0.05"/><feFuncB type="linear" slope="1.18" intercept="-0.05"/></feComponentTransfer></filter><clipPath id="cd1"><rect x="17" y="248" width="96.5" height="47.5"/></clipPath><clipPath id="cd2"><rect x="17" y="295.5" width="96.5" height="47.5"/></clipPath><clipPath id="cd3"><rect x="17" y="343" width="96.5" height="47"/></clipPath><clipPath id="cd4"><rect x="17" y="390" width="96.5" height="47"/></clipPath><clipPath id="ce1"><rect x="143.6" y="248.2" width="70" height="47"/></clipPath><clipPath id="ce2"><rect x="143.6" y="295.2" width="70" height="47.2"/></clipPath><clipPath id="ce3"><rect x="143.6" y="342.4" width="70" height="46.8"/></clipPath><clipPath id="ce4"><rect x="143.6" y="389.2" width="70" height="47.4"/></clipPath></defs>
<g clip-path="url(#cd1)"><g filter="url(#ct)"><rect x="0" y="0" width="685" height="459" fill="#3c3c3c"/><g filter="url(#bl)"><ellipse cx="60.4" cy="274.9" rx="5.8" ry="6.0" fill="#828282"/><ellipse cx="74.2" cy="254.9" rx="4.8" ry="5.4" fill="#898989"/><ellipse cx="23.6" cy="261.2" rx="3.7" ry="4.1" fill="#909090"/><ellipse cx="18.3" cy="297.5" rx="5.9" ry="6.3" fill="#8a8a8a"/><ellipse cx="30.1" cy="245.8" rx="4.8" ry="4.4" fill="#727272"/><ellipse cx="38.8" cy="246.6" rx="4.7" ry="5.3" fill="#818181"/><ellipse cx="67.2" cy="279.3" rx="4.7" ry="4.8" fill="#8a8a8a"/><ellipse cx="42.5" cy="298.4" rx="6.0" ry="6.6" fill="#919191"/><ellipse cx="46.3" cy="257.3" rx="4.2" ry="4.7" fill="#727272"/><ellipse cx="55.0" cy="290.3" rx="4.5" ry="5.1" fill="#969696"/><ellipse cx="14.1" cy="256.2" rx="5.8" ry="6.9" fill="#828282"/><ellipse cx="54.7" cy="248.9" rx="5.1" ry="4.8" fill="#8f8f8f"/><ellipse cx="22.9" cy="262.8" rx="5.9" ry="5.3" fill="#8e8e8e"/><ellipse cx="39.3" cy="250.4" rx="3.6" ry="3.3" fill="#8f8f8f"/><ellipse cx="71.3" cy="268.9" rx="4.0" ry="3.6" fill="#8d8d8d"/><ellipse cx="80.0" cy="251.2" rx="4.6" ry="4.3" fill="#787878"/><ellipse cx="113.5" cy="288.0" rx="4.3" ry="3.9" fill="#939393"/><ellipse cx="54.4" cy="290.7" rx="5.1" ry="6.1" fill="#747474"/><ellipse cx="35.9" cy="258.8" rx="5.4" ry="5.2" fill="#7d7d7d"/><ellipse cx="21.5" cy="249.8" rx="5.0" ry="5.3" fill="#797979"/><ellipse cx="52.1" cy="269.2" rx="5.9" ry="6.2" fill="#838383"/><ellipse cx="102.8" cy="254.8" rx="3.9" ry="4.4" fill="#949494"/><ellipse cx="39.6" cy="255.2" rx="5.3" ry="4.9" fill="#959595"/><ellipse cx="111.4" cy="292.2" rx="5.0" ry="4.4" fill="#808080"/><ellipse cx="18.0" cy="296.5" rx="4.1" ry="3.9" fill="#8c8c8c"/><ellipse cx="98.4" cy="276.9" rx="4.2" ry="4.7" fill="#777777"/><ellipse cx="21.0" cy="257.2" rx="4.9" ry="5.2" fill="#929292"/><ellipse cx="42.7" cy="294.1" rx="4.0" ry="3.8" fill="#707070"/><ellipse cx="59.7" cy="248.2" rx="3.9" ry="4.1" fill="#7e7e7e"/><ellipse cx="27.5" cy="264.4" rx="5.7" ry="6.2" fill="#979797"/><ellipse cx="84.9" cy="276.3" rx="3.9" ry="3.3" fill="#717171"/><ellipse cx="107.3" cy="282.5" rx="5.9" ry="6.3" fill="#707070"/><ellipse cx="63.4" cy="284.1" rx="4.3" ry="3.8" fill="#979797"/><ellipse cx="70.0" cy="284.4" rx="5.8" ry="6.3" fill="#8d8d8d"/><ellipse cx="95.3" cy="294.0" rx="4.4" ry="5.1" fill="#8b8b8b"/><ellipse cx="103.3" cy="267.3" rx="5.5" ry="5.8" fill="#929292"/><ellipse cx="78.1" cy="265.5" rx="5.0" ry="4.4" fill="#888888"/><ellipse cx="79.5" cy="298.1" rx="5.7" ry="5.6" fill="#8d8d8d"/><ellipse cx="89.3" cy="276.1" rx="4.6" ry="4.0" fill="#919191"/><ellipse cx="90.9" cy="246.6" rx="5.0" ry="4.7" fill="#838383"/><ellipse cx="85.6" cy="271.6" rx="5.0" ry="4.7" fill="#949494"/><ellipse cx="15.2" cy="261.1" rx="5.2" ry="4.7" fill="#787878"/><ellipse cx="106.8" cy="280.3" rx="4.6" ry="4.4" fill="#939393"/><ellipse cx="82.3" cy="255.6" rx="4.6" ry="5.4" fill="#909090"/><ellipse cx="104.2" cy="265.6" rx="5.0" ry="4.5" fill="#7c7c7c"/><ellipse cx="64.9" cy="289.8" rx="5.6" ry="6.6" fill="#8c8c8c"/><ellipse cx="42.4" cy="254.0" rx="4.6" ry="4.3" fill="#7b7b7b"/><ellipse cx="56.4" cy="278.5" rx="4.7" ry="5.4" fill="#7c7c7c"/><ellipse cx="114.7" cy="269.2" rx="3.7" ry="4.3" fill="#717171"/><ellipse cx="18.3" cy="282.9" rx="4.9" ry="5.6" fill="#7c7c7c"/><ellipse cx="16.0" cy="252.3" rx="4.6" ry="5.3" fill="#707070"/><ellipse cx="38.3" cy="252.5" rx="3.6" ry="3.6" fill="#898989"/><ellipse cx="78.6" cy="280.0" rx="5.5" ry="6.0" fill="#969696"/><ellipse cx="34.4" cy="270.4" rx="3.9" ry="4.0" fill="#707070"/><ellipse cx="87.2" cy="254.6" rx="4.2" ry="4.6" fill="#7d7d7d"/><ellipse cx="67.3" cy="277.9" rx="5.4" ry="6.1" fill="#7f7f7f"/><ellipse cx="106.9" cy="249.7" rx="5.8" ry="5.2" fill="#8c8c8c"/><ellipse cx="60.5" cy="278.5" rx="5.8" ry="6.1" fill="#7f7f7f"/><ellipse cx="104.1" cy="287.6" rx="5.9" ry="6.3" fill="#828282"/><ellipse cx="35.0" cy="283.6" rx="5.5" ry="6.1" fill="#898989"/><ellipse cx="35.9" cy="293.1" rx="6.0" ry="6.2" fill="#979797"/><ellipse cx="95.1" cy="262.1" rx="5.8" ry="5.6" fill="#929292"/><ellipse cx="22.5" cy="268.6" rx="4.9" ry="5.0" fill="#8e8e8e"/><ellipse cx="16.9" cy="288.3" rx="3.7" ry="3.3" fill="#8f8f8f"/><ellipse cx="48.3" cy="287.2" rx="3.9" ry="4.0" fill="#757575"/><ellipse cx="88.2" cy="289.9" rx="5.2" ry="5.3" fill="#959595"/><ellipse cx="111.3" cy="249.6" rx="4.1" ry="3.9" fill="#858585"/><ellipse cx="88.7" cy="279.2" rx="4.8" ry="5.0" fill="#919191"/><ellipse cx="45.9" cy="265.4" rx="5.6" ry="5.2" fill="#949494"/><ellipse cx="101.2" cy="296.8" rx="4.8" ry="4.4" fill="#868686"/></g><g filter="url(#blk)" opacity="0.85"><ellipse cx="43" cy="276" rx="7" ry="7" fill="#383838" transform="rotate(0 43 276)"/><ellipse cx="49" cy="268" rx="5" ry="5" fill="#404040" transform="rotate(0 49 268)"/><ellipse cx="75.5" cy="255" rx="4" ry="4" fill="#353535" transform="rotate(0 75.5 255)"/><ellipse cx="89" cy="269.8" rx="4" ry="4" fill="#3a3a3a" transform="rotate(0 89 269.8)"/><ellipse cx="80" cy="281" rx="3.5" ry="3.5" fill="#3a3a3a" transform="rotate(0 80 281)"/><ellipse cx="60" cy="262" rx="4" ry="4" fill="#4a4a4a" transform="rotate(0 60 262)"/><ellipse cx="104" cy="284.5" rx="3" ry="3" fill="#4a4a4a" transform="rotate(0 104 284.5)"/></g><g filter="url(#bl)"><ellipse cx="22" cy="254" rx="5" ry="5" fill="#8a8a8a" transform="rotate(0 22 254)"/><ellipse cx="33" cy="252" rx="5" ry="5" fill="#8e8e8e" transform="rotate(0 33 252)"/><ellipse cx="45" cy="251" rx="5" ry="5" fill="#868686" transform="rotate(0 45 251)"/><ellipse cx="56" cy="253" rx="5" ry="5" fill="#8a8a8a" transform="rotate(0 56 253)"/><ellipse cx="66" cy="251" rx="4" ry="4" fill="#7e7e7e" transform="rotate(0 66 251)"/><ellipse cx="20.5" cy="264" rx="5" ry="5" fill="#8e8e8e" transform="rotate(0 20.5 264)"/><ellipse cx="35.4" cy="260.7" rx="5" ry="5" fill="#a0a0a0" transform="rotate(0 35.4 260.7)"/><ellipse cx="27.5" cy="270.3" rx="6.3" ry="6.3" fill="#b4b4b4" transform="rotate(0 27.5 270.3)"/><ellipse cx="22" cy="285" rx="5.5" ry="5.5" fill="#9a9a9a" transform="rotate(0 22 285)"/><ellipse cx="33" cy="290" rx="5" ry="5" fill="#a0a0a0" transform="rotate(0 33 290)"/><ellipse cx="52.4" cy="263" rx="4" ry="4" fill="#8a8a8a" transform="rotate(0 52.4 263)"/><ellipse cx="52.4" cy="278.8" rx="5.5" ry="5.5" fill="#a8a8a8" transform="rotate(0 52.4 278.8)"/><ellipse cx="48.4" cy="288" rx="5.5" ry="5.5" fill="#b0b0b0" transform="rotate(0 48.4 288)"/><ellipse cx="63.7" cy="270.9" rx="5" ry="5" fill="#9a9a9a" transform="rotate(0 63.7 270.9)"/><ellipse cx="60" cy="291" rx="4" ry="4" fill="#8a8a8a" transform="rotate(0 60 291)"/><ellipse cx="84" cy="262.4" rx="5.5" ry="7" fill="#a4a4a4" transform="rotate(0 84 262.4)"/><ellipse cx="97" cy="257.3" rx="5" ry="6" fill="#9e9e9e" transform="rotate(0 97 257.3)"/><ellipse cx="107.2" cy="254" rx="6" ry="6" fill="#a8a8a8" transform="rotate(0 107.2 254)"/><ellipse cx="65.3" cy="270.9" rx="5" ry="6" fill="#a0a0a0" transform="rotate(0 65.3 270.9)"/><ellipse cx="74.3" cy="284.5" rx="5.5" ry="5.5" fill="#9c9c9c" transform="rotate(0 74.3 284.5)"/><ellipse cx="81.1" cy="274.3" rx="5" ry="5" fill="#8e8e8e" transform="rotate(0 81.1 274.3)"/><ellipse cx="89" cy="282.2" rx="6" ry="6" fill="#9a9a9a" transform="rotate(0 89 282.2)"/><ellipse cx="94.7" cy="273.2" rx="5" ry="5" fill="#888" transform="rotate(0 94.7 273.2)"/><ellipse cx="107.2" cy="280" rx="6" ry="6" fill="#9a9a9a" transform="rotate(0 107.2 280)"/><ellipse cx="97" cy="290" rx="5" ry="5" fill="#8a8a8a" transform="rotate(0 97 290)"/><ellipse cx="67.5" cy="254" rx="4" ry="4" fill="#8a8a8a" transform="rotate(0 67.5 254)"/><ellipse cx="110.6" cy="265.3" rx="4" ry="4" fill="#8e8e8e" transform="rotate(0 110.6 265.3)"/><ellipse cx="70" cy="292" rx="4" ry="4" fill="#8a8a8a" transform="rotate(0 70 292)"/><ellipse cx="111" cy="292" rx="4" ry="4" fill="#888" transform="rotate(0 111 292)"/></g></g></g>
<g clip-path="url(#cd2)"><g filter="url(#ct)"><rect x="0" y="0" width="685" height="459" fill="#3a3a3a"/><g filter="url(#bl)"><ellipse cx="62.6" cy="327.7" rx="5.2" ry="4.4" fill="#6e6e6e"/><ellipse cx="52.4" cy="307.2" rx="5.5" ry="5.9" fill="#868686"/><ellipse cx="71.2" cy="327.9" rx="3.9" ry="3.5" fill="#7b7b7b"/><ellipse cx="106.9" cy="295.6" rx="5.5" ry="6.0" fill="#6b6b6b"/><ellipse cx="48.5" cy="314.1" rx="5.6" ry="4.9" fill="#686868"/><ellipse cx="107.8" cy="319.7" rx="3.7" ry="4.4" fill="#939393"/><ellipse cx="25.5" cy="315.1" rx="3.8" ry="4.1" fill="#757575"/><ellipse cx="30.8" cy="329.8" rx="3.6" ry="4.1" fill="#6f6f6f"/><ellipse cx="55.1" cy="314.9" rx="5.0" ry="4.9" fill="#7c7c7c"/><ellipse cx="17.1" cy="331.4" rx="5.9" ry="6.4" fill="#929292"/><ellipse cx="50.5" cy="311.9" rx="5.2" ry="4.6" fill="#858585"/><ellipse cx="38.1" cy="311.9" rx="4.8" ry="4.9" fill="#8b8b8b"/><ellipse cx="16.9" cy="336.5" rx="4.6" ry="4.2" fill="#7e7e7e"/><ellipse cx="57.8" cy="313.3" rx="5.4" ry="5.7" fill="#6c6c6c"/><ellipse cx="32.3" cy="329.7" rx="3.6" ry="3.5" fill="#747474"/><ellipse cx="79.3" cy="295.3" rx="4.6" ry="4.4" fill="#717171"/><ellipse cx="62.8" cy="343.8" rx="4.7" ry="4.3" fill="#929292"/><ellipse cx="108.7" cy="312.0" rx="4.0" ry="4.6" fill="#888888"/><ellipse cx="14.7" cy="306.9" rx="5.4" ry="5.1" fill="#777777"/><ellipse cx="14.9" cy="294.6" rx="5.0" ry="6.1" fill="#939393"/><ellipse cx="65.6" cy="293.8" rx="4.3" ry="4.9" fill="#8a8a8a"/><ellipse cx="79.5" cy="304.8" rx="4.8" ry="5.2" fill="#7d7d7d"/><ellipse cx="40.9" cy="343.1" rx="5.7" ry="5.5" fill="#6f6f6f"/><ellipse cx="103.5" cy="307.4" rx="5.9" ry="6.4" fill="#7e7e7e"/><ellipse cx="86.2" cy="304.0" rx="4.2" ry="4.6" fill="#737373"/><ellipse cx="85.1" cy="299.5" rx="5.7" ry="5.3" fill="#7a7a7a"/><ellipse cx="58.6" cy="344.9" rx="4.9" ry="5.7" fill="#838383"/><ellipse cx="112.6" cy="333.2" rx="4.5" ry="5.3" fill="#818181"/><ellipse cx="94.9" cy="323.5" rx="4.4" ry="4.8" fill="#787878"/><ellipse cx="71.7" cy="293.4" rx="5.3" ry="6.0" fill="#8f8f8f"/><ellipse cx="106.0" cy="341.2" rx="4.8" ry="4.8" fill="#8a8a8a"/><ellipse cx="24.1" cy="311.4" rx="4.3" ry="4.7" fill="#919191"/><ellipse cx="69.5" cy="325.8" rx="3.8" ry="4.2" fill="#7f7f7f"/><ellipse cx="54.4" cy="305.6" rx="4.5" ry="4.9" fill="#767676"/><ellipse cx="28.5" cy="297.3" rx="4.3" ry="4.8" fill="#868686"/><ellipse cx="81.6" cy="342.5" rx="4.4" ry="4.5" fill="#696969"/><ellipse cx="59.5" cy="302.1" rx="5.2" ry="4.8" fill="#777777"/><ellipse cx="47.6" cy="343.0" rx="3.5" ry="3.3" fill="#777777"/><ellipse cx="34.6" cy="315.6" rx="4.1" ry="4.2" fill="#909090"/><ellipse cx="85.6" cy="301.2" rx="4.7" ry="5.3" fill="#828282"/><ellipse cx="39.6" cy="317.1" rx="5.6" ry="5.2" fill="#8c8c8c"/><ellipse cx="69.1" cy="333.2" rx="4.5" ry="4.9" fill="#858585"/><ellipse cx="113.7" cy="322.1" rx="5.2" ry="5.8" fill="#777777"/><ellipse cx="47.0" cy="319.2" rx="4.4" ry="4.0" fill="#757575"/><ellipse cx="37.1" cy="321.6" rx="4.1" ry="4.7" fill="#6a6a6a"/><ellipse cx="43.3" cy="342.6" rx="5.0" ry="5.8" fill="#797979"/><ellipse cx="106.0" cy="309.7" rx="3.8" ry="4.4" fill="#848484"/><ellipse cx="76.4" cy="334.5" rx="4.5" ry="4.3" fill="#838383"/><ellipse cx="55.7" cy="312.8" rx="4.5" ry="5.1" fill="#797979"/><ellipse cx="31.4" cy="303.5" rx="4.1" ry="4.3" fill="#929292"/><ellipse cx="19.4" cy="337.2" rx="5.7" ry="5.5" fill="#8c8c8c"/><ellipse cx="89.3" cy="308.8" rx="3.8" ry="4.4" fill="#8e8e8e"/><ellipse cx="35.6" cy="339.6" rx="3.6" ry="3.0" fill="#757575"/><ellipse cx="31.5" cy="301.2" rx="5.3" ry="4.8" fill="#757575"/><ellipse cx="32.9" cy="309.2" rx="5.7" ry="5.0" fill="#828282"/><ellipse cx="84.2" cy="321.2" rx="4.6" ry="5.0" fill="#7f7f7f"/><ellipse cx="96.1" cy="319.5" rx="5.1" ry="5.5" fill="#7c7c7c"/><ellipse cx="53.8" cy="314.7" rx="4.8" ry="4.5" fill="#878787"/><ellipse cx="108.8" cy="318.8" rx="5.6" ry="6.7" fill="#868686"/><ellipse cx="84.0" cy="315.3" rx="4.5" ry="5.0" fill="#828282"/><ellipse cx="100.0" cy="299.4" rx="3.7" ry="3.2" fill="#6c6c6c"/><ellipse cx="19.8" cy="292.9" rx="4.1" ry="4.5" fill="#6c6c6c"/><ellipse cx="77.1" cy="344.2" rx="5.9" ry="7.0" fill="#888888"/><ellipse cx="16.9" cy="304.7" rx="5.8" ry="5.4" fill="#7c7c7c"/><ellipse cx="91.6" cy="315.2" rx="4.9" ry="4.5" fill="#757575"/></g><g filter="url(#blk)" opacity="0.85"><ellipse cx="28.6" cy="311" rx="7" ry="7" fill="#383838" transform="rotate(0 28.6 311)"/><ellipse cx="47.8" cy="316.7" rx="5" ry="5" fill="#3a3a3a" transform="rotate(0 47.8 316.7)"/><ellipse cx="77.7" cy="320" rx="8" ry="8" fill="#383838" transform="rotate(0 77.7 320)"/><ellipse cx="88" cy="320" rx="4" ry="4" fill="#3a3a3a" transform="rotate(0 88 320)"/><ellipse cx="20" cy="318" rx="3" ry="3" fill="#444" transform="rotate(0 20 318)"/></g><g filter="url(#bl)"><ellipse cx="43.3" cy="300.2" rx="6" ry="6" fill="#b8b8b8" transform="rotate(0 43.3 300.2)"/><ellipse cx="36.5" cy="304.2" rx="6" ry="6" fill="#a4a4a4" transform="rotate(0 36.5 304.2)"/><ellipse cx="45.6" cy="305.3" rx="4" ry="4" fill="#a0a0a0" transform="rotate(0 45.6 305.3)"/><ellipse cx="21.8" cy="300.8" rx="4" ry="4" fill="#6a6a6a" transform="rotate(0 21.8 300.8)"/><ellipse cx="21.8" cy="326.8" rx="6" ry="6" fill="#9c9c9c" transform="rotate(0 21.8 326.8)"/><ellipse cx="35.4" cy="323.4" rx="6" ry="6" fill="#7c7c7c" transform="rotate(0 35.4 323.4)"/><ellipse cx="44.4" cy="334.8" rx="6.5" ry="6.5" fill="#aaaaaa" transform="rotate(0 44.4 334.8)"/><ellipse cx="35.4" cy="334.8" rx="5" ry="5" fill="#888" transform="rotate(0 35.4 334.8)"/><ellipse cx="21.8" cy="338.2" rx="4" ry="4" fill="#6a6a6a" transform="rotate(0 21.8 338.2)"/><ellipse cx="61.4" cy="317.8" rx="6" ry="6" fill="#a8a8a8" transform="rotate(0 61.4 317.8)"/><ellipse cx="61.4" cy="303" rx="6" ry="6" fill="#8e8e8e" transform="rotate(0 61.4 303)"/><ellipse cx="55.8" cy="321.2" rx="5" ry="5" fill="#7e7e7e" transform="rotate(0 55.8 321.2)"/><ellipse cx="59.2" cy="330.2" rx="5" ry="5" fill="#8e8e8e" transform="rotate(0 59.2 330.2)"/><ellipse cx="55.8" cy="338.2" rx="5" ry="5" fill="#8a8a8a" transform="rotate(0 55.8 338.2)"/><ellipse cx="72.1" cy="300.8" rx="6" ry="6" fill="#9a9a9a" transform="rotate(0 72.1 300.8)"/><ellipse cx="85.6" cy="298.5" rx="4" ry="4" fill="#8a8a8a" transform="rotate(0 85.6 298.5)"/><ellipse cx="87.9" cy="309.9" rx="6" ry="6" fill="#a0a0a0" transform="rotate(0 87.9 309.9)"/><ellipse cx="104.9" cy="300.8" rx="5" ry="5" fill="#8e8e8e" transform="rotate(0 104.9 300.8)"/><ellipse cx="106" cy="308.7" rx="6" ry="6" fill="#9a9a9a" transform="rotate(0 106 308.7)"/><ellipse cx="65.3" cy="316.7" rx="6" ry="6" fill="#a0a0a0" transform="rotate(0 65.3 316.7)"/><ellipse cx="68.7" cy="331.4" rx="6" ry="6" fill="#a0a0a0" transform="rotate(0 68.7 331.4)"/><ellipse cx="82.3" cy="330.2" rx="4.5" ry="4.5" fill="#7e7e7e" transform="rotate(0 82.3 330.2)"/><ellipse cx="95.8" cy="330.2" rx="6" ry="6" fill="#a4a4a4" transform="rotate(0 95.8 330.2)"/><ellipse cx="110.6" cy="334.8" rx="5" ry="5" fill="#9a9a9a" transform="rotate(0 110.6 334.8)"/><ellipse cx="91.3" cy="321.2" rx="4" ry="4" fill="#7a7a7a" transform="rotate(0 91.3 321.2)"/><ellipse cx="77.7" cy="337" rx="4" ry="4" fill="#6a6a6a" transform="rotate(0 77.7 337)"/><ellipse cx="104" cy="320" rx="4" ry="4" fill="#8a8a8a" transform="rotate(0 104 320)"/><ellipse cx="73" cy="342" rx="4" ry="4" fill="#8a8a8a" transform="rotate(0 73 342)"/></g></g></g>
<g clip-path="url(#cd3)"><g filter="url(#ct)"><rect x="0" y="0" width="685" height="459" fill="#484848"/><g filter="url(#bl)"><line x1="34.6" y1="386.3" x2="44.6" y2="367.9" stroke="#7b7b7b" stroke-width="6.5" stroke-linecap="round"/><line x1="20.8" y1="359.3" x2="34.5" y2="342.4" stroke="#7a7a7a" stroke-width="4.4" stroke-linecap="round"/><line x1="38.7" y1="373.3" x2="48.0" y2="351.9" stroke="#7d7d7d" stroke-width="5.8" stroke-linecap="round"/><line x1="19.1" y1="395.4" x2="36.1" y2="380.0" stroke="#939393" stroke-width="6.4" stroke-linecap="round"/><line x1="108.8" y1="388.8" x2="117.4" y2="377.7" stroke="#949494" stroke-width="6.5" stroke-linecap="round"/><line x1="67.8" y1="369.2" x2="76.3" y2="355.8" stroke="#757575" stroke-width="5.3" stroke-linecap="round"/><line x1="91.1" y1="393.4" x2="107.5" y2="373.6" stroke="#939393" stroke-width="6.1" stroke-linecap="round"/><line x1="22.2" y1="384.0" x2="30.5" y2="369.1" stroke="#898989" stroke-width="4.5" stroke-linecap="round"/><line x1="34.5" y1="373.0" x2="43.4" y2="355.4" stroke="#878787" stroke-width="5.2" stroke-linecap="round"/><line x1="34.3" y1="357.4" x2="39.9" y2="345.5" stroke="#8f8f8f" stroke-width="5.1" stroke-linecap="round"/><line x1="109.1" y1="370.0" x2="118.0" y2="350.4" stroke="#767676" stroke-width="6.8" stroke-linecap="round"/><line x1="92.0" y1="394.0" x2="103.7" y2="377.5" stroke="#999999" stroke-width="4.5" stroke-linecap="round"/><line x1="102.7" y1="389.3" x2="110.1" y2="378.3" stroke="#929292" stroke-width="6.6" stroke-linecap="round"/><line x1="21.8" y1="401.9" x2="31.4" y2="384.8" stroke="#8d8d8d" stroke-width="6.2" stroke-linecap="round"/><line x1="69.5" y1="378.3" x2="78.2" y2="365.1" stroke="#7e7e7e" stroke-width="6.2" stroke-linecap="round"/><line x1="27.0" y1="382.3" x2="32.0" y2="371.6" stroke="#8e8e8e" stroke-width="4.7" stroke-linecap="round"/><line x1="68.3" y1="373.4" x2="74.1" y2="364.5" stroke="#747474" stroke-width="5.3" stroke-linecap="round"/><line x1="9.2" y1="400.0" x2="15.4" y2="389.8" stroke="#8c8c8c" stroke-width="4.9" stroke-linecap="round"/><line x1="17.1" y1="372.1" x2="23.4" y2="357.5" stroke="#808080" stroke-width="6.5" stroke-linecap="round"/><line x1="58.6" y1="399.9" x2="71.1" y2="386.6" stroke="#7e7e7e" stroke-width="5.4" stroke-linecap="round"/><line x1="9.1" y1="377.1" x2="21.7" y2="356.0" stroke="#909090" stroke-width="6.2" stroke-linecap="round"/><line x1="97.5" y1="361.1" x2="107.3" y2="344.4" stroke="#7d7d7d" stroke-width="5.1" stroke-linecap="round"/><line x1="31.4" y1="362.8" x2="36.0" y2="353.2" stroke="#949494" stroke-width="5.2" stroke-linecap="round"/><line x1="69.1" y1="347.1" x2="82.7" y2="329.3" stroke="#8a8a8a" stroke-width="4.6" stroke-linecap="round"/><line x1="41.1" y1="360.1" x2="53.8" y2="348.9" stroke="#757575" stroke-width="4.4" stroke-linecap="round"/><line x1="96.7" y1="357.2" x2="102.7" y2="343.7" stroke="#767676" stroke-width="5.2" stroke-linecap="round"/><line x1="45.5" y1="374.1" x2="55.4" y2="352.2" stroke="#898989" stroke-width="7.0" stroke-linecap="round"/><line x1="21.0" y1="389.7" x2="30.6" y2="377.9" stroke="#767676" stroke-width="6.7" stroke-linecap="round"/><line x1="5.3" y1="361.6" x2="19.8" y2="342.7" stroke="#818181" stroke-width="4.4" stroke-linecap="round"/><line x1="44.2" y1="388.6" x2="53.3" y2="378.8" stroke="#9c9c9c" stroke-width="6.2" stroke-linecap="round"/><line x1="61.7" y1="396.8" x2="73.0" y2="384.1" stroke="#989898" stroke-width="5.7" stroke-linecap="round"/><line x1="103.1" y1="348.7" x2="112.1" y2="340.4" stroke="#898989" stroke-width="5.6" stroke-linecap="round"/><line x1="40.8" y1="399.5" x2="47.0" y2="386.1" stroke="#717171" stroke-width="4.3" stroke-linecap="round"/><line x1="80.9" y1="350.6" x2="98.0" y2="337.6" stroke="#969696" stroke-width="6.6" stroke-linecap="round"/><line x1="51.1" y1="383.4" x2="63.3" y2="363.5" stroke="#949494" stroke-width="6.1" stroke-linecap="round"/><line x1="17.0" y1="366.7" x2="30.3" y2="344.5" stroke="#959595" stroke-width="5.4" stroke-linecap="round"/><line x1="57.1" y1="342.6" x2="62.8" y2="333.8" stroke="#9c9c9c" stroke-width="4.8" stroke-linecap="round"/><line x1="28.9" y1="393.6" x2="47.8" y2="379.3" stroke="#949494" stroke-width="5.2" stroke-linecap="round"/><line x1="58.1" y1="359.6" x2="69.0" y2="346.2" stroke="#797979" stroke-width="6.7" stroke-linecap="round"/><line x1="49.3" y1="371.1" x2="54.7" y2="359.2" stroke="#979797" stroke-width="5.7" stroke-linecap="round"/><ellipse cx="24.9" cy="377.2" rx="4.3" ry="4.1" fill="#9e9e9e"/><ellipse cx="40.2" cy="378.9" rx="4.3" ry="4.7" fill="#898989"/><ellipse cx="54.7" cy="381.2" rx="3.2" ry="3.8" fill="#878787"/><ellipse cx="50.7" cy="353.8" rx="4.6" ry="4.2" fill="#949494"/><ellipse cx="70.5" cy="375.2" rx="3.3" ry="3.0" fill="#949494"/><ellipse cx="48.5" cy="344.4" rx="3.4" ry="3.4" fill="#9f9f9f"/><ellipse cx="115.5" cy="363.2" rx="4.2" ry="4.6" fill="#9b9b9b"/><ellipse cx="25.4" cy="371.2" rx="4.3" ry="3.8" fill="#858585"/><ellipse cx="103.7" cy="367.2" rx="3.4" ry="3.1" fill="#8e8e8e"/><ellipse cx="95.8" cy="366.5" rx="3.2" ry="2.8" fill="#9a9a9a"/><ellipse cx="42.8" cy="341.5" rx="4.5" ry="4.6" fill="#838383"/><ellipse cx="23.5" cy="365.5" rx="4.4" ry="4.4" fill="#919191"/><ellipse cx="63.7" cy="363.2" rx="4.2" ry="4.3" fill="#838383"/><ellipse cx="38.2" cy="385.9" rx="4.9" ry="4.4" fill="#828282"/><ellipse cx="86.1" cy="370.3" rx="3.0" ry="3.6" fill="#969696"/></g><g filter="url(#blk)" opacity="0.85"><ellipse cx="27.5" cy="358" rx="5" ry="5" fill="#3a3a3a" transform="rotate(0 27.5 358)"/><line x1="40" y1="383" x2="52" y2="368" stroke="#353535" stroke-width="3.5" stroke-linecap="round"/><line x1="52" y1="385" x2="64" y2="366" stroke="#3a3a3a" stroke-width="3" stroke-linecap="round"/><line x1="70" y1="378" x2="80" y2="358" stroke="#3a3a3a" stroke-width="3" stroke-linecap="round"/><line x1="92" y1="372" x2="113" y2="345" stroke="#3a3a3a" stroke-width="3" stroke-linecap="round"/><line x1="76" y1="348" x2="80" y2="358" stroke="#3a3a3a" stroke-width="2.5" stroke-linecap="round"/><ellipse cx="22" cy="378" rx="3" ry="3" fill="#4a4a4a" transform="rotate(0 22 378)"/><line x1="100" y1="390" x2="113" y2="370" stroke="#404040" stroke-width="2.5" stroke-linecap="round"/></g><g filter="url(#bl)"><ellipse cx="33.1" cy="348.9" rx="7" ry="5" fill="#b4b4b4" transform="rotate(-20 33.1 348.9)"/><ellipse cx="50.1" cy="347.8" rx="4" ry="5" fill="#a0a0a0" transform="rotate(0 50.1 347.8)"/><ellipse cx="19.5" cy="363.6" rx="4" ry="8" fill="#9a9a9a" transform="rotate(0 19.5 363.6)"/><ellipse cx="21.8" cy="382.9" rx="5" ry="7" fill="#a8a8a8" transform="rotate(0 21.8 382.9)"/><ellipse cx="32" cy="381.8" rx="4" ry="6" fill="#9a9a9a" transform="rotate(0 32 381.8)"/><ellipse cx="47.8" cy="370.4" rx="3.5" ry="5" fill="#8a8a8a" transform="rotate(0 47.8 370.4)"/><line x1="43.3" y1="389.7" x2="66" y2="363.6" stroke="#a8a8a8" stroke-width="8" stroke-linecap="round"/><line x1="30.9" y1="377.2" x2="49" y2="361.4" stroke="#868686" stroke-width="6" stroke-linecap="round"/><ellipse cx="41" cy="358" rx="5" ry="5" fill="#8a8a8a" transform="rotate(0 41 358)"/><ellipse cx="99.2" cy="350" rx="4.5" ry="6" fill="#b4b4b4" transform="rotate(0 99.2 350)"/><ellipse cx="92.4" cy="347.8" rx="4" ry="4" fill="#a4a4a4" transform="rotate(0 92.4 347.8)"/><line x1="65.3" y1="388.6" x2="80" y2="369.3" stroke="#a0a0a0" stroke-width="7" stroke-linecap="round"/><line x1="83.4" y1="375" x2="97" y2="354.6" stroke="#9a9a9a" stroke-width="7" stroke-linecap="round"/><line x1="63" y1="360.3" x2="83.4" y2="363.6" stroke="#8e8e8e" stroke-width="6" stroke-linecap="round"/><line x1="95" y1="388" x2="112" y2="366" stroke="#9a9a9a" stroke-width="6" stroke-linecap="round"/><ellipse cx="58" cy="352" rx="4" ry="4" fill="#909090" transform="rotate(0 58 352)"/><ellipse cx="108" cy="356" rx="4" ry="4" fill="#8e8e8e" transform="rotate(0 108 356)"/></g></g></g>
<g clip-path="url(#cd4)"><g filter="url(#ct)"><rect x="0" y="0" width="685" height="459" fill="#383838"/><g filter="url(#bl)"><ellipse cx="112.9" cy="387.6" rx="6.2" ry="7.4" fill="#757575"/><ellipse cx="15.7" cy="433.6" rx="6.0" ry="7.3" fill="#8b8b8b"/><ellipse cx="38.6" cy="404.9" rx="6.1" ry="5.8" fill="#787878"/><ellipse cx="37.4" cy="432.5" rx="6.6" ry="6.1" fill="#898989"/><ellipse cx="108.8" cy="414.1" rx="4.7" ry="4.7" fill="#7e7e7e"/><ellipse cx="22.1" cy="416.9" rx="5.1" ry="6.0" fill="#828282"/><ellipse cx="80.2" cy="408.5" rx="6.6" ry="6.7" fill="#8f8f8f"/><ellipse cx="110.9" cy="388.0" rx="4.4" ry="5.2" fill="#757575"/><ellipse cx="84.8" cy="425.1" rx="4.9" ry="5.6" fill="#7f7f7f"/><ellipse cx="24.2" cy="393.2" rx="4.1" ry="4.7" fill="#7e7e7e"/><ellipse cx="70.9" cy="408.3" rx="5.5" ry="6.5" fill="#757575"/><ellipse cx="50.3" cy="399.5" rx="4.9" ry="4.7" fill="#8a8a8a"/><ellipse cx="106.7" cy="404.8" rx="5.3" ry="6.2" fill="#727272"/><ellipse cx="95.6" cy="412.1" rx="4.3" ry="4.3" fill="#7f7f7f"/><ellipse cx="100.1" cy="436.2" rx="6.2" ry="5.4" fill="#797979"/><ellipse cx="105.6" cy="437.1" rx="4.5" ry="4.6" fill="#7f7f7f"/><ellipse cx="114.1" cy="389.3" rx="4.2" ry="4.4" fill="#8a8a8a"/><ellipse cx="61.4" cy="428.2" rx="5.8" ry="5.4" fill="#868686"/><ellipse cx="22.7" cy="387.5" rx="5.0" ry="4.9" fill="#848484"/><ellipse cx="49.6" cy="419.8" rx="6.1" ry="5.9" fill="#838383"/><ellipse cx="98.2" cy="429.4" rx="6.7" ry="5.7" fill="#8c8c8c"/><ellipse cx="82.6" cy="405.4" rx="5.2" ry="4.7" fill="#808080"/></g><g filter="url(#blk)" opacity="0.85"><ellipse cx="33" cy="410" rx="3" ry="7" fill="#2e2e2e" transform="rotate(0 33 410)"/><ellipse cx="46" cy="428" rx="4" ry="6" fill="#303030" transform="rotate(0 46 428)"/><ellipse cx="100" cy="424" rx="5" ry="5" fill="#323232" transform="rotate(0 100 424)"/><ellipse cx="109" cy="420" rx="4" ry="4" fill="#343434" transform="rotate(0 109 420)"/><ellipse cx="80" cy="399" rx="4" ry="4" fill="#333" transform="rotate(0 80 399)"/><ellipse cx="34.2" cy="408.4" rx="4" ry="4" fill="#363636" transform="rotate(0 34.2 408.4)"/><ellipse cx="45.6" cy="427.6" rx="4" ry="4" fill="#353535" transform="rotate(0 45.6 427.6)"/><ellipse cx="62.6" cy="419.7" rx="4" ry="4" fill="#343434" transform="rotate(0 62.6 419.7)"/><ellipse cx="78.9" cy="398.2" rx="4" ry="4" fill="#333" transform="rotate(0 78.9 398.2)"/><ellipse cx="64" cy="420.8" rx="3" ry="3" fill="#363636" transform="rotate(0 64 420.8)"/><ellipse cx="100.4" cy="422" rx="5" ry="5" fill="#383838" transform="rotate(0 100.4 422)"/><ellipse cx="86.8" cy="420.8" rx="3" ry="3" fill="#3a3a3a" transform="rotate(0 86.8 420.8)"/><ellipse cx="50" cy="395" rx="3" ry="3" fill="#3a3a3a" transform="rotate(0 50 395)"/></g><g filter="url(#bl)"><ellipse cx="27" cy="414" rx="9" ry="18" fill="#959595" transform="rotate(15 27 414)"/><ellipse cx="25" cy="398" rx="9" ry="6" fill="#9c9c9c" transform="rotate(0 25 398)"/><ellipse cx="42.2" cy="397" rx="6" ry="8" fill="#8e8e8e" transform="rotate(0 42.2 397)"/><ellipse cx="38.8" cy="414" rx="4.5" ry="4.5" fill="#b0b0b0" transform="rotate(0 38.8 414)"/><ellipse cx="41" cy="431" rx="5" ry="5" fill="#a8a8a8" transform="rotate(0 41 431)"/><ellipse cx="52.4" cy="423.1" rx="5.5" ry="5.5" fill="#b4b4b4" transform="rotate(0 52.4 423.1)"/><ellipse cx="56.9" cy="405" rx="8" ry="12" fill="#959595" transform="rotate(20 56.9 405)"/><ellipse cx="74.3" cy="393.7" rx="4.5" ry="4.5" fill="#b0b0b0" transform="rotate(0 74.3 393.7)"/><ellipse cx="89" cy="407.3" rx="9" ry="8" fill="#8e8e8e" transform="rotate(0 89 407.3)"/><ellipse cx="69.8" cy="409.5" rx="7" ry="8" fill="#8a8a8a" transform="rotate(0 69.8 409.5)"/><ellipse cx="72" cy="425.4" rx="9" ry="8" fill="#999" transform="rotate(0 72 425.4)"/><ellipse cx="82.3" cy="433.3" rx="4" ry="4" fill="#aaa" transform="rotate(0 82.3 433.3)"/><ellipse cx="93.6" cy="425.4" rx="4" ry="4" fill="#b0b0b0" transform="rotate(0 93.6 425.4)"/><ellipse cx="107.2" cy="433.3" rx="5" ry="5" fill="#a6a6a6" transform="rotate(0 107.2 433.3)"/><ellipse cx="111.7" cy="407.3" rx="5" ry="5" fill="#b4b4b4" transform="rotate(0 111.7 407.3)"/><ellipse cx="106" cy="394.8" rx="7" ry="4" fill="#8a8a8a" transform="rotate(0 106 394.8)"/></g></g></g>
<g clip-path="url(#ce1)"><g filter="url(#ct)"><rect x="0" y="0" width="685" height="459" fill="#666666"/><g filter="url(#bl)"></g><g filter="url(#blk)" opacity="0.85"><path d="M190,282 L213.6,276 L213.6,296 L186,296 Z" fill="#303030" stroke-linejoin="round"/><path d="M143.6,252 L148,252 L148,292 L143.6,292 Z" fill="#444" stroke-linejoin="round"/></g><g filter="url(#bl)"><path d="M143,252 L166,247 L178,268 L150,276 Z" fill="#7a7a7a" stroke-linejoin="round"/><path d="M174,250 L200,246 L212,266 L194.2,270 Z" fill="#7c7c7c" stroke-linejoin="round"/><path d="M145,276.6 L178.4,274.6 L182,296 L145,296 Z" fill="#848484" stroke-linejoin="round"/><line x1="148" y1="276.8" x2="178" y2="275" stroke="#9a9a9a" stroke-width="1.2" stroke-linecap="round"/><path d="M165,271.5 L184.6,255.6 L199.9,275.4 L181.8,291.3 Z" fill="#878787" stroke-linejoin="round"/><line x1="165.2" y1="271.3" x2="184.6" y2="255.8" stroke="#b4b4b4" stroke-width="1.4" stroke-linecap="round"/><line x1="165.2" y1="271.7" x2="181.8" y2="291" stroke="#a8a8a8" stroke-width="1" stroke-linecap="round"/></g></g></g>
<g clip-path="url(#ce2)"><g filter="url(#ct)"><rect x="0" y="0" width="685" height="459" fill="#666666"/><g filter="url(#bl)"></g><g filter="url(#blk)" opacity="0.85"><ellipse cx="165" cy="335" rx="6" ry="6" fill="#3e3e3e" transform="rotate(0 165 335)"/><ellipse cx="150" cy="340" rx="5" ry="5" fill="#4a4a4a" transform="rotate(0 150 340)"/></g><g filter="url(#bl)"><path d="M143.6,296 L158,296 L156,318 L143.6,322 Z" fill="#6a6a6a" stroke-linejoin="round"/><path d="M195,300 L213.6,298 L213.6,338 L198,338 Z" fill="#6a6a6a" stroke-linejoin="round"/><path d="M150,295.5 L175,295.5 L175,299.8 L152,299.8 Z" fill="#8a8a8a" stroke-linejoin="round"/><ellipse cx="172.7" cy="328.1" rx="3" ry="3" fill="#8a8a8a" transform="rotate(0 172.7 328.1)"/><path d="M162,300.4 L188.6,302 L183.5,325.8 L158,321.3 Z" fill="#aaaaaa" stroke-linejoin="round"/><line x1="188" y1="302.5" x2="183.5" y2="325" stroke="#c8c8c8" stroke-width="1.4" stroke-linecap="round"/><line x1="158.3" y1="321" x2="183.3" y2="325.6" stroke="#bdbdbd" stroke-width="1" stroke-linecap="round"/></g></g></g>
<g clip-path="url(#ce3)"><g filter="url(#ct)"><rect x="0" y="0" width="685" height="459" fill="#626262"/><g filter="url(#bl)"></g><g filter="url(#blk)" opacity="0.85"></g><g filter="url(#bl)"><path d="M153.5,372.8 L178.4,372 L179,390 L153.5,390 Z" fill="#7a7a7a" stroke-linejoin="round"/><line x1="154" y1="373" x2="178" y2="372.3" stroke="#9a9a9a" stroke-width="1" stroke-linecap="round"/><path d="M154.6,354.7 L153.5,350.8 L171.6,343.4 L178.4,360.4 L162,368.3 Z" fill="#9a9a9a" stroke="#c4c4c4" stroke-width="0.8" stroke-linejoin="round"/><path d="M171.6,351.9 L192,344.5 L202.7,361 L182.3,370.6 Z" fill="#a0a0a0" stroke="#cccccc" stroke-width="0.8" stroke-linejoin="round"/></g></g></g>
<g clip-path="url(#ce4)"><g filter="url(#ct)"><rect x="0" y="0" width="685" height="459" fill="#5e5e5e"/><g filter="url(#bl)"></g><g filter="url(#blk)" opacity="0.85"><ellipse cx="204.4" cy="401.7" rx="4" ry="4" fill="#363636" transform="rotate(0 204.4 401.7)"/><ellipse cx="194.2" cy="432.3" rx="4" ry="4" fill="#3a3a3a" transform="rotate(0 194.2 432.3)"/><ellipse cx="152.3" cy="432.3" rx="4" ry="4" fill="#4a4a4a" transform="rotate(0 152.3 432.3)"/></g><g filter="url(#bl)"><ellipse cx="158" cy="394" rx="14" ry="5" fill="#7a7a7a" transform="rotate(0 158 394)"/><path d="M177,389.2 L213.6,389.2 L213.6,398 L199,405 Z" fill="#767676" stroke-linejoin="round"/><ellipse cx="147.8" cy="415.3" rx="5" ry="12" fill="#7a7a7a" transform="rotate(0 147.8 415.3)"/><ellipse cx="160.3" cy="409.6" rx="6" ry="8" fill="#6a6a6a" transform="rotate(0 160.3 409.6)"/><ellipse cx="206.7" cy="425.5" rx="8" ry="10" fill="#888" transform="rotate(0 206.7 425.5)"/><rect x="166.5" y="417.6" width="23.2" height="18.5" rx="3" fill="#969696" stroke="#b0b0b0" stroke-width="1"/><rect x="168" y="396.5" width="30" height="27" rx="5" fill="#a2a2a2" stroke="#c4c4c4" stroke-width="1.2" transform="rotate(-6 183 410)"/></g></g></g>
<line x1="17" y1="295.5" x2="113.5" y2="295.5" stroke="#c8c8c8" stroke-width="0.9" />
<line x1="17" y1="343" x2="113.5" y2="343" stroke="#c8c8c8" stroke-width="0.9" />
<line x1="17" y1="390" x2="113.5" y2="390" stroke="#c8c8c8" stroke-width="0.9" />
<line x1="143.6" y1="295.2" x2="213.6" y2="295.2" stroke="#c8c8c8" stroke-width="0.9" />
<line x1="143.6" y1="342.4" x2="213.6" y2="342.4" stroke="#c8c8c8" stroke-width="0.9" />
<line x1="143.6" y1="389.2" x2="213.6" y2="389.2" stroke="#c8c8c8" stroke-width="0.9" />
<rect x="98.6" y="268.6" width="10.8" height="8.4" fill="#db8a5b"/>
<text x="0" y="0" font-size="8.2" text-anchor="middle" fill="#eef2ee" transform="translate(104 275.5) scale(0.95 1)" >I</text>
<rect x="98.6" y="318.9" width="10.8" height="8.6" fill="#aacf98"/>
<text x="0" y="0" font-size="8.2" text-anchor="middle" fill="#eef2ee" transform="translate(104 326) scale(0.95 1)" >II</text>
<rect x="98.6" y="364" width="10.8" height="8.6" fill="#3aa298"/>
<text x="0" y="0" font-size="8.2" text-anchor="middle" fill="#eef2ee" transform="translate(104 371.1) scale(0.95 1)" >III</text>
<rect x="98.6" y="410.8" width="10.8" height="8.6" fill="#3d74b0"/>
<text x="0" y="0" font-size="8.2" text-anchor="middle" fill="#eef2ee" transform="translate(104 417.9) scale(0.95 1)" >IV</text>
<rect x="198.1" y="268.6" width="10.8" height="8.4" fill="#db8a5b"/>
<text x="0" y="0" font-size="8.2" text-anchor="middle" fill="#eef2ee" transform="translate(203.5 275.5) scale(0.95 1)" >I</text>
<rect x="198.1" y="318.9" width="10.8" height="8.6" fill="#aacf98"/>
<text x="0" y="0" font-size="8.2" text-anchor="middle" fill="#eef2ee" transform="translate(203.5 326) scale(0.95 1)" >II</text>
<rect x="198.1" y="364" width="10.8" height="8.6" fill="#3aa298"/>
<text x="0" y="0" font-size="8.2" text-anchor="middle" fill="#eef2ee" transform="translate(203.5 371.1) scale(0.95 1)" >III</text>
<rect x="198.1" y="410.8" width="10.8" height="8.6" fill="#3d74b0"/>
<text x="0" y="0" font-size="8.2" text-anchor="middle" fill="#eef2ee" transform="translate(203.5 417.9) scale(0.95 1)" >IV</text>
<line x1="17.6" y1="438.8" x2="17.6" y2="441.9" stroke="#5a4c4c" stroke-width="1" />
<line x1="20.85" y1="438.8" x2="20.85" y2="441.9" stroke="#5a4c4c" stroke-width="1" />
<line x1="24.1" y1="438.8" x2="24.1" y2="441.9" stroke="#5a4c4c" stroke-width="1" />
<line x1="27.35" y1="438.8" x2="27.35" y2="441.9" stroke="#5a4c4c" stroke-width="1" />
<line x1="30.6" y1="438.8" x2="30.6" y2="441.9" stroke="#5a4c4c" stroke-width="1" />
<line x1="33.85" y1="438.8" x2="33.85" y2="441.9" stroke="#5a4c4c" stroke-width="1" />
<line x1="37.1" y1="438.8" x2="37.1" y2="441.9" stroke="#5a4c4c" stroke-width="1" />
<line x1="40.35" y1="438.8" x2="40.35" y2="441.9" stroke="#5a4c4c" stroke-width="1" />
<line x1="43.6" y1="438.8" x2="43.6" y2="441.9" stroke="#5a4c4c" stroke-width="1" />
<line x1="46.85" y1="438.8" x2="46.85" y2="441.9" stroke="#5a4c4c" stroke-width="1" />
<line x1="50.1" y1="438.8" x2="50.1" y2="441.9" stroke="#5a4c4c" stroke-width="1" />
<line x1="144.3" y1="438.8" x2="144.3" y2="441.9" stroke="#5a4c4c" stroke-width="1" />
<line x1="147.35" y1="438.8" x2="147.35" y2="441.9" stroke="#5a4c4c" stroke-width="1" />
<line x1="150.4" y1="438.8" x2="150.4" y2="441.9" stroke="#5a4c4c" stroke-width="1" />
<line x1="153.45" y1="438.8" x2="153.45" y2="441.9" stroke="#5a4c4c" stroke-width="1" />
<line x1="156.5" y1="438.8" x2="156.5" y2="441.9" stroke="#5a4c4c" stroke-width="1" />
<line x1="159.55" y1="438.8" x2="159.55" y2="441.9" stroke="#5a4c4c" stroke-width="1" />
<line x1="162.6" y1="438.8" x2="162.6" y2="441.9" stroke="#5a4c4c" stroke-width="1" />
<line x1="165.65" y1="438.8" x2="165.65" y2="441.9" stroke="#5a4c4c" stroke-width="1" />
<line x1="168.7" y1="438.8" x2="168.7" y2="441.9" stroke="#5a4c4c" stroke-width="1" />
<line x1="171.75" y1="438.8" x2="171.75" y2="441.9" stroke="#5a4c4c" stroke-width="1" />
<line x1="174.8" y1="438.8" x2="174.8" y2="441.9" stroke="#5a4c4c" stroke-width="1" />
<text x="16.6" y="448.9" font-size="8.2" text-anchor="start" fill="#2a2222" >1.00 µm</text>
<text x="143.6" y="448.9" font-size="8.2" text-anchor="start" fill="#2a2222" >200 nm</text>
</svg></body></html>
